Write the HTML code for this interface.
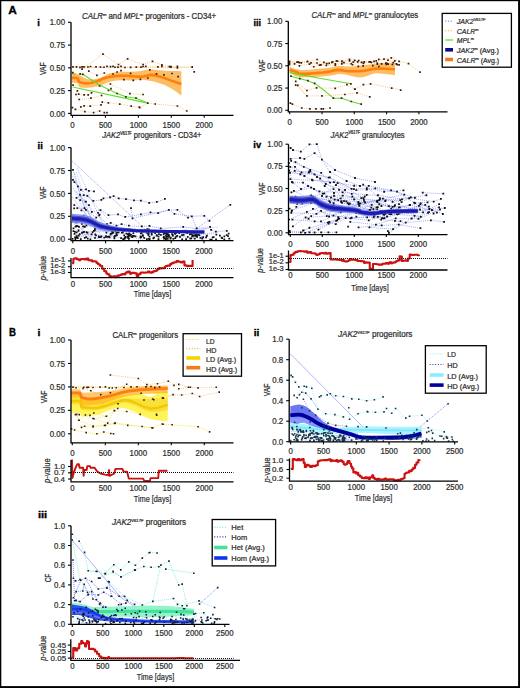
<!DOCTYPE html>
<html><head><meta charset="utf-8"><style>
html,body{margin:0;padding:0;background:#fff;}
body{width:520px;height:688px;overflow:hidden;position:relative;}
svg{position:absolute;left:0;top:0;display:block;}
.t{font-family:"Liberation Sans",sans-serif;font-size:8.0px;fill:#2e2e2e;stroke:#2e2e2e;stroke-width:0.24px;}
.tc{font-family:"Liberation Sans",sans-serif;font-size:8.6px;fill:#2e2e2e;stroke:#2e2e2e;stroke-width:0.2px;}
</style></head><body>
<svg width="520" height="688" viewBox="0 0 520 688">
<rect x="0" y="0" width="520" height="688" fill="#fff"/>
<path d="M72.5 66.9 L192.2 67.2" fill="none" stroke="#f9b655" stroke-width="0.8" stroke-dasharray="1 1.1" opacity="1.0"/>
<path d="M72.5 67.6 L140 67.2 L177.4 67.9" fill="none" stroke="#f9b655" stroke-width="0.7" stroke-dasharray="1 1.1" opacity="1.0"/>
<path d="M82.1 69.2 L103 54.2 L118.5 64.5 L127.6 58.9 L143.1 64.5 L152.5 61.4 L161.9 64.9 L177.4 67.9" fill="none" stroke="#f9b655" stroke-width="0.75" stroke-dasharray="1 1.1" opacity="1.0"/>
<path d="M88.8 71.2 L96.9 75.3 L104.3 73 L113 74 L121 70.6 L130.6 73.3 L149.8 69.9 L156.5 73.9 L163.9 74.9 L172 73.5 L178.1 76.6" fill="none" stroke="#f9b655" stroke-width="0.75" stroke-dasharray="1 1.1" opacity="1.0"/>
<path d="M117 72 L130.6 73.3" fill="none" stroke="#f9b655" stroke-width="0.75" stroke-dasharray="1 1.1" opacity="1.0"/>
<path d="M123.8 79.7 L133.3 80.3 L140.4 79.3 L147.8 78" fill="none" stroke="#f9b655" stroke-width="0.75" stroke-dasharray="1 1.1" opacity="1.0"/>
<path d="M171 67.2 L192.2 67.2 L194.2 71.9" fill="none" stroke="#f9b655" stroke-width="0.75" stroke-dasharray="1 1.1" opacity="1.0"/>
<path d="M73 85.1 L99.6 86 L110.4 84 L129.9 93.7 L143.1 94.5" fill="none" stroke="#f9b655" stroke-width="0.75" stroke-dasharray="1 1.1" opacity="1.0"/>
<path d="M108.4 90.5 L111 88.7" fill="none" stroke="#f9b655" stroke-width="0.75" stroke-dasharray="1 1.1" opacity="1.0"/>
<path d="M77.4 90.8 L76 94.5 L79.2 99.5 L90.9 98.2 L101.6 95.5" fill="none" stroke="#f9b655" stroke-width="0.75" stroke-dasharray="1 1.1" opacity="1.0"/>
<path d="M78.7 94.1 L84.1 94.8 L88.2 94.8 L91.5 92.8" fill="none" stroke="#f9b655" stroke-width="0.75" stroke-dasharray="1 1.1" opacity="1.0"/>
<path d="M80.8 106.9 L84.1 105.8 L90.2 106.2 L101 104.9 L102.3 102.2 L108.4 102.9 L119.8 104.2 L131.2 106.2 L139.3 107.2 L139.7 107.6 L147.8 103.1 L155.2 104 L177.4 106 L186.8 111" fill="none" stroke="#f9b655" stroke-width="0.75" stroke-dasharray="1 1.1" opacity="1.0"/>
<path d="M72.4 107.6 L75.4 109.3 L84.8 111.6 L93.6 112.6 L99.6 111 L104.3 112.6 L107 112.6" fill="none" stroke="#f9b655" stroke-width="0.75" stroke-dasharray="1 1.1" opacity="1.0"/>
<path d="M72 72.3 L73.43 72.57 L75.52 73.03 L78 73.9 L80.81 75.67 L84.01 77.86 L87.5 79.3 L91.39 79.49 L95.57 78.93 L99.6 78 L103.2 76.56 L106.66 74.75 L110.4 73.3 L114.57 72.56 L119.03 72.19 L123.8 71.9 L129.23 71.66 L134.97 71.5 L140 71.2 L143.65 70.5 L146.59 69.66 L149.8 69.2 L153.42 69.44 L157.31 70.07 L162 70.6 L168.65 70.88 L176.1 71.07 L181.4 71.2 L181.4 95.5 L179.22 93.89 L176.07 91.61 L172.7 89.4 L169.34 87.47 L165.75 85.62 L162 84 L157.96 82.66 L153.74 81.55 L149.8 80.7 L146.34 80.14 L143.15 79.83 L140 79.7 L137.09 79.79 L134.22 80.06 L130.6 80.3 L125.55 80.31 L119.75 80.31 L114.4 80.7 L110.01 81.81 L106.09 83.33 L102.3 84.7 L98.63 85.8 L95.1 86.75 L91.5 87.4 L87.37 87.75 L83.16 87.8 L80 87.4 L78.78 86.24 L78.61 84.64 L78 83.4 L76.07 82.9 L73.7 82.76 L72 82.7Z" fill="#fdbd63" opacity="1.0"/>
<path d="M72 78 L73.56 77.85 L75.73 77.7 L77.5 78 L78.17 79.13 L78.44 80.71 L79.4 82 L81.59 82.79 L84.47 83.29 L87.5 83.4 L90.59 83 L93.81 82.22 L96.9 81.3 L99.65 80.23 L102.25 79.03 L105 78 L108.04 77.24 L111.22 76.65 L114.4 76.2 L117.47 75.89 L120.53 75.72 L123.8 75.7 L127.52 75.9 L131.44 76.24 L135 76.5 L137.9 76.65 L140.44 76.73 L143 76.6 L145.62 76.01 L148.27 75.23 L151.2 74.9 L154.61 75.34 L158.31 76.24 L162 77.3 L165.65 78.5 L169.29 79.85 L172.7 81.1 L176.07 82.24 L179.22 83.28 L181.4 84" fill="none" stroke="#ff7f0e" stroke-width="2.6" stroke-linejoin="round" stroke-linecap="butt" opacity="1.0"/>
<path d="M72.7 72.6 L74.7 75.3" fill="none" stroke="#5fdc2c" stroke-width="1.1" stroke-linejoin="round" stroke-linecap="butt" opacity="1.0"/>
<path d="M80.1 73.9 L82.8 74.3 L99 84.7 L117.1 93.5 L125.9 96.8 L136 98.2 L147.8 103.1" fill="none" stroke="#5fdc2c" stroke-width="1.1" stroke-linejoin="round" stroke-linecap="butt" opacity="1.0"/>
<path d="M72.7 87 L147.8 103.1" fill="none" stroke="#5fdc2c" stroke-width="1.1" stroke-linejoin="round" stroke-linecap="butt" opacity="1.0"/>
<path d="M72.15 65.99h1.7v1.7h-1.7zM75.65 66.12h1.7v1.7h-1.7zM79.15 66.56h1.7v1.7h-1.7zM81.25 66.01h1.7v1.7h-1.7zM83.15 66.06h1.7v1.7h-1.7zM87.15 66.15h1.7v1.7h-1.7zM89.65 65.67h1.7v1.7h-1.7zM95.15 66.06h1.7v1.7h-1.7zM99.65 66.21h1.7v1.7h-1.7zM103.15 66.4h1.7v1.7h-1.7zM106.15 65.56h1.7v1.7h-1.7zM109.65 65.81h1.7v1.7h-1.7zM112.15 65.56h1.7v1.7h-1.7zM114.15 66.42h1.7v1.7h-1.7zM117.15 66.28h1.7v1.7h-1.7zM120.15 65.5h1.7v1.7h-1.7zM124.15 66.63h1.7v1.7h-1.7zM129.75 66.61h1.7v1.7h-1.7zM135.45 66.23h1.7v1.7h-1.7zM140.15 66.19h1.7v1.7h-1.7zM142.25 65.64h1.7v1.7h-1.7zM144.95 65.47h1.7v1.7h-1.7zM157.05 66.08h1.7v1.7h-1.7zM161.05 65.52h1.7v1.7h-1.7zM168.45 65.68h1.7v1.7h-1.7zM170.15 65.74h1.7v1.7h-1.7zM176.55 65.49h1.7v1.7h-1.7zM191.35 66.01h1.7v1.7h-1.7zM81.25 68.35h1.7v1.7h-1.7zM102.15 53.35h1.7v1.7h-1.7zM117.65 63.65h1.7v1.7h-1.7zM126.75 58.05h1.7v1.7h-1.7zM142.25 63.65h1.7v1.7h-1.7zM151.65 60.55h1.7v1.7h-1.7zM161.05 64.05h1.7v1.7h-1.7zM176.55 67.05h1.7v1.7h-1.7zM87.95 70.35h1.7v1.7h-1.7zM96.05 74.45h1.7v1.7h-1.7zM103.45 72.15h1.7v1.7h-1.7zM112.15 73.15h1.7v1.7h-1.7zM120.15 69.75h1.7v1.7h-1.7zM129.75 72.45h1.7v1.7h-1.7zM148.95 69.05h1.7v1.7h-1.7zM155.65 73.05h1.7v1.7h-1.7zM163.05 74.05h1.7v1.7h-1.7zM171.15 72.65h1.7v1.7h-1.7zM177.25 75.75h1.7v1.7h-1.7zM116.15 71.15h1.7v1.7h-1.7zM129.75 72.45h1.7v1.7h-1.7zM122.95 78.85h1.7v1.7h-1.7zM132.45 79.45h1.7v1.7h-1.7zM139.55 78.45h1.7v1.7h-1.7zM146.95 77.15h1.7v1.7h-1.7zM170.15 66.35h1.7v1.7h-1.7zM191.35 66.35h1.7v1.7h-1.7zM193.35 71.05h1.7v1.7h-1.7zM72.15 84.25h1.7v1.7h-1.7zM98.75 85.15h1.7v1.7h-1.7zM109.55 83.15h1.7v1.7h-1.7zM129.05 92.85h1.7v1.7h-1.7zM142.25 93.65h1.7v1.7h-1.7zM107.55 89.65h1.7v1.7h-1.7zM110.15 87.85h1.7v1.7h-1.7zM76.55 89.95h1.7v1.7h-1.7zM75.15 93.65h1.7v1.7h-1.7zM78.35 98.65h1.7v1.7h-1.7zM90.05 97.35h1.7v1.7h-1.7zM100.75 94.65h1.7v1.7h-1.7zM77.85 93.25h1.7v1.7h-1.7zM83.25 93.95h1.7v1.7h-1.7zM87.35 93.95h1.7v1.7h-1.7zM90.65 91.95h1.7v1.7h-1.7zM79.95 106.05h1.7v1.7h-1.7zM83.25 104.95h1.7v1.7h-1.7zM89.35 105.35h1.7v1.7h-1.7zM100.15 104.05h1.7v1.7h-1.7zM101.45 101.35h1.7v1.7h-1.7zM107.55 102.05h1.7v1.7h-1.7zM118.95 103.35h1.7v1.7h-1.7zM130.35 105.35h1.7v1.7h-1.7zM138.45 106.35h1.7v1.7h-1.7zM138.85 106.75h1.7v1.7h-1.7zM146.95 102.25h1.7v1.7h-1.7zM154.35 103.15h1.7v1.7h-1.7zM176.55 105.15h1.7v1.7h-1.7zM185.95 110.15h1.7v1.7h-1.7zM71.55 106.75h1.7v1.7h-1.7zM74.55 108.45h1.7v1.7h-1.7zM83.95 110.75h1.7v1.7h-1.7zM92.75 111.75h1.7v1.7h-1.7zM98.75 110.15h1.7v1.7h-1.7zM103.45 111.75h1.7v1.7h-1.7zM106.15 111.75h1.7v1.7h-1.7zM71.85 71.75h1.7v1.7h-1.7zM79.25 73.05h1.7v1.7h-1.7zM81.95 73.45h1.7v1.7h-1.7zM116.25 92.65h1.7v1.7h-1.7zM125.05 95.95h1.7v1.7h-1.7zM135.15 97.35h1.7v1.7h-1.7zM146.95 102.25h1.7v1.7h-1.7z" fill="#3a1a10"/>
<path d="M289.5 61.39 L297.95 61.94 L307.61 61.77 L317.14 59.49 L323.93 62.42 L331.83 62.28 L336.51 60.9 L341.99 61.14 L349.43 59.44 L354.73 60.29 L364.23 61.85 L369.19 61.95 L374.02 61.38 L378.78 59.41 L388.01 60.07 L393.3 62.54" fill="none" stroke="#f9b655" stroke-width="0.7" stroke-dasharray="1 1.1" opacity="1.0"/>
<path d="M289.5 61.73 L299.27 62.53 L307.34 61.46 L316.98 63.01 L326.78 63.66 L332.57 61.96 L337.57 61.27 L341.96 61.76 L349.58 60.81 L357.65 61.88 L363.51 63.42 L370.39 61.81 L377.28 63.05 L381.62 63.92 L385.76 63.2 L394.83 60.86" fill="none" stroke="#f9b655" stroke-width="0.7" stroke-dasharray="1 1.1" opacity="1.0"/>
<path d="M289.5 63.37 L296.97 62.23 L301.25 62.78 L310.98 62.83 L319.52 65.17 L329.17 63.3 L335.3 63.88 L343.95 62.55 L352.44 64.75 L361.6 62.32 L371.27 62.49 L377.32 64.15 L386.83 63.29 L396.37 63.94" fill="none" stroke="#f9b655" stroke-width="0.7" stroke-dasharray="1 1.1" opacity="1.0"/>
<path d="M289.5 64.61 L294.56 63.85 L299.46 65.81 L309.44 64.12 L313.73 66.76 L320.93 64.9 L326.35 65.5 L335.31 65.06 L341.84 63.78 L351.34 63.7 L358.3 66.28 L363.08 65.94 L372.78 65.62 L381.51 63.94 L388.12 64.08 L397.19 64.54" fill="none" stroke="#f9b655" stroke-width="0.7" stroke-dasharray="1 1.1" opacity="1.0"/>
<path d="M376.2 60.9 L384 59.1 L391.3 57.8 L399.1 61.4 L408.5 63.6 L420 72.2" fill="none" stroke="#f9b655" stroke-width="0.75" stroke-dasharray="1 1.1" opacity="1.0"/>
<path d="M289.5 66.5 L291.76 67.58 L295.25 69.04 L300.5 69.9 L308.89 69.63 L319.04 68.77 L327.4 67.9 L332.05 67.14 L334.9 66.37 L338.1 65.9 L342.11 66.03 L346.49 66.45 L352 66.5 L359.5 65.77 L368.15 64.67 L376.2 63.8 L383.56 63.42 L390.33 63.28 L395 63.2 L395 75.3 L389.83 74.59 L382.56 73.65 L376.2 73.3 L371.95 74.1 L368.6 75.5 L365.5 76.6 L362.76 77.18 L360.27 77.47 L357 77.3 L352.3 76.27 L346.82 74.78 L341.5 73.9 L337.17 74.22 L333 75.16 L327.4 76 L318.79 76.71 L308.76 77.34 L300.5 77.3 L295.25 76 L291.76 74.04 L289.5 72.6Z" fill="#fdbd63" opacity="1.0"/>
<path d="M289.5 69.9 L291.39 70.42 L294.05 71.16 L296.4 71.9 L297.63 72.66 L298.55 73.43 L300.5 73.9 L304.27 73.92 L309.08 73.66 L313.9 73.3 L318.5 72.91 L323.1 72.44 L327.4 71.9 L331.22 71.16 L334.73 70.34 L338.1 69.9 L341.36 70.14 L344.49 70.74 L347.6 71.2 L350.77 71.32 L353.94 71.29 L357 71.2 L359.82 71.1 L362.54 70.93 L365.5 70.6 L368.6 69.94 L371.95 69.13 L376.2 68.6 L382.56 68.63 L389.83 68.95 L395 69.2" fill="none" stroke="#ff7f0e" stroke-width="2.6" stroke-linejoin="round" stroke-linecap="butt" opacity="1.0"/>
<path d="M295.7 81.3 L306.9 90.5 L316.6 87.8 L335.2 88.3 L346.9 84.7 L355 89.1" fill="none" stroke="#f9b655" stroke-width="0.75" stroke-dasharray="1 1.1" opacity="1.0"/>
<path d="M297.8 85.4 L306.9 95.9 L322 95.9 L344.9 94.5 L357 92.8 L369.8 96.8" fill="none" stroke="#f9b655" stroke-width="0.75" stroke-dasharray="1 1.1" opacity="1.0"/>
<path d="M295.7 85.1 L306.9 95.9" fill="none" stroke="#f9b655" stroke-width="0.75" stroke-dasharray="1 1.1" opacity="1.0"/>
<path d="M354.7 89.1 L363.4 84.7 L370.6 83.8 L391.7 88.1 L400.7 90.1" fill="none" stroke="#f9b655" stroke-width="0.75" stroke-dasharray="1 1.1" opacity="1.0"/>
<path d="M290.4 103.1 L292.4 104.2 L301.8 108 L309.9 108.9 L315.9 108.9 L321.3 108.9 L323.3 108.9 L330.1 108" fill="none" stroke="#f9b655" stroke-width="0.75" stroke-dasharray="1 1.1" opacity="1.0"/>
<path d="M291 76.2 L299.8 78.6 L307.9 80.7 L314.6 83.4 L324.7 90.8 L333.4 98.2 L341.5 98.2 L351.3 101.5 L361.2 104.2" fill="none" stroke="#5fdc2c" stroke-width="1.1" stroke-linejoin="round" stroke-linecap="butt" opacity="1.0"/>
<path d="M289.7 72.6 L318 78 L350.9 83.8" fill="none" stroke="#5fdc2c" stroke-width="1.1" stroke-linejoin="round" stroke-linecap="butt" opacity="1.0"/>
<path d="M288.65 60.54h1.7v1.7h-1.7zM297.1 61.09h1.7v1.7h-1.7zM306.76 60.92h1.7v1.7h-1.7zM316.29 58.64h1.7v1.7h-1.7zM323.08 61.57h1.7v1.7h-1.7zM330.98 61.43h1.7v1.7h-1.7zM335.66 60.05h1.7v1.7h-1.7zM341.14 60.29h1.7v1.7h-1.7zM348.58 58.59h1.7v1.7h-1.7zM353.88 59.44h1.7v1.7h-1.7zM363.38 61h1.7v1.7h-1.7zM368.34 61.1h1.7v1.7h-1.7zM373.17 60.53h1.7v1.7h-1.7zM377.93 58.56h1.7v1.7h-1.7zM387.16 59.22h1.7v1.7h-1.7zM392.45 61.69h1.7v1.7h-1.7zM288.65 60.88h1.7v1.7h-1.7zM298.42 61.68h1.7v1.7h-1.7zM306.49 60.61h1.7v1.7h-1.7zM316.13 62.16h1.7v1.7h-1.7zM325.93 62.81h1.7v1.7h-1.7zM331.72 61.11h1.7v1.7h-1.7zM336.72 60.42h1.7v1.7h-1.7zM341.11 60.91h1.7v1.7h-1.7zM348.73 59.96h1.7v1.7h-1.7zM356.8 61.03h1.7v1.7h-1.7zM362.66 62.57h1.7v1.7h-1.7zM369.54 60.96h1.7v1.7h-1.7zM376.43 62.2h1.7v1.7h-1.7zM380.77 63.07h1.7v1.7h-1.7zM384.91 62.35h1.7v1.7h-1.7zM393.98 60.01h1.7v1.7h-1.7zM288.65 62.52h1.7v1.7h-1.7zM296.12 61.38h1.7v1.7h-1.7zM300.4 61.93h1.7v1.7h-1.7zM310.13 61.98h1.7v1.7h-1.7zM318.67 64.32h1.7v1.7h-1.7zM328.32 62.45h1.7v1.7h-1.7zM334.45 63.03h1.7v1.7h-1.7zM343.1 61.7h1.7v1.7h-1.7zM351.59 63.9h1.7v1.7h-1.7zM360.75 61.47h1.7v1.7h-1.7zM370.42 61.64h1.7v1.7h-1.7zM376.47 63.3h1.7v1.7h-1.7zM385.98 62.44h1.7v1.7h-1.7zM395.52 63.09h1.7v1.7h-1.7zM288.65 63.76h1.7v1.7h-1.7zM293.71 63h1.7v1.7h-1.7zM298.61 64.96h1.7v1.7h-1.7zM308.59 63.27h1.7v1.7h-1.7zM312.88 65.91h1.7v1.7h-1.7zM320.08 64.05h1.7v1.7h-1.7zM325.5 64.65h1.7v1.7h-1.7zM334.46 64.21h1.7v1.7h-1.7zM340.99 62.93h1.7v1.7h-1.7zM350.49 62.85h1.7v1.7h-1.7zM357.45 65.43h1.7v1.7h-1.7zM362.23 65.09h1.7v1.7h-1.7zM371.93 64.77h1.7v1.7h-1.7zM380.66 63.09h1.7v1.7h-1.7zM387.27 63.23h1.7v1.7h-1.7zM396.34 63.69h1.7v1.7h-1.7zM352.45 61.35h1.7v1.7h-1.7zM357.85 59.65h1.7v1.7h-1.7zM375.35 60.05h1.7v1.7h-1.7zM383.15 58.25h1.7v1.7h-1.7zM390.45 56.95h1.7v1.7h-1.7zM398.25 60.55h1.7v1.7h-1.7zM398.25 64.05h1.7v1.7h-1.7zM407.65 62.75h1.7v1.7h-1.7zM419.15 71.35h1.7v1.7h-1.7zM385.45 63.65h1.7v1.7h-1.7zM391.55 63.65h1.7v1.7h-1.7zM378.05 65.65h1.7v1.7h-1.7zM294.85 80.45h1.7v1.7h-1.7zM306.05 89.65h1.7v1.7h-1.7zM315.75 86.95h1.7v1.7h-1.7zM334.35 87.45h1.7v1.7h-1.7zM346.05 83.85h1.7v1.7h-1.7zM354.15 88.25h1.7v1.7h-1.7zM296.95 84.55h1.7v1.7h-1.7zM306.05 95.05h1.7v1.7h-1.7zM321.15 95.05h1.7v1.7h-1.7zM344.05 93.65h1.7v1.7h-1.7zM356.15 91.95h1.7v1.7h-1.7zM368.95 95.95h1.7v1.7h-1.7zM294.85 84.25h1.7v1.7h-1.7zM306.05 95.05h1.7v1.7h-1.7zM353.85 88.25h1.7v1.7h-1.7zM362.55 83.85h1.7v1.7h-1.7zM369.75 82.95h1.7v1.7h-1.7zM390.85 87.25h1.7v1.7h-1.7zM399.85 89.25h1.7v1.7h-1.7zM289.55 102.25h1.7v1.7h-1.7zM291.55 103.35h1.7v1.7h-1.7zM300.95 107.15h1.7v1.7h-1.7zM309.05 108.05h1.7v1.7h-1.7zM315.05 108.05h1.7v1.7h-1.7zM320.45 108.05h1.7v1.7h-1.7zM322.45 108.05h1.7v1.7h-1.7zM329.25 107.15h1.7v1.7h-1.7zM290.15 75.35h1.7v1.7h-1.7zM298.95 77.75h1.7v1.7h-1.7zM307.05 79.85h1.7v1.7h-1.7zM313.75 82.55h1.7v1.7h-1.7zM332.55 97.35h1.7v1.7h-1.7zM340.65 97.35h1.7v1.7h-1.7zM350.45 100.65h1.7v1.7h-1.7zM360.35 103.35h1.7v1.7h-1.7zM350.05 82.95h1.7v1.7h-1.7z" fill="#3a1a10"/>
<path d="M72.2 161 L146 230" fill="none" stroke="#7f8ef5" stroke-width="0.8" stroke-dasharray="1 1" opacity="1.0"/>
<path d="M72.9 179.9 L74.4 182.1 L78 186.4 L80.9 190 L86 189.3 L88.9 190.8 L94 191.5" fill="none" stroke="#6f7ff2" stroke-width="0.7" stroke-dasharray="1 1" opacity="1.0"/>
<path d="M76.5 198 L83.8 195.1 L87.4 195.9 L93.3 201 L101.3 199.9 L103.4 198.5 L110 197.3 L113.6 196.2 L118.7 198.5 L126 199.1 L134 200.5 L140.9 200.6 L149.2 202.9 L156.8 201.9 L164.9 199" fill="none" stroke="#6f7ff2" stroke-width="0.7" stroke-dasharray="1 1" opacity="1.0"/>
<path d="M80.2 200.2 L86 201.7 L91.8 211.9 L100.5 210.1 L108.5 215.1 L118 214.5 L125.2 217 L140.9 214.4 L150.5 212.5 L158.2 213.1 L168.8 210 L177.4 210 L188 217.7 L191.8 216.3 L204.3 215.8 L209.5 220.8" fill="none" stroke="#6f7ff2" stroke-width="0.7" stroke-dasharray="1 1" opacity="1.0"/>
<path d="M77.3 208.2 L84.5 208.2 L96.2 217.7 L99.1 215.5 L107 224.2 L110.7 222.8 L116.5 225.7 L121.6 224.2 L128.9 225.7 L141.8 226.5 L149.5 226 L160.7 228.5 L183.2 226.9 L196.7 228.5 L230.3 204.8" fill="none" stroke="#6f7ff2" stroke-width="0.7" stroke-dasharray="1 1" opacity="1.0"/>
<path d="M131 208.2 L132.5 218.4 L168.8 210 L174.5 213.8 L191.8 216.3 L196.7 228.5" fill="none" stroke="#6f7ff2" stroke-width="0.7" stroke-dasharray="1 1" opacity="1.0"/>
<path d="M73 170 L80 195 L86 210 L95 222" fill="none" stroke="#6f7ff2" stroke-width="0.7" stroke-dasharray="1 1" opacity="1.0"/>
<path d="M210.1 226.9 L211.1 229.8 L215.9 231.7 L226.8 230.8" fill="none" stroke="#6f7ff2" stroke-width="0.7" stroke-dasharray="1 1" opacity="1.0"/>
<path d="M75.35 235.16 L103.22 237.79" fill="none" stroke="#8d99f5" stroke-width="0.6" stroke-dasharray="1 1" opacity="1.0"/>
<path d="M75.87 222.24 L92.83 238.94" fill="none" stroke="#8d99f5" stroke-width="0.6" stroke-dasharray="1 1" opacity="1.0"/>
<path d="M79.36 186.61 L107.91 219.43" fill="none" stroke="#8d99f5" stroke-width="0.6" stroke-dasharray="1 1" opacity="1.0"/>
<path d="M72.77 218.45 L87.24 227.47" fill="none" stroke="#8d99f5" stroke-width="0.6" stroke-dasharray="1 1" opacity="1.0"/>
<path d="M77.11 168 L101.51 221.62" fill="none" stroke="#8d99f5" stroke-width="0.6" stroke-dasharray="1 1" opacity="1.0"/>
<path d="M75.46 190.51 L99.79 232.92" fill="none" stroke="#8d99f5" stroke-width="0.6" stroke-dasharray="1 1" opacity="1.0"/>
<path d="M74.3 172.65 L88.88 224.87" fill="none" stroke="#8d99f5" stroke-width="0.6" stroke-dasharray="1 1" opacity="1.0"/>
<path d="M72.62 176.34 L97.4 231.81" fill="none" stroke="#8d99f5" stroke-width="0.6" stroke-dasharray="1 1" opacity="1.0"/>
<path d="M79.81 237.49 L107.09 223.94" fill="none" stroke="#8d99f5" stroke-width="0.6" stroke-dasharray="1 1" opacity="1.0"/>
<path d="M73.29 188.08 L91.48 227.62" fill="none" stroke="#8d99f5" stroke-width="0.6" stroke-dasharray="1 1" opacity="1.0"/>
<path d="M76.34 191.62 L103.1 221.84" fill="none" stroke="#8d99f5" stroke-width="0.6" stroke-dasharray="1 1" opacity="1.0"/>
<path d="M75.71 230.62 L101.46 222.14" fill="none" stroke="#8d99f5" stroke-width="0.6" stroke-dasharray="1 1" opacity="1.0"/>
<path d="M73.94 224.69 L82.16 218.16" fill="none" stroke="#8d99f5" stroke-width="0.6" stroke-dasharray="1 1" opacity="1.0"/>
<path d="M76.25 204.65 L87.89 216.21" fill="none" stroke="#8d99f5" stroke-width="0.6" stroke-dasharray="1 1" opacity="1.0"/>
<path d="M73.63 221.98 L91.88 238.5" fill="none" stroke="#8d99f5" stroke-width="0.6" stroke-dasharray="1 1" opacity="1.0"/>
<path d="M78.28 237.46 L87.06 219.44" fill="none" stroke="#8d99f5" stroke-width="0.6" stroke-dasharray="1 1" opacity="1.0"/>
<path d="M72.11 196.99 L87.55 216.23" fill="none" stroke="#8d99f5" stroke-width="0.6" stroke-dasharray="1 1" opacity="1.0"/>
<path d="M76.37 171.94 L91.22 220.93" fill="none" stroke="#8d99f5" stroke-width="0.6" stroke-dasharray="1 1" opacity="1.0"/>
<path d="M174.67 232.6 L187.1 228.95" fill="none" stroke="#8d99f5" stroke-width="0.6" stroke-dasharray="1 1" opacity="1.0"/>
<path d="M126.98 234.9 L146.46 238.2" fill="none" stroke="#8d99f5" stroke-width="0.6" stroke-dasharray="1 1" opacity="1.0"/>
<path d="M175.5 230.72 L185.8 232.79" fill="none" stroke="#8d99f5" stroke-width="0.6" stroke-dasharray="1 1" opacity="1.0"/>
<path d="M173.06 233.6 L195.18 234.01" fill="none" stroke="#8d99f5" stroke-width="0.6" stroke-dasharray="1 1" opacity="1.0"/>
<path d="M107.79 229.86 L116.08 231" fill="none" stroke="#8d99f5" stroke-width="0.6" stroke-dasharray="1 1" opacity="1.0"/>
<path d="M186.81 237.97 L202.76 239.29" fill="none" stroke="#8d99f5" stroke-width="0.6" stroke-dasharray="1 1" opacity="1.0"/>
<path d="M190.86 236.95 L209.11 236.27" fill="none" stroke="#8d99f5" stroke-width="0.6" stroke-dasharray="1 1" opacity="1.0"/>
<path d="M138.36 229.88 L149.47 231.35" fill="none" stroke="#8d99f5" stroke-width="0.6" stroke-dasharray="1 1" opacity="1.0"/>
<path d="M198.99 234.02 L213.93 232.83" fill="none" stroke="#8d99f5" stroke-width="0.6" stroke-dasharray="1 1" opacity="1.0"/>
<path d="M130.23 236.83 L145.92 240.51" fill="none" stroke="#8d99f5" stroke-width="0.6" stroke-dasharray="1 1" opacity="1.0"/>
<path d="M91.88 231.46 L108.75 230.76" fill="none" stroke="#8d99f5" stroke-width="0.6" stroke-dasharray="1 1" opacity="1.0"/>
<path d="M180.94 237.1 L204.77 238" fill="none" stroke="#8d99f5" stroke-width="0.6" stroke-dasharray="1 1" opacity="1.0"/>
<path d="M75.92 234.32 L93.26 234.22" fill="none" stroke="#8d99f5" stroke-width="0.6" stroke-dasharray="1 1" opacity="1.0"/>
<path d="M107.82 235.8 L131.32 232.62" fill="none" stroke="#8d99f5" stroke-width="0.6" stroke-dasharray="1 1" opacity="1.0"/>
<path d="M157.59 232.08 L174.34 235.25" fill="none" stroke="#8d99f5" stroke-width="0.6" stroke-dasharray="1 1" opacity="1.0"/>
<path d="M194.92 235.08 L206.24 238.44" fill="none" stroke="#8d99f5" stroke-width="0.6" stroke-dasharray="1 1" opacity="1.0"/>
<path d="M95.18 232.22 L117.26 230.75" fill="none" stroke="#8d99f5" stroke-width="0.6" stroke-dasharray="1 1" opacity="1.0"/>
<path d="M106.67 238.45 L130.72 236.99" fill="none" stroke="#8d99f5" stroke-width="0.6" stroke-dasharray="1 1" opacity="1.0"/>
<path d="M122.24 231.1 L132.48 229.1" fill="none" stroke="#8d99f5" stroke-width="0.6" stroke-dasharray="1 1" opacity="1.0"/>
<path d="M197.46 228.87 L209.37 226.47" fill="none" stroke="#8d99f5" stroke-width="0.6" stroke-dasharray="1 1" opacity="1.0"/>
<path d="M82.18 233.79 L102.81 236.5" fill="none" stroke="#8d99f5" stroke-width="0.6" stroke-dasharray="1 1" opacity="1.0"/>
<path d="M152.78 237 L160.87 235.25" fill="none" stroke="#8d99f5" stroke-width="0.6" stroke-dasharray="1 1" opacity="1.0"/>
<path d="M195.03 228.76 L207.58 228.63" fill="none" stroke="#8d99f5" stroke-width="0.6" stroke-dasharray="1 1" opacity="1.0"/>
<path d="M106.29 234.01 L115.09 231.89" fill="none" stroke="#8d99f5" stroke-width="0.6" stroke-dasharray="1 1" opacity="1.0"/>
<path d="M194.57 229.59 L217.96 227.01" fill="none" stroke="#8d99f5" stroke-width="0.6" stroke-dasharray="1 1" opacity="1.0"/>
<path d="M199.08 235.42 L218.08 232.56" fill="none" stroke="#8d99f5" stroke-width="0.6" stroke-dasharray="1 1" opacity="1.0"/>
<path d="M78.99 236.35 L89.98 233.87" fill="none" stroke="#8d99f5" stroke-width="0.6" stroke-dasharray="1 1" opacity="1.0"/>
<path d="M177.3 237.62 L186.13 241.31" fill="none" stroke="#8d99f5" stroke-width="0.6" stroke-dasharray="1 1" opacity="1.0"/>
<path d="M140.44 232.21 L150.26 231.33" fill="none" stroke="#8d99f5" stroke-width="0.6" stroke-dasharray="1 1" opacity="1.0"/>
<path d="M198.4 231.09 L208.63 228.25" fill="none" stroke="#8d99f5" stroke-width="0.6" stroke-dasharray="1 1" opacity="1.0"/>
<path d="M88.24 231.88 L111.8 228.49" fill="none" stroke="#8d99f5" stroke-width="0.6" stroke-dasharray="1 1" opacity="1.0"/>
<path d="M96.57 238.33 L121.52 242.17" fill="none" stroke="#8d99f5" stroke-width="0.6" stroke-dasharray="1 1" opacity="1.0"/>
<path d="M103.48 231.9 L127.65 231.78" fill="none" stroke="#8d99f5" stroke-width="0.6" stroke-dasharray="1 1" opacity="1.0"/>
<path d="M162.04 231.45 L170.4 230.21" fill="none" stroke="#8d99f5" stroke-width="0.6" stroke-dasharray="1 1" opacity="1.0"/>
<path d="M167.77 236.6 L185.44 236.31" fill="none" stroke="#8d99f5" stroke-width="0.6" stroke-dasharray="1 1" opacity="1.0"/>
<path d="M140.88 232.87 L157.97 235.53" fill="none" stroke="#8d99f5" stroke-width="0.6" stroke-dasharray="1 1" opacity="1.0"/>
<path d="M97.66 234.54 L121.52 237.32" fill="none" stroke="#8d99f5" stroke-width="0.6" stroke-dasharray="1 1" opacity="1.0"/>
<path d="M94.97 238.6 L117.25 235.94" fill="none" stroke="#8d99f5" stroke-width="0.6" stroke-dasharray="1 1" opacity="1.0"/>
<path d="M106.03 230.23 L114.94 234.05" fill="none" stroke="#8d99f5" stroke-width="0.6" stroke-dasharray="1 1" opacity="1.0"/>
<path d="M124.39 237.6 L134.34 233.71" fill="none" stroke="#8d99f5" stroke-width="0.6" stroke-dasharray="1 1" opacity="1.0"/>
<path d="M72.03 179.03h1.75v1.75h-1.75zM73.53 181.22h1.75v1.75h-1.75zM77.12 185.53h1.75v1.75h-1.75zM80.03 189.12h1.75v1.75h-1.75zM85.12 188.43h1.75v1.75h-1.75zM88.03 189.93h1.75v1.75h-1.75zM93.12 190.62h1.75v1.75h-1.75zM75.62 197.12h1.75v1.75h-1.75zM82.92 194.22h1.75v1.75h-1.75zM86.53 195.03h1.75v1.75h-1.75zM92.42 200.12h1.75v1.75h-1.75zM100.42 199.03h1.75v1.75h-1.75zM102.53 197.62h1.75v1.75h-1.75zM109.12 196.43h1.75v1.75h-1.75zM112.72 195.32h1.75v1.75h-1.75zM117.83 197.62h1.75v1.75h-1.75zM125.12 198.22h1.75v1.75h-1.75zM133.12 199.62h1.75v1.75h-1.75zM140.03 199.72h1.75v1.75h-1.75zM148.32 202.03h1.75v1.75h-1.75zM155.93 201.03h1.75v1.75h-1.75zM164.03 198.12h1.75v1.75h-1.75zM79.33 199.32h1.75v1.75h-1.75zM85.12 200.82h1.75v1.75h-1.75zM90.92 211.03h1.75v1.75h-1.75zM99.62 209.22h1.75v1.75h-1.75zM107.62 214.22h1.75v1.75h-1.75zM117.12 213.62h1.75v1.75h-1.75zM124.33 216.12h1.75v1.75h-1.75zM140.03 213.53h1.75v1.75h-1.75zM149.62 211.62h1.75v1.75h-1.75zM157.32 212.22h1.75v1.75h-1.75zM167.93 209.12h1.75v1.75h-1.75zM176.53 209.12h1.75v1.75h-1.75zM187.12 216.82h1.75v1.75h-1.75zM190.93 215.43h1.75v1.75h-1.75zM203.43 214.93h1.75v1.75h-1.75zM208.62 219.93h1.75v1.75h-1.75zM76.42 207.32h1.75v1.75h-1.75zM83.62 207.32h1.75v1.75h-1.75zM95.33 216.82h1.75v1.75h-1.75zM98.22 214.62h1.75v1.75h-1.75zM106.12 223.32h1.75v1.75h-1.75zM109.83 221.93h1.75v1.75h-1.75zM115.62 224.82h1.75v1.75h-1.75zM120.72 223.32h1.75v1.75h-1.75zM128.03 224.82h1.75v1.75h-1.75zM140.93 225.62h1.75v1.75h-1.75zM148.62 225.12h1.75v1.75h-1.75zM159.82 227.62h1.75v1.75h-1.75zM182.32 226.03h1.75v1.75h-1.75zM195.82 227.62h1.75v1.75h-1.75zM229.43 203.93h1.75v1.75h-1.75zM130.12 207.32h1.75v1.75h-1.75zM131.62 217.53h1.75v1.75h-1.75zM167.93 209.12h1.75v1.75h-1.75zM173.62 212.93h1.75v1.75h-1.75zM190.93 215.43h1.75v1.75h-1.75zM195.82 227.62h1.75v1.75h-1.75zM72.12 169.12h1.75v1.75h-1.75zM79.12 194.12h1.75v1.75h-1.75zM85.12 209.12h1.75v1.75h-1.75zM94.12 221.12h1.75v1.75h-1.75zM209.22 226.03h1.75v1.75h-1.75zM210.22 228.93h1.75v1.75h-1.75zM215.03 230.82h1.75v1.75h-1.75zM225.93 229.93h1.75v1.75h-1.75zM140.79 232.05h1.75v1.75h-1.75zM151.22 230.69h1.75v1.75h-1.75zM178.32 232.36h1.75v1.75h-1.75zM198.57 234.17h1.75v1.75h-1.75zM132.1 234.9h1.75v1.75h-1.75zM152.39 237.59h1.75v1.75h-1.75zM166.01 235.9h1.75v1.75h-1.75zM168.18 235.21h1.75v1.75h-1.75zM75.09 236.76h1.75v1.75h-1.75zM163.13 237.68h1.75v1.75h-1.75zM189.03 233.52h1.75v1.75h-1.75zM128.04 238.04h1.75v1.75h-1.75zM83.6 226.11h1.75v1.75h-1.75zM194.71 233.88h1.75v1.75h-1.75zM109.66 233.5h1.75v1.75h-1.75zM116.04 234.33h1.75v1.75h-1.75zM186.86 235.99h1.75v1.75h-1.75zM225.81 234.26h1.75v1.75h-1.75zM181.29 238.42h1.75v1.75h-1.75zM215.18 238.47h1.75v1.75h-1.75zM98.15 236.27h1.75v1.75h-1.75zM107.6 225.05h1.75v1.75h-1.75zM197.82 230.89h1.75v1.75h-1.75zM123.66 229.72h1.75v1.75h-1.75zM169.53 237.63h1.75v1.75h-1.75zM149.79 230.51h1.75v1.75h-1.75zM113.49 237.46h1.75v1.75h-1.75zM212.83 236.14h1.75v1.75h-1.75zM147.89 228.46h1.75v1.75h-1.75zM123.34 234.6h1.75v1.75h-1.75zM76.56 236.79h1.75v1.75h-1.75zM193.83 237.84h1.75v1.75h-1.75zM130.06 233.64h1.75v1.75h-1.75zM147.37 234.05h1.75v1.75h-1.75zM191.52 234.49h1.75v1.75h-1.75zM163.32 232.17h1.75v1.75h-1.75zM196.28 234.61h1.75v1.75h-1.75zM72.59 230.19h1.75v1.75h-1.75zM73.69 233.12h1.75v1.75h-1.75zM78.82 233.28h1.75v1.75h-1.75zM158.07 233.16h1.75v1.75h-1.75zM165.59 230.32h1.75v1.75h-1.75zM157.66 238.41h1.75v1.75h-1.75zM129.53 234.41h1.75v1.75h-1.75zM117.71 231.44h1.75v1.75h-1.75zM147.36 231.31h1.75v1.75h-1.75zM169.98 230.36h1.75v1.75h-1.75zM165.23 232.79h1.75v1.75h-1.75zM174.01 232.18h1.75v1.75h-1.75zM126.83 235.52h1.75v1.75h-1.75zM112.34 231.66h1.75v1.75h-1.75zM127.24 237.19h1.75v1.75h-1.75zM114.22 235.02h1.75v1.75h-1.75zM210.82 238.7h1.75v1.75h-1.75zM86.6 231.86h1.75v1.75h-1.75zM174.39 237.34h1.75v1.75h-1.75zM106.78 235.91h1.75v1.75h-1.75zM174.33 233.09h1.75v1.75h-1.75zM108.49 235.72h1.75v1.75h-1.75zM115.46 232.54h1.75v1.75h-1.75zM123.54 237.88h1.75v1.75h-1.75zM71.72 237.9h1.75v1.75h-1.75zM197.45 233.86h1.75v1.75h-1.75zM228.44 237.86h1.75v1.75h-1.75zM155.99 234.59h1.75v1.75h-1.75zM114.78 230.54h1.75v1.75h-1.75zM146.48 231.17h1.75v1.75h-1.75zM76.89 237.32h1.75v1.75h-1.75zM189.38 237.84h1.75v1.75h-1.75zM215.47 233.84h1.75v1.75h-1.75zM166.52 231.6h1.75v1.75h-1.75zM155.98 234.64h1.75v1.75h-1.75zM191.32 235.39h1.75v1.75h-1.75zM103.44 236.71h1.75v1.75h-1.75zM171.26 233.15h1.75v1.75h-1.75zM139.56 236.78h1.75v1.75h-1.75zM172.46 238.05h1.75v1.75h-1.75zM176.53 230.19h1.75v1.75h-1.75zM181.53 230.55h1.75v1.75h-1.75zM105.5 231.82h1.75v1.75h-1.75zM131.66 236.36h1.75v1.75h-1.75zM78.14 225.98h1.75v1.75h-1.75zM79.88 238.36h1.75v1.75h-1.75zM82.15 231.46h1.75v1.75h-1.75zM111.39 231.85h1.75v1.75h-1.75zM146.21 231.95h1.75v1.75h-1.75zM113.21 229.44h1.75v1.75h-1.75zM162.78 233.4h1.75v1.75h-1.75zM93.98 229.57h1.75v1.75h-1.75zM171.3 233.4h1.75v1.75h-1.75zM150.86 233.84h1.75v1.75h-1.75zM134.63 235.58h1.75v1.75h-1.75zM159.97 234.09h1.75v1.75h-1.75zM139.71 235.49h1.75v1.75h-1.75zM125.51 232.64h1.75v1.75h-1.75zM190.99 233.34h1.75v1.75h-1.75zM223.39 238.47h1.75v1.75h-1.75zM175.22 235.82h1.75v1.75h-1.75zM223.45 235.38h1.75v1.75h-1.75zM165.04 234.97h1.75v1.75h-1.75zM146.36 228.18h1.75v1.75h-1.75zM170.24 230.51h1.75v1.75h-1.75zM83.84 236.98h1.75v1.75h-1.75zM74.13 236.41h1.75v1.75h-1.75zM179.15 235.92h1.75v1.75h-1.75zM193.03 235.11h1.75v1.75h-1.75zM75.77 235.33h1.75v1.75h-1.75zM162.67 231.04h1.75v1.75h-1.75zM190.75 230.65h1.75v1.75h-1.75zM143.31 236.9h1.75v1.75h-1.75zM94.14 227.77h1.75v1.75h-1.75zM167.58 233.51h1.75v1.75h-1.75zM121.89 231.84h1.75v1.75h-1.75zM81.78 231.43h1.75v1.75h-1.75zM209.4 238.7h1.75v1.75h-1.75zM167.91 235.92h1.75v1.75h-1.75zM133.04 234.94h1.75v1.75h-1.75zM199.65 236.95h1.75v1.75h-1.75zM166.89 238.01h1.75v1.75h-1.75zM127.84 235.75h1.75v1.75h-1.75zM105.35 227.03h1.75v1.75h-1.75zM111.43 230.59h1.75v1.75h-1.75zM193.16 232.67h1.75v1.75h-1.75zM124.01 237.17h1.75v1.75h-1.75zM105.32 227.3h1.75v1.75h-1.75zM132.5 232.18h1.75v1.75h-1.75zM117.27 231.54h1.75v1.75h-1.75zM89.51 238.6h1.75v1.75h-1.75zM147.8 233.09h1.75v1.75h-1.75zM176.29 234.92h1.75v1.75h-1.75zM163.38 237.49h1.75v1.75h-1.75zM165.02 238.38h1.75v1.75h-1.75zM100.51 227.55h1.75v1.75h-1.75zM157.57 238.37h1.75v1.75h-1.75zM102.11 226.89h1.75v1.75h-1.75zM95.08 234.41h1.75v1.75h-1.75zM186.29 232.32h1.75v1.75h-1.75zM111.24 232.61h1.75v1.75h-1.75zM82.12 225.48h1.75v1.75h-1.75zM108.47 229.33h1.75v1.75h-1.75zM157.59 230.18h1.75v1.75h-1.75zM126.96 233.28h1.75v1.75h-1.75zM146.02 238.25h1.75v1.75h-1.75zM140.8 229.39h1.75v1.75h-1.75zM156.3 231.09h1.75v1.75h-1.75zM227.75 232.87h1.75v1.75h-1.75zM169.99 236.64h1.75v1.75h-1.75zM157.64 235.75h1.75v1.75h-1.75zM105.12 235.14h1.75v1.75h-1.75zM219.02 234.64h1.75v1.75h-1.75zM85.63 231.34h1.75v1.75h-1.75zM163.04 235.96h1.75v1.75h-1.75zM94.42 233.55h1.75v1.75h-1.75zM94.05 237.12h1.75v1.75h-1.75zM86.89 237.73h1.75v1.75h-1.75zM113.56 235.76h1.75v1.75h-1.75zM142.16 234.99h1.75v1.75h-1.75zM111.12 229.99h1.75v1.75h-1.75zM162.75 236.61h1.75v1.75h-1.75zM165.8 233.21h1.75v1.75h-1.75zM120.2 237.37h1.75v1.75h-1.75zM135.73 230.75h1.75v1.75h-1.75zM116.45 231.65h1.75v1.75h-1.75zM140.44 236.31h1.75v1.75h-1.75zM179.53 231.09h1.75v1.75h-1.75zM83.88 225.77h1.75v1.75h-1.75zM164.22 231.71h1.75v1.75h-1.75zM124.46 236h1.75v1.75h-1.75zM166.96 235.22h1.75v1.75h-1.75zM122.12 230.18h1.75v1.75h-1.75zM143.88 230.27h1.75v1.75h-1.75zM171.18 230.38h1.75v1.75h-1.75zM185.2 238.29h1.75v1.75h-1.75zM141.86 234.31h1.75v1.75h-1.75zM196.18 236.03h1.75v1.75h-1.75zM181.21 234.29h1.75v1.75h-1.75zM164.16 230.15h1.75v1.75h-1.75zM155.85 234.36h1.75v1.75h-1.75zM130.07 230.18h1.75v1.75h-1.75zM75.87 231.43h1.75v1.75h-1.75zM127.99 234.12h1.75v1.75h-1.75zM227.13 235.22h1.75v1.75h-1.75zM77.6 229.38h1.75v1.75h-1.75zM81.09 231.99h1.75v1.75h-1.75zM206.08 234.72h1.75v1.75h-1.75zM160.04 231.28h1.75v1.75h-1.75zM148.07 237.95h1.75v1.75h-1.75zM165.81 233.08h1.75v1.75h-1.75zM190.39 237.53h1.75v1.75h-1.75zM168 234.3h1.75v1.75h-1.75zM76.59 225.26h1.75v1.75h-1.75zM91.71 231.38h1.75v1.75h-1.75zM139.92 232.6h1.75v1.75h-1.75zM110.12 233.05h1.75v1.75h-1.75zM122.51 230.04h1.75v1.75h-1.75zM220.75 236.79h1.75v1.75h-1.75zM147.47 230.5h1.75v1.75h-1.75zM97.88 235.56h1.75v1.75h-1.75zM130 230.2h1.75v1.75h-1.75zM92.98 230.02h1.75v1.75h-1.75zM74.64 225.73h1.75v1.75h-1.75zM133.88 228.76h1.75v1.75h-1.75zM128.47 232.45h1.75v1.75h-1.75zM77.67 230.01h1.75v1.75h-1.75zM74.54 238.22h1.75v1.75h-1.75zM83.19 231.05h1.75v1.75h-1.75zM150.8 233.1h1.75v1.75h-1.75zM77.77 234.75h1.75v1.75h-1.75zM171.97 234.13h1.75v1.75h-1.75zM205.25 236.58h1.75v1.75h-1.75zM105.15 236.02h1.75v1.75h-1.75zM115.25 229.12h1.75v1.75h-1.75zM195.19 235.22h1.75v1.75h-1.75zM75 225.45h1.75v1.75h-1.75zM75.81 224.91h1.75v1.75h-1.75zM186.36 231.85h1.75v1.75h-1.75zM211.77 236.51h1.75v1.75h-1.75zM195.39 232.4h1.75v1.75h-1.75zM148.81 238.16h1.75v1.75h-1.75zM108.68 236.53h1.75v1.75h-1.75zM121.03 231.67h1.75v1.75h-1.75zM189.98 231.63h1.75v1.75h-1.75zM165.07 237.31h1.75v1.75h-1.75zM189.33 233.25h1.75v1.75h-1.75zM100.49 235.51h1.75v1.75h-1.75zM105.62 226.6h1.75v1.75h-1.75zM148.66 235.66h1.75v1.75h-1.75zM133.48 229.76h1.75v1.75h-1.75zM74.06 230.94h1.75v1.75h-1.75zM157.82 230.96h1.75v1.75h-1.75zM179.11 235.65h1.75v1.75h-1.75zM182.77 233.99h1.75v1.75h-1.75zM221.24 237.28h1.75v1.75h-1.75zM122.24 238.26h1.75v1.75h-1.75zM143.94 229.29h1.75v1.75h-1.75zM154.21 232.19h1.75v1.75h-1.75zM90.67 233.54h1.75v1.75h-1.75zM72.62 227.48h1.75v1.75h-1.75zM202.27 236.23h1.75v1.75h-1.75zM124.84 236.41h1.75v1.75h-1.75zM172.07 234.73h1.75v1.75h-1.75zM93.86 225.28h1.75v1.75h-1.75zM85.53 224.48h1.75v1.75h-1.75zM201.5 237.73h1.75v1.75h-1.75zM99.64 236.24h1.75v1.75h-1.75zM153.28 236.67h1.75v1.75h-1.75zM115.42 234.52h1.75v1.75h-1.75zM85.33 236.32h1.75v1.75h-1.75zM175.42 231.9h1.75v1.75h-1.75zM130.54 235.84h1.75v1.75h-1.75zM73.29 207.43h1.75v1.75h-1.75zM84.69 200.84h1.75v1.75h-1.75zM86.6 216.77h1.75v1.75h-1.75zM82.96 214.69h1.75v1.75h-1.75zM88.09 204.27h1.75v1.75h-1.75zM80.94 223.02h1.75v1.75h-1.75zM80.51 209.46h1.75v1.75h-1.75zM73.48 204.35h1.75v1.75h-1.75zM75.75 221.47h1.75v1.75h-1.75zM91.46 220.12h1.75v1.75h-1.75zM98.75 213.82h1.75v1.75h-1.75zM97.2 211.98h1.75v1.75h-1.75z" fill="#111"/>
<path d="M72 213.8 L74.52 213.93 L78.11 214.13 L81.6 214.5 L84.56 215.04 L87.43 215.75 L90.3 216.7 L93.23 218.09 L96.17 219.83 L99.1 221.47 L101.95 222.62 L104.79 223.51 L107.8 224.35 L111.09 225.22 L114.55 226.04 L118 226.77 L121.31 227.36 L124.6 227.85 L128.1 228.38 L131.26 228.66 L134.63 228.94 L140 229.2 L148.5 229.45 L159.01 229.69 L170 229.9 L182.39 230.1 L195.25 230.28 L204.3 230.4 L204.3 233.6 L195.25 233.48 L182.39 233.3 L170 233.1 L159.01 232.89 L148.5 232.65 L140 232.4 L134.63 232.14 L131.26 231.86 L128.1 231.62 L124.6 231.72 L121.31 231.82 L118 231.83 L114.55 231.72 L111.09 231.53 L107.8 231.25 L104.79 230.95 L101.95 230.57 L99.1 229.93 L96.17 228.82 L93.23 227.29 L90.3 225.9 L87.43 224.95 L84.56 224.24 L81.6 223.7 L78.11 223.33 L74.52 223.13 L72 223Z" fill="#7d86e6" opacity="0.85"/>
<path d="M72 215.6 L74.52 215.73 L78.11 215.93 L81.6 216.3 L84.56 216.84 L87.43 217.55 L90.3 218.5 L93.23 219.89 L96.17 221.58 L99.1 223.1 L101.95 224.14 L104.79 224.92 L107.8 225.64 L111.09 226.38 L114.55 227.06 L118 227.65 L121.31 228.09 L124.6 228.29 L128.1 228.5 L131.26 228.76 L134.63 229.04 L140 229.3 L148.5 229.55 L159.01 229.79 L170 230 L182.39 230.2 L195.25 230.38 L204.3 230.5 L204.3 233.5 L195.25 233.38 L182.39 233.2 L170 233 L159.01 232.79 L148.5 232.55 L140 232.3 L134.63 232.04 L131.26 231.76 L128.1 231.5 L124.6 231.29 L121.31 231.09 L118 230.95 L114.55 230.7 L111.09 230.37 L107.8 229.96 L104.79 229.54 L101.95 229.04 L99.1 228.29 L96.17 227.06 L93.23 225.49 L90.3 224.1 L87.43 223.15 L84.56 222.44 L81.6 221.9 L78.11 221.53 L74.52 221.33 L72 221.2Z" fill="#3f4ad0" opacity="0.9"/>
<path d="M72 218.4 L74.52 218.53 L78.11 218.73 L81.6 219.1 L84.56 219.64 L87.43 220.35 L90.3 221.3 L93.23 222.69 L96.17 224.32 L99.1 225.7 L101.95 226.59 L104.79 227.23 L107.8 227.8 L111.09 228.37 L114.55 228.88 L118 229.3 L121.31 229.59 L124.6 229.79 L128.1 230 L131.26 230.26 L134.63 230.54 L140 230.8 L148.5 231.05 L159.01 231.29 L170 231.5 L182.39 231.7 L195.25 231.88 L204.3 232" fill="none" stroke="#1a1ab4" stroke-width="2.8" stroke-linejoin="round" stroke-linecap="butt" opacity="1.0"/>
<path d="M290.6 148 L293 150 L300.8 151.6 L309.5 144.4 L316.8 144.1 L321.9 159.6 L330 172 L346.6 181 L360 186" fill="none" stroke="#7d8bf4" stroke-width="0.7" stroke-dasharray="1 1" opacity="1.0"/>
<path d="M290.6 158.9 L300 158 L304.4 158.9 L314.6 153.1 L335 170 L355 178 L375 182" fill="none" stroke="#7d8bf4" stroke-width="0.7" stroke-dasharray="1 1" opacity="1.0"/>
<path d="M295 166.9 L304.4 176 L310.3 171.3 L317 177 L324.7 186 L334 193" fill="none" stroke="#7d8bf4" stroke-width="0.7" stroke-dasharray="1 1" opacity="1.0"/>
<path d="M288.8 163 L292 182 L301 189 L308 186 L314 189 L322 196 L336 185 L345 190" fill="none" stroke="#7d8bf4" stroke-width="0.7" stroke-dasharray="1 1" opacity="1.0"/>
<path d="M422.7 192.7 L443.3 193.7" fill="none" stroke="#7d8bf4" stroke-width="0.7" stroke-dasharray="1 1" opacity="1.0"/>
<path d="M410 205 L432 210 L442.86 214" fill="none" stroke="#7d8bf4" stroke-width="0.7" stroke-dasharray="1 1" opacity="1.0"/>
<path d="M291.93 210.37 L314.95 202.6 L330.97 197.62 L341.45 201.09" fill="none" stroke="#7d8bf4" stroke-width="0.75" stroke-dasharray="1 1.1" opacity="1.0"/>
<path d="M290.01 172.89 L314.52 174.33 L329.82 177.32 L351.47 188.81 L366.86 188.08 L384.12 191.76 L403.45 190.44" fill="none" stroke="#7d8bf4" stroke-width="0.75" stroke-dasharray="1 1.1" opacity="1.0"/>
<path d="M295.5 196.67 L312.98 200.85 L329.19 208.78" fill="none" stroke="#7d8bf4" stroke-width="0.75" stroke-dasharray="1 1.1" opacity="1.0"/>
<path d="M290.38 179.07 L312.64 180.34 L337.67 183.1 L363.46 198.21" fill="none" stroke="#7d8bf4" stroke-width="0.75" stroke-dasharray="1 1.1" opacity="1.0"/>
<path d="M295.46 162.03 L310.24 170.01 L325.82 184.02 L351.72 193.82 L359.23 205.36 L379.88 199.08" fill="none" stroke="#7d8bf4" stroke-width="0.75" stroke-dasharray="1 1.1" opacity="1.0"/>
<path d="M350.31 221.84 L375.93 224.66 L395.65 218.44 L418.49 218.77 L439.96 209.48" fill="none" stroke="#7d8bf4" stroke-width="0.75" stroke-dasharray="1 1.1" opacity="1.0"/>
<path d="M294.7 170.84 L308.82 172.69 L328.66 177.72 L353.87 189.08" fill="none" stroke="#7d8bf4" stroke-width="0.75" stroke-dasharray="1 1.1" opacity="1.0"/>
<path d="M291.43 192.44 L311.1 187.67 L322.77 193.58 L338.12 200.17 L359.2 210.38 L371.67 204.82 L391.18 213.99" fill="none" stroke="#7d8bf4" stroke-width="0.75" stroke-dasharray="1 1.1" opacity="1.0"/>
<path d="M311.2 216.04 L321.07 210.78 L329.01 216.49 L348.36 208.18 L364.46 201.7" fill="none" stroke="#7d8bf4" stroke-width="0.75" stroke-dasharray="1 1.1" opacity="1.0"/>
<path d="M358.54 227.37 L381.68 225.42 L398.83 224.56 L420.43 228.2" fill="none" stroke="#7d8bf4" stroke-width="0.75" stroke-dasharray="1 1.1" opacity="1.0"/>
<path d="M291.28 212.88 L316.44 213.87 L336.42 208.89" fill="none" stroke="#7d8bf4" stroke-width="0.75" stroke-dasharray="1 1.1" opacity="1.0"/>
<path d="M289.66 230.78 L305.15 232.8 L328.63 223.68 L338.03 219.15" fill="none" stroke="#7d8bf4" stroke-width="0.75" stroke-dasharray="1 1.1" opacity="1.0"/>
<path d="M314.88 202.27 L338.18 209.54 L359.32 205.78 L377.79 207.16" fill="none" stroke="#7d8bf4" stroke-width="0.75" stroke-dasharray="1 1.1" opacity="1.0"/>
<path d="M295.05 201.07 L312.82 196.57 L324.26 193.39" fill="none" stroke="#7d8bf4" stroke-width="0.75" stroke-dasharray="1 1.1" opacity="1.0"/>
<path d="M291.17 160.97 L303.77 166.89 L321.21 172.87 L330.08 182.59" fill="none" stroke="#7d8bf4" stroke-width="0.75" stroke-dasharray="1 1.1" opacity="1.0"/>
<path d="M293.9 190.87 L311.55 200.2 L334.03 195.73 L347.78 203.11 L373.65 211.63 L382.09 218.14 L404.57 211.75" fill="none" stroke="#7d8bf4" stroke-width="0.75" stroke-dasharray="1 1.1" opacity="1.0"/>
<path d="M369.39 227.37 L393.03 229.21 L400.5 221.06" fill="none" stroke="#7d8bf4" stroke-width="0.75" stroke-dasharray="1 1.1" opacity="1.0"/>
<path d="M371.27 207.56 L386.93 212.69 L401.26 212.29 L420.26 204.41 L428.88 206.61" fill="none" stroke="#7d8bf4" stroke-width="0.75" stroke-dasharray="1 1.1" opacity="1.0"/>
<path d="M318.45 229.72 L337.23 220.31 L355.73 212.31 L367.71 212.11 L384.19 214.77 L398.44 213.15 L418.96 205.87 L429.03 212.06" fill="none" stroke="#7d8bf4" stroke-width="0.75" stroke-dasharray="1 1.1" opacity="1.0"/>
<path d="M292.87 226.46 L305.62 217.49 L326.73 216.04 L335.78 207.15 L356.16 212.89 L369.53 209.96 L389.48 213.98 L414.55 215.82" fill="none" stroke="#7d8bf4" stroke-width="0.75" stroke-dasharray="1 1.1" opacity="1.0"/>
<path d="M348.73 204.42 L360.26 203.29 L380.87 210.96 L395.33 212.44" fill="none" stroke="#7d8bf4" stroke-width="0.75" stroke-dasharray="1 1.1" opacity="1.0"/>
<path d="M291.69 211.08 L302.27 203.68 L309.93 199.56 L334.69 199.63 L342.05 202.91 L349.79 203.52 L370.1 209.8 L377.25 209.35" fill="none" stroke="#7d8bf4" stroke-width="0.75" stroke-dasharray="1 1.1" opacity="1.0"/>
<path d="M289.02 219.55 L306.87 211.91 L322.08 206.1 L334.94 208.78 L358.71 213.42 L376.63 207.43" fill="none" stroke="#7d8bf4" stroke-width="0.75" stroke-dasharray="1 1.1" opacity="1.0"/>
<path d="M303.59 230.29 L329.39 221.88 L339.28 218.55" fill="none" stroke="#7d8bf4" stroke-width="0.75" stroke-dasharray="1 1.1" opacity="1.0"/>
<path d="M379.21 200.13 L392.63 206.96 L406.34 211.29 L425.26 204.87 L433.61 213.5" fill="none" stroke="#7d8bf4" stroke-width="0.75" stroke-dasharray="1 1.1" opacity="1.0"/>
<path d="M333.46 215.71 L351.58 217.77 L373.58 217.24 L381.19 219.53 L395.01 220.84 L405.79 222.67 L430.91 220.29 L444.08 221.88" fill="none" stroke="#7d8bf4" stroke-width="0.75" stroke-dasharray="1 1.1" opacity="1.0"/>
<path d="M292.73 182.71 L303.04 182.72 L319.42 191.46 L342.59 192.32 L366.81 194.96 L377.94 195.24 L402.09 199.33 L426.35 195.23" fill="none" stroke="#7d8bf4" stroke-width="0.75" stroke-dasharray="1 1.1" opacity="1.0"/>
<path d="M297.17 203.9 L310.86 202.9 L329.39 201.15 L348.68 209.4 L373.37 209.2 L397.12 214.31 L423.08 212.34 L444.82 208" fill="none" stroke="#7d8bf4" stroke-width="0.75" stroke-dasharray="1 1.1" opacity="1.0"/>
<path d="M320.95 221.36 L340.71 212.3 L358.6 203.93 L382.92 198.69 L404.27 194.56" fill="none" stroke="#7d8bf4" stroke-width="0.75" stroke-dasharray="1 1.1" opacity="1.0"/>
<path d="M350.4 218.37 L374.4 215.83 L383.74 218.42 L398.8 213.84" fill="none" stroke="#7d8bf4" stroke-width="0.75" stroke-dasharray="1 1.1" opacity="1.0"/>
<path d="M290.29 166.85 L301.51 172.47 L309.28 171.33 L320.19 178.51 L333.58 189.11 L346.32 201.32 L357.48 209.57 L367.18 217.34" fill="none" stroke="#7d8bf4" stroke-width="0.75" stroke-dasharray="1 1.1" opacity="1.0"/>
<path d="M399.76 207.32 L420.7 203.34 L436.88 212.63" fill="none" stroke="#7d8bf4" stroke-width="0.75" stroke-dasharray="1 1.1" opacity="1.0"/>
<path d="M344 201.03 L358.39 201.87 L376.77 201.42 L400.21 200.18" fill="none" stroke="#7d8bf4" stroke-width="0.75" stroke-dasharray="1 1.1" opacity="1.0"/>
<path d="M392.53 201.95 L416.45 211.3 L429.3 208.98 L439.08 204.2" fill="none" stroke="#7d8bf4" stroke-width="0.75" stroke-dasharray="1 1.1" opacity="1.0"/>
<path d="M363.18 184.56 L379.95 198.23 L401.6 202.03 L409.21 198.23 L433.72 201.59 L440.89 198.84" fill="none" stroke="#7d8bf4" stroke-width="0.75" stroke-dasharray="1 1.1" opacity="1.0"/>
<path d="M339.02 189.76 L358.46 203.66 L379.23 204.25 L394.66 206.16 L419.95 209.52" fill="none" stroke="#7d8bf4" stroke-width="0.75" stroke-dasharray="1 1.1" opacity="1.0"/>
<path d="M291.81 197.42 L311.12 195.51 L329.26 201.03 L340.68 198.3 L364.73 196.52" fill="none" stroke="#7d8bf4" stroke-width="0.75" stroke-dasharray="1 1.1" opacity="1.0"/>
<path d="M292.43 219.64 L314.61 221.32 L327.85 222.66 L335.77 224.05 L345.65 218.05 L368.75 220.28 L377.87 216.84 L387.07 216.5" fill="none" stroke="#7d8bf4" stroke-width="0.75" stroke-dasharray="1 1.1" opacity="1.0"/>
<path d="M289.13 170.61 L300.3 174.33 L311.95 179.77 L333.93 182.2 L354.2 185.75 L368.8 185.89 L391.12 190.34 L414.92 197.74" fill="none" stroke="#7d8bf4" stroke-width="0.75" stroke-dasharray="1 1.1" opacity="1.0"/>
<path d="M356.29 190.21 L366.75 189.55 L375.26 188.47 L397.01 191.62 L414.09 202.69 L427.57 202.46" fill="none" stroke="#7d8bf4" stroke-width="0.75" stroke-dasharray="1 1.1" opacity="1.0"/>
<path d="M326.47 196.58 L342.72 195.69 L352.34 196.65 L365.27 202.6 L377.39 202.19 L401.62 211.92" fill="none" stroke="#7d8bf4" stroke-width="0.75" stroke-dasharray="1 1.1" opacity="1.0"/>
<path d="M361.28 198.18 L377.28 201.02 L391.19 208.72 L407.59 212.42 L420.86 216.89" fill="none" stroke="#7d8bf4" stroke-width="0.75" stroke-dasharray="1 1.1" opacity="1.0"/>
<path d="M312.92 208.93 L338.23 217.21 L359.93 209.66 L385.25 213.96 L398.99 207.45 L409.59 205.2" fill="none" stroke="#7d8bf4" stroke-width="0.75" stroke-dasharray="1 1.1" opacity="1.0"/>
<path d="M330.17 202.3 L354.1 199.28 L363.87 199.84 L385.54 200.28 L410.86 197.34" fill="none" stroke="#7d8bf4" stroke-width="0.75" stroke-dasharray="1 1.1" opacity="1.0"/>
<path d="M381.4 206.02 L388.92 206.17 L413.33 212.11 L439.04 207.42" fill="none" stroke="#7d8bf4" stroke-width="0.75" stroke-dasharray="1 1.1" opacity="1.0"/>
<path d="M388.93 232.76 L411.58 218.5 L428.06 212.93" fill="none" stroke="#7d8bf4" stroke-width="0.75" stroke-dasharray="1 1.1" opacity="1.0"/>
<path d="M290 232.3 L300.8 232.5 L309.5 232.3 L314.6 232.5 L321.2 232.3 L328.4 232.4 L336.4 232.3" fill="none" stroke="#7d8bf4" stroke-width="0.7" stroke-dasharray="1 1" opacity="1.0"/>
<path d="M289.7 147.1h1.8v1.8h-1.8zM292.1 149.1h1.8v1.8h-1.8zM299.9 150.7h1.8v1.8h-1.8zM308.6 143.5h1.8v1.8h-1.8zM315.9 143.2h1.8v1.8h-1.8zM321 158.7h1.8v1.8h-1.8zM329.1 171.1h1.8v1.8h-1.8zM345.7 180.1h1.8v1.8h-1.8zM359.1 185.1h1.8v1.8h-1.8zM289.7 158h1.8v1.8h-1.8zM299.1 157.1h1.8v1.8h-1.8zM303.5 158h1.8v1.8h-1.8zM313.7 152.2h1.8v1.8h-1.8zM334.1 169.1h1.8v1.8h-1.8zM354.1 177.1h1.8v1.8h-1.8zM374.1 181.1h1.8v1.8h-1.8zM294.1 166h1.8v1.8h-1.8zM303.5 175.1h1.8v1.8h-1.8zM309.4 170.4h1.8v1.8h-1.8zM316.1 176.1h1.8v1.8h-1.8zM323.8 185.1h1.8v1.8h-1.8zM333.1 192.1h1.8v1.8h-1.8zM287.9 162.1h1.8v1.8h-1.8zM291.1 181.1h1.8v1.8h-1.8zM300.1 188.1h1.8v1.8h-1.8zM307.1 185.1h1.8v1.8h-1.8zM313.1 188.1h1.8v1.8h-1.8zM321.1 195.1h1.8v1.8h-1.8zM335.1 184.1h1.8v1.8h-1.8zM344.1 189.1h1.8v1.8h-1.8zM421.8 191.8h1.8v1.8h-1.8zM442.4 192.8h1.8v1.8h-1.8zM409.1 204.1h1.8v1.8h-1.8zM431.1 209.1h1.8v1.8h-1.8zM441.96 213.1h1.8v1.8h-1.8zM291.03 209.47h1.8v1.8h-1.8zM314.05 201.7h1.8v1.8h-1.8zM330.07 196.72h1.8v1.8h-1.8zM340.55 200.19h1.8v1.8h-1.8zM289.11 171.99h1.8v1.8h-1.8zM313.62 173.43h1.8v1.8h-1.8zM328.92 176.42h1.8v1.8h-1.8zM350.57 187.91h1.8v1.8h-1.8zM365.96 187.18h1.8v1.8h-1.8zM383.22 190.86h1.8v1.8h-1.8zM402.55 189.54h1.8v1.8h-1.8zM294.6 195.77h1.8v1.8h-1.8zM312.08 199.95h1.8v1.8h-1.8zM328.29 207.88h1.8v1.8h-1.8zM289.48 178.17h1.8v1.8h-1.8zM311.74 179.44h1.8v1.8h-1.8zM336.77 182.2h1.8v1.8h-1.8zM362.56 197.31h1.8v1.8h-1.8zM294.56 161.13h1.8v1.8h-1.8zM309.34 169.11h1.8v1.8h-1.8zM324.92 183.12h1.8v1.8h-1.8zM350.82 192.92h1.8v1.8h-1.8zM358.33 204.46h1.8v1.8h-1.8zM378.98 198.18h1.8v1.8h-1.8zM349.41 220.94h1.8v1.8h-1.8zM375.03 223.76h1.8v1.8h-1.8zM394.75 217.54h1.8v1.8h-1.8zM417.59 217.87h1.8v1.8h-1.8zM439.06 208.58h1.8v1.8h-1.8zM293.8 169.94h1.8v1.8h-1.8zM307.92 171.79h1.8v1.8h-1.8zM327.76 176.82h1.8v1.8h-1.8zM352.97 188.18h1.8v1.8h-1.8zM290.53 191.54h1.8v1.8h-1.8zM310.2 186.77h1.8v1.8h-1.8zM321.87 192.68h1.8v1.8h-1.8zM337.22 199.27h1.8v1.8h-1.8zM358.3 209.48h1.8v1.8h-1.8zM370.77 203.92h1.8v1.8h-1.8zM390.28 213.09h1.8v1.8h-1.8zM310.3 215.14h1.8v1.8h-1.8zM320.17 209.88h1.8v1.8h-1.8zM328.11 215.59h1.8v1.8h-1.8zM347.46 207.28h1.8v1.8h-1.8zM363.56 200.8h1.8v1.8h-1.8zM357.64 226.47h1.8v1.8h-1.8zM380.78 224.52h1.8v1.8h-1.8zM397.93 223.66h1.8v1.8h-1.8zM419.53 227.3h1.8v1.8h-1.8zM290.38 211.98h1.8v1.8h-1.8zM315.54 212.97h1.8v1.8h-1.8zM335.52 207.99h1.8v1.8h-1.8zM288.76 229.88h1.8v1.8h-1.8zM304.25 231.9h1.8v1.8h-1.8zM327.73 222.78h1.8v1.8h-1.8zM337.13 218.25h1.8v1.8h-1.8zM313.98 201.37h1.8v1.8h-1.8zM337.28 208.64h1.8v1.8h-1.8zM358.42 204.88h1.8v1.8h-1.8zM376.89 206.26h1.8v1.8h-1.8zM294.15 200.17h1.8v1.8h-1.8zM311.92 195.67h1.8v1.8h-1.8zM323.36 192.49h1.8v1.8h-1.8zM290.27 160.07h1.8v1.8h-1.8zM302.87 165.99h1.8v1.8h-1.8zM320.31 171.97h1.8v1.8h-1.8zM329.18 181.69h1.8v1.8h-1.8zM293 189.97h1.8v1.8h-1.8zM310.65 199.3h1.8v1.8h-1.8zM333.13 194.83h1.8v1.8h-1.8zM346.88 202.21h1.8v1.8h-1.8zM372.75 210.73h1.8v1.8h-1.8zM381.19 217.24h1.8v1.8h-1.8zM403.67 210.85h1.8v1.8h-1.8zM368.49 226.47h1.8v1.8h-1.8zM392.13 228.31h1.8v1.8h-1.8zM399.6 220.16h1.8v1.8h-1.8zM370.37 206.66h1.8v1.8h-1.8zM386.03 211.79h1.8v1.8h-1.8zM400.36 211.39h1.8v1.8h-1.8zM419.36 203.51h1.8v1.8h-1.8zM427.98 205.71h1.8v1.8h-1.8zM317.55 228.82h1.8v1.8h-1.8zM336.33 219.41h1.8v1.8h-1.8zM354.83 211.41h1.8v1.8h-1.8zM366.81 211.21h1.8v1.8h-1.8zM383.29 213.87h1.8v1.8h-1.8zM397.54 212.25h1.8v1.8h-1.8zM418.06 204.97h1.8v1.8h-1.8zM428.13 211.16h1.8v1.8h-1.8zM291.97 225.56h1.8v1.8h-1.8zM304.72 216.59h1.8v1.8h-1.8zM325.83 215.14h1.8v1.8h-1.8zM334.88 206.25h1.8v1.8h-1.8zM355.26 211.99h1.8v1.8h-1.8zM368.63 209.06h1.8v1.8h-1.8zM388.58 213.08h1.8v1.8h-1.8zM413.65 214.92h1.8v1.8h-1.8zM347.83 203.52h1.8v1.8h-1.8zM359.36 202.39h1.8v1.8h-1.8zM379.97 210.06h1.8v1.8h-1.8zM394.43 211.54h1.8v1.8h-1.8zM290.79 210.18h1.8v1.8h-1.8zM301.37 202.78h1.8v1.8h-1.8zM309.03 198.66h1.8v1.8h-1.8zM333.79 198.73h1.8v1.8h-1.8zM341.15 202.01h1.8v1.8h-1.8zM348.89 202.62h1.8v1.8h-1.8zM369.2 208.9h1.8v1.8h-1.8zM376.35 208.45h1.8v1.8h-1.8zM288.12 218.65h1.8v1.8h-1.8zM305.97 211.01h1.8v1.8h-1.8zM321.18 205.2h1.8v1.8h-1.8zM334.04 207.88h1.8v1.8h-1.8zM357.81 212.52h1.8v1.8h-1.8zM375.73 206.53h1.8v1.8h-1.8zM302.69 229.39h1.8v1.8h-1.8zM328.49 220.98h1.8v1.8h-1.8zM338.38 217.65h1.8v1.8h-1.8zM378.31 199.23h1.8v1.8h-1.8zM391.73 206.06h1.8v1.8h-1.8zM405.44 210.39h1.8v1.8h-1.8zM424.36 203.97h1.8v1.8h-1.8zM432.71 212.6h1.8v1.8h-1.8zM332.56 214.81h1.8v1.8h-1.8zM350.68 216.87h1.8v1.8h-1.8zM372.68 216.34h1.8v1.8h-1.8zM380.29 218.63h1.8v1.8h-1.8zM394.11 219.94h1.8v1.8h-1.8zM404.89 221.77h1.8v1.8h-1.8zM430.01 219.39h1.8v1.8h-1.8zM443.18 220.98h1.8v1.8h-1.8zM291.83 181.81h1.8v1.8h-1.8zM302.14 181.82h1.8v1.8h-1.8zM318.52 190.56h1.8v1.8h-1.8zM341.69 191.42h1.8v1.8h-1.8zM365.91 194.06h1.8v1.8h-1.8zM377.04 194.34h1.8v1.8h-1.8zM401.19 198.43h1.8v1.8h-1.8zM425.45 194.33h1.8v1.8h-1.8zM296.27 203h1.8v1.8h-1.8zM309.96 202h1.8v1.8h-1.8zM328.49 200.25h1.8v1.8h-1.8zM347.78 208.5h1.8v1.8h-1.8zM372.47 208.3h1.8v1.8h-1.8zM396.22 213.41h1.8v1.8h-1.8zM422.18 211.44h1.8v1.8h-1.8zM443.92 207.1h1.8v1.8h-1.8zM320.05 220.46h1.8v1.8h-1.8zM339.81 211.4h1.8v1.8h-1.8zM357.7 203.03h1.8v1.8h-1.8zM382.02 197.79h1.8v1.8h-1.8zM403.37 193.66h1.8v1.8h-1.8zM349.5 217.47h1.8v1.8h-1.8zM373.5 214.93h1.8v1.8h-1.8zM382.84 217.52h1.8v1.8h-1.8zM397.9 212.94h1.8v1.8h-1.8zM289.39 165.95h1.8v1.8h-1.8zM300.61 171.57h1.8v1.8h-1.8zM308.38 170.43h1.8v1.8h-1.8zM319.29 177.61h1.8v1.8h-1.8zM332.68 188.21h1.8v1.8h-1.8zM345.42 200.42h1.8v1.8h-1.8zM356.58 208.67h1.8v1.8h-1.8zM366.28 216.44h1.8v1.8h-1.8zM398.86 206.42h1.8v1.8h-1.8zM419.8 202.44h1.8v1.8h-1.8zM435.98 211.73h1.8v1.8h-1.8zM343.1 200.13h1.8v1.8h-1.8zM357.49 200.97h1.8v1.8h-1.8zM375.87 200.52h1.8v1.8h-1.8zM399.31 199.28h1.8v1.8h-1.8zM391.63 201.05h1.8v1.8h-1.8zM415.55 210.4h1.8v1.8h-1.8zM428.4 208.08h1.8v1.8h-1.8zM438.18 203.3h1.8v1.8h-1.8zM362.28 183.66h1.8v1.8h-1.8zM379.05 197.33h1.8v1.8h-1.8zM400.7 201.13h1.8v1.8h-1.8zM408.31 197.33h1.8v1.8h-1.8zM432.82 200.69h1.8v1.8h-1.8zM439.99 197.94h1.8v1.8h-1.8zM338.12 188.86h1.8v1.8h-1.8zM357.56 202.76h1.8v1.8h-1.8zM378.33 203.35h1.8v1.8h-1.8zM393.76 205.26h1.8v1.8h-1.8zM419.05 208.62h1.8v1.8h-1.8zM290.91 196.52h1.8v1.8h-1.8zM310.22 194.61h1.8v1.8h-1.8zM328.36 200.13h1.8v1.8h-1.8zM339.78 197.4h1.8v1.8h-1.8zM363.83 195.62h1.8v1.8h-1.8zM291.53 218.74h1.8v1.8h-1.8zM313.71 220.42h1.8v1.8h-1.8zM326.95 221.76h1.8v1.8h-1.8zM334.87 223.15h1.8v1.8h-1.8zM344.75 217.15h1.8v1.8h-1.8zM367.85 219.38h1.8v1.8h-1.8zM376.97 215.94h1.8v1.8h-1.8zM386.17 215.6h1.8v1.8h-1.8zM288.23 169.71h1.8v1.8h-1.8zM299.4 173.43h1.8v1.8h-1.8zM311.05 178.87h1.8v1.8h-1.8zM333.03 181.3h1.8v1.8h-1.8zM353.3 184.85h1.8v1.8h-1.8zM367.9 184.99h1.8v1.8h-1.8zM390.22 189.44h1.8v1.8h-1.8zM414.02 196.84h1.8v1.8h-1.8zM355.39 189.31h1.8v1.8h-1.8zM365.85 188.65h1.8v1.8h-1.8zM374.36 187.57h1.8v1.8h-1.8zM396.11 190.72h1.8v1.8h-1.8zM413.19 201.79h1.8v1.8h-1.8zM426.67 201.56h1.8v1.8h-1.8zM325.57 195.68h1.8v1.8h-1.8zM341.82 194.79h1.8v1.8h-1.8zM351.44 195.75h1.8v1.8h-1.8zM364.37 201.7h1.8v1.8h-1.8zM376.49 201.29h1.8v1.8h-1.8zM400.72 211.02h1.8v1.8h-1.8zM360.38 197.28h1.8v1.8h-1.8zM376.38 200.12h1.8v1.8h-1.8zM390.29 207.82h1.8v1.8h-1.8zM406.69 211.52h1.8v1.8h-1.8zM419.96 215.99h1.8v1.8h-1.8zM312.02 208.03h1.8v1.8h-1.8zM337.33 216.31h1.8v1.8h-1.8zM359.03 208.76h1.8v1.8h-1.8zM384.35 213.06h1.8v1.8h-1.8zM398.09 206.55h1.8v1.8h-1.8zM408.69 204.3h1.8v1.8h-1.8zM329.27 201.4h1.8v1.8h-1.8zM353.2 198.38h1.8v1.8h-1.8zM362.97 198.94h1.8v1.8h-1.8zM384.64 199.38h1.8v1.8h-1.8zM409.96 196.44h1.8v1.8h-1.8zM380.5 205.12h1.8v1.8h-1.8zM388.02 205.27h1.8v1.8h-1.8zM412.43 211.21h1.8v1.8h-1.8zM438.14 206.52h1.8v1.8h-1.8zM388.03 231.86h1.8v1.8h-1.8zM410.68 217.6h1.8v1.8h-1.8zM427.16 212.03h1.8v1.8h-1.8zM387.01 230.2h1.8v1.8h-1.8zM332.63 204.11h1.8v1.8h-1.8zM307.65 217.86h1.8v1.8h-1.8zM288.71 207.68h1.8v1.8h-1.8zM302.07 229.75h1.8v1.8h-1.8zM295.43 206.02h1.8v1.8h-1.8zM384.24 200.26h1.8v1.8h-1.8zM332.76 202.18h1.8v1.8h-1.8zM355.44 215.66h1.8v1.8h-1.8zM347.25 225.74h1.8v1.8h-1.8zM398.11 203.22h1.8v1.8h-1.8zM394.08 204.22h1.8v1.8h-1.8zM414.17 202.25h1.8v1.8h-1.8zM382.51 213.73h1.8v1.8h-1.8zM335.31 220.07h1.8v1.8h-1.8zM308.5 226.84h1.8v1.8h-1.8zM340.2 201h1.8v1.8h-1.8zM383.56 217.24h1.8v1.8h-1.8zM289.1 231.4h1.8v1.8h-1.8zM299.9 231.6h1.8v1.8h-1.8zM308.6 231.4h1.8v1.8h-1.8zM313.7 231.6h1.8v1.8h-1.8zM320.3 231.4h1.8v1.8h-1.8zM327.5 231.5h1.8v1.8h-1.8zM335.5 231.4h1.8v1.8h-1.8z" fill="#111"/>
<path d="M289.5 195.4 L292.62 195.63 L297.08 195.94 L301.5 196.1 L305.59 195.78 L309.64 195.31 L313.2 195.4 L315.82 196.52 L317.94 198.2 L320.4 199.8 L323.53 201.14 L326.99 202.39 L330.6 203.42 L334.24 204.2 L338.04 204.73 L342.2 205.29 L347.28 205.97 L352.71 206.68 L357 207.38 L359 208.06 L359.86 208.73 L361.5 209.36 L364.7 210.05 L368.69 210.71 L373.1 211.02 L377.44 210.71 L382.2 209.97 L388.5 209.3 L398.29 209 L409.62 208.87 L417.7 208.8 L417.7 213.2 L409.62 213.27 L398.29 213.4 L388.5 213.7 L382.2 214.37 L377.44 215.32 L373.1 215.98 L368.69 216.01 L364.7 215.67 L361.5 215.24 L359.86 214.74 L359 214.14 L357 213.62 L352.71 213.27 L347.28 212.99 L342.2 212.71 L338.04 212.49 L334.24 212.26 L330.6 211.78 L326.99 210.79 L323.53 209.54 L320.4 208.2 L317.94 206.6 L315.82 204.92 L313.2 203.8 L309.64 203.71 L305.59 204.18 L301.5 204.5 L297.08 204.34 L292.62 204.03 L289.5 203.8Z" fill="#6a74e4" opacity="0.75"/>
<path d="M289.5 196.8 L292.62 197.03 L297.08 197.34 L301.5 197.5 L305.59 197.18 L309.64 196.71 L313.2 196.8 L315.82 197.92 L317.94 199.6 L320.4 201.2 L323.53 202.54 L326.99 203.79 L330.6 204.82 L334.24 205.55 L338.04 206.05 L342.2 206.57 L347.28 207.2 L352.71 207.86 L357 208.51 L359 209.17 L359.86 209.83 L361.5 210.45 L364.7 211.06 L368.69 211.56 L373.1 211.7 L377.44 211.21 L382.2 210.37 L388.5 209.7 L398.29 209.4 L409.62 209.27 L417.7 209.2 L417.7 212.8 L409.62 212.87 L398.29 213 L388.5 213.3 L382.2 213.97 L377.44 214.81 L373.1 215.3 L368.69 215.16 L364.7 214.66 L361.5 214.16 L359.86 213.64 L359 213.03 L357 212.49 L352.71 212.09 L347.28 211.76 L342.2 211.43 L338.04 211.17 L334.24 210.9 L330.6 210.38 L326.99 209.39 L323.53 208.14 L320.4 206.8 L317.94 205.2 L315.82 203.52 L313.2 202.4 L309.64 202.31 L305.59 202.78 L301.5 203.1 L297.08 202.94 L292.62 202.63 L289.5 202.4Z" fill="#3a45cc" opacity="0.9"/>
<path d="M289.5 199.6 L292.62 199.83 L297.08 200.14 L301.5 200.3 L305.59 199.98 L309.64 199.51 L313.2 199.6 L315.82 200.72 L317.94 202.4 L320.4 204 L323.53 205.34 L326.99 206.59 L330.6 207.6 L334.24 208.23 L338.04 208.61 L342.2 209 L347.28 209.48 L352.71 209.97 L357 210.5 L359 211.1 L359.86 211.73 L361.5 212.3 L364.7 212.86 L368.69 213.36 L373.1 213.5 L377.44 213.01 L382.2 212.17 L388.5 211.5 L398.29 211.2 L409.62 211.07 L417.7 211" fill="none" stroke="#1a1ab4" stroke-width="3.0" stroke-linejoin="round" stroke-linecap="butt" opacity="1.0"/>
<path d="M72 387.2 L168 387" fill="none" stroke="#f9b655" stroke-width="0.8" stroke-dasharray="1 1.1" opacity="1.0"/>
<path d="M72 386.6 L120 387.5 L160 386.5" fill="none" stroke="#f3e21a" stroke-width="0.7" stroke-dasharray="1 1.1" opacity="1.0"/>
<path d="M110.4 375 L138.3 378.5 L146.9 384.6 L157.5 383.7 L168.3 381.2 L174 385.4 L178.8 384.4 L188.5 387.3 L190.4 387.3 L198.1 387.9 L216.3 387.3" fill="none" stroke="#f9b655" stroke-width="0.75" stroke-dasharray="1 1.1" opacity="1.0"/>
<path d="M83 388.5 L90.8 390.8 L100.8 394.6 L110.4 392.7 L126.7 384.2 L141.2 393.3 L144 400 L152.7 399 L163.3 398.1 L173.1 394.6 L181.7 395 L192.3 393.5 L199.6 396.5 L219.2 392.1" fill="none" stroke="#f9b655" stroke-width="0.75" stroke-dasharray="1 1.1" opacity="1.0"/>
<path d="M178.8 388.8 L188.5 387.3" fill="none" stroke="#f9b655" stroke-width="0.75" stroke-dasharray="1 1.1" opacity="1.0"/>
<path d="M153.8 399.8 L162.5 397.9 L173.1 394.6" fill="none" stroke="#f3e21a" stroke-width="0.75" stroke-dasharray="1 1.1" opacity="1.0"/>
<path d="M75.4 414.6 L79.2 420.3 L85.4 415 L90 415.4 L93.8 413 L106.2 416.2 L114.6 410.8 L117.7 408.5 L118 403.8" fill="none" stroke="#f3e21a" stroke-width="0.75" stroke-dasharray="1 1.1" opacity="1.0"/>
<path d="M79.2 414.6 L93 418.5 L107.7 423.1 L114.2 410.6 L126.7 411.5 L140.2 414.4 L156.5 414.4 L156.7 415.2" fill="none" stroke="#f3e21a" stroke-width="0.75" stroke-dasharray="1 1.1" opacity="1.0"/>
<path d="M81.5 427.4 L84.6 426.2 L93 426.9 L105.4 425.4 L114.6 423.4 L127.7 425.4 L142.1 426.5 L152.7 427.9 L162.3 424 L163.1 424.2 L172.1 424.8 L198.1 426.7 L209.6 431.9" fill="none" stroke="#f3e21a" stroke-width="0.75" stroke-dasharray="1 1.1" opacity="1.0"/>
<path d="M71.5 428.9 L74.6 430 L86.2 432.6 L96.9 433.8 L103.8 432 L110.8 433.5 L113.5 433.8" fill="none" stroke="#f3e21a" stroke-width="0.75" stroke-dasharray="1 1.1" opacity="1.0"/>
<path d="M76.7 414.4 L78.7 420.2 L93.1 426 L104.6 425.4 L115.2 423.1 L151.9 427.7" fill="none" stroke="#f3e21a" stroke-width="0.75" stroke-dasharray="1 1.1" opacity="1.0"/>
<path d="M94 418.8 L106.5 416.3" fill="none" stroke="#f3e21a" stroke-width="0.75" stroke-dasharray="1 1.1" opacity="1.0"/>
<path d="M71.3 395 L80 395 L81.5 400 L86.17 400.01 L92.9 399.97 L100 399.5 L107.15 398.26 L114.68 396.6 L121.9 395.2 L128.19 394.39 L134.17 393.85 L141 393.3 L150.33 392.57 L160.5 391.82 L167.7 391.3 L167.7 421.2 L163.33 420.89 L157.09 420.36 L150.8 419.2 L145 416.91 L139.15 413.99 L133.5 411.5 L128.34 409.56 L123.37 408.04 L118 407.7 L111.8 409.33 L105.2 412.12 L98.8 414.4 L92.25 415.52 L85.91 416.13 L81.5 416.5 L80 413 L71.3 413Z" fill="#fff35a" opacity="1.0"/>
<path d="M71.3 397.4 L80 397.4 L81.5 405.5 L86.17 405.59 L92.9 405.63 L100 405 L107.15 403.02 L114.68 400.37 L121.9 398.5 L128.19 398.2 L134.17 398.69 L141 399 L150.33 398.74 L160.5 398.31 L167.7 398 L167.7 410 L163.33 410.85 L157.09 411.93 L150.8 412 L144.85 410.15 L138.86 407.3 L133.5 405 L129.64 403.63 L126.41 402.81 L121.9 403 L114.84 404.93 L106.5 407.85 L98.8 410 L91.96 410.52 L85.77 410.26 L81.5 410 L80 404.3 L71.3 404.3Z" fill="#f8df3a" opacity="1.0"/>
<path d="M71.3 401 L80 401 L81.5 407.2 L85.77 407.61 L91.96 408.09 L98.8 407.7 L106.5 405.55 L114.84 402.54 L121.9 400.5 L126.41 400.16 L129.64 400.79 L133.5 402 L138.86 404.24 L144.85 407.06 L150.8 408.7 L157.09 408.04 L163.33 406.2 L167.7 404.8" fill="none" stroke="#f2c800" stroke-width="2.4" stroke-linejoin="round" stroke-linecap="butt" opacity="1.0"/>
<path d="M71.3 389.3 L80 389.3 L81.5 392.8 L88.57 392.52 L98.65 392.07 L108.5 391.3 L116.64 389.93 L124.56 388.24 L133.5 386.9 L145.49 386.19 L158.49 385.82 L167.7 385.6 L167.7 393.3 L162.25 393.37 L154.49 393.49 L146.9 393.8 L140.38 394.27 L134.04 394.92 L127.7 396 L120.9 397.85 L114.11 400.12 L108.5 402 L105.24 403.14 L103.18 403.89 L100 404.5 L93.89 405.07 L86.67 405.51 L81.5 405.8 L80 397.4 L71.3 397.4Z" fill="#ff9a00" opacity="0.55"/>
<path d="M140 393.8 L146 395.8 L150 397.2 L154 395.8 L157 393.8 L157 393.8 L140 393.8Z" fill="#ffffff" opacity="0.9"/>
<path d="M71.3 393.1 L80 393.1 L81.5 397.5 L83.73 398.05 L87.04 398.76 L91.2 399 L96.33 398.46 L102.31 397.45 L108.5 396.2 L114.76 394.61 L121.23 392.79 L127.7 391.3 L134.04 390.41 L140.38 389.85 L146.9 389.4 L154.49 388.99 L162.25 388.7 L167.7 388.5" fill="none" stroke="#ff7f0e" stroke-width="3.0" stroke-linejoin="round" stroke-linecap="butt" opacity="1.0"/>
<path d="M72.2 386.3h1.6v1.6h-1.6zM75.2 386.95h1.6v1.6h-1.6zM83 386.43h1.6v1.6h-1.6zM86.2 386.62h1.6v1.6h-1.6zM87.7 386.4h1.6v1.6h-1.6zM92.2 386.66h1.6v1.6h-1.6zM99.2 386.33h1.6v1.6h-1.6zM104.6 386.05h1.6v1.6h-1.6zM108.4 387.2h1.6v1.6h-1.6zM111.5 387.19h1.6v1.6h-1.6zM115.4 386.94h1.6v1.6h-1.6zM123.2 386.73h1.6v1.6h-1.6zM130.2 386.1h1.6v1.6h-1.6zM136.2 385.97h1.6v1.6h-1.6zM145.2 386.06h1.6v1.6h-1.6zM150.2 385.71h1.6v1.6h-1.6zM154 386.83h1.6v1.6h-1.6zM158.8 386.24h1.6v1.6h-1.6zM109.6 374.2h1.6v1.6h-1.6zM137.5 377.7h1.6v1.6h-1.6zM146.1 383.8h1.6v1.6h-1.6zM156.7 382.9h1.6v1.6h-1.6zM167.5 380.4h1.6v1.6h-1.6zM173.2 384.6h1.6v1.6h-1.6zM178 383.6h1.6v1.6h-1.6zM187.7 386.5h1.6v1.6h-1.6zM189.6 386.5h1.6v1.6h-1.6zM197.3 387.1h1.6v1.6h-1.6zM215.5 386.5h1.6v1.6h-1.6zM82.2 387.7h1.6v1.6h-1.6zM90 390h1.6v1.6h-1.6zM100 393.8h1.6v1.6h-1.6zM109.6 391.9h1.6v1.6h-1.6zM125.9 383.4h1.6v1.6h-1.6zM140.4 392.5h1.6v1.6h-1.6zM143.2 399.2h1.6v1.6h-1.6zM151.9 398.2h1.6v1.6h-1.6zM162.5 397.3h1.6v1.6h-1.6zM172.3 393.8h1.6v1.6h-1.6zM180.9 394.2h1.6v1.6h-1.6zM191.5 392.7h1.6v1.6h-1.6zM198.8 395.7h1.6v1.6h-1.6zM218.4 391.3h1.6v1.6h-1.6zM178 388h1.6v1.6h-1.6zM187.7 386.5h1.6v1.6h-1.6zM153 399h1.6v1.6h-1.6zM161.7 397.1h1.6v1.6h-1.6zM172.3 393.8h1.6v1.6h-1.6zM74.6 413.8h1.6v1.6h-1.6zM78.4 419.5h1.6v1.6h-1.6zM84.6 414.2h1.6v1.6h-1.6zM89.2 414.6h1.6v1.6h-1.6zM93 412.2h1.6v1.6h-1.6zM105.4 415.4h1.6v1.6h-1.6zM113.8 410h1.6v1.6h-1.6zM116.9 407.7h1.6v1.6h-1.6zM117.2 403h1.6v1.6h-1.6zM78.4 413.8h1.6v1.6h-1.6zM92.2 417.7h1.6v1.6h-1.6zM106.9 422.3h1.6v1.6h-1.6zM113.4 409.8h1.6v1.6h-1.6zM125.9 410.7h1.6v1.6h-1.6zM139.4 413.6h1.6v1.6h-1.6zM155.7 413.6h1.6v1.6h-1.6zM155.9 414.4h1.6v1.6h-1.6zM80.7 426.6h1.6v1.6h-1.6zM83.8 425.4h1.6v1.6h-1.6zM92.2 426.1h1.6v1.6h-1.6zM104.6 424.6h1.6v1.6h-1.6zM113.8 422.6h1.6v1.6h-1.6zM126.9 424.6h1.6v1.6h-1.6zM141.3 425.7h1.6v1.6h-1.6zM151.9 427.1h1.6v1.6h-1.6zM161.5 423.2h1.6v1.6h-1.6zM162.3 423.4h1.6v1.6h-1.6zM171.3 424h1.6v1.6h-1.6zM197.3 425.9h1.6v1.6h-1.6zM208.8 431.1h1.6v1.6h-1.6zM70.7 428.1h1.6v1.6h-1.6zM73.8 429.2h1.6v1.6h-1.6zM85.4 431.8h1.6v1.6h-1.6zM96.1 433h1.6v1.6h-1.6zM103 431.2h1.6v1.6h-1.6zM110 432.7h1.6v1.6h-1.6zM112.7 433h1.6v1.6h-1.6zM75.9 413.6h1.6v1.6h-1.6zM77.9 419.4h1.6v1.6h-1.6zM92.3 425.2h1.6v1.6h-1.6zM103.8 424.6h1.6v1.6h-1.6zM114.4 422.3h1.6v1.6h-1.6zM151.1 426.9h1.6v1.6h-1.6zM93.2 418h1.6v1.6h-1.6zM105.7 415.5h1.6v1.6h-1.6z" fill="#3a1a10"/>
<path d="M290.3 353.8 L366 430" fill="none" stroke="#8d98f6" stroke-width="0.7" stroke-linejoin="round" stroke-linecap="butt" opacity="1.0"/>
<path d="M291.1 375.4 L292.6 376.9 L295.4 382.3 L298.8 386.9 L304.2 386.2 L306.5 386.9 L311.8 388.2 L318 409.2 L325.7 413.8 L334.9 414.6 L343.4 416.9" fill="none" stroke="#86eefc" stroke-width="0.7" stroke-dasharray="1 1" opacity="1.0"/>
<path d="M294.2 395.4 L297.2 397.7 L299.5 394.6 L301.8 392.3 L305.7 393.1 L311.1 398.9 L318 409.2" fill="none" stroke="#6b78f0" stroke-width="0.7" stroke-dasharray="1 1" opacity="1.0"/>
<path d="M303.4 399.2 L309.5 410.8 L315.7 415.4 L328 423.1 L335.7 425.4 L346.5 426.2" fill="none" stroke="#6b78f0" stroke-width="0.7" stroke-dasharray="1 1" opacity="1.0"/>
<path d="M319.5 396.9 L321.1 395.8 L327.2 394.9 L330.3 393.8 L335.7 395.8 L343.4 396.5 L351.8 398.9 L358.8 399.2 L366.5 400.8 L366.7 400.8 L374.4 399.8 L383.1 396.9" fill="none" stroke="#86eefc" stroke-width="0.7" stroke-dasharray="1 1" opacity="1.0"/>
<path d="M301.8 407.7 L309.5 410.8" fill="none" stroke="#6b78f0" stroke-width="0.7" stroke-dasharray="1 1" opacity="1.0"/>
<path d="M348.8 407.7 L349.5 419.2 L358 413.8 L367.2 411.5 L367.7 411.9 L375.4 412.3 L384 411.9 L386.5 408.5 L391.7 413.3 L395.6 408.5 L405.8 418.1 L409.6 416.2 L421.9 415.2 L427.3 421" fill="none" stroke="#86eefc" stroke-width="0.7" stroke-dasharray="1 1" opacity="1.0"/>
<path d="M358 426.6 L366.5 426.9 L366.7 426.7 L386 428 L416.7 429.6 L428.3 427.7 L444.2 431.9" fill="none" stroke="#86eefc" stroke-width="0.7" stroke-dasharray="1 1" opacity="1.0"/>
<path d="M416.7 429.6 L448.1 403.7" fill="none" stroke="#5b68ee" stroke-width="0.7" stroke-dasharray="1 1" opacity="1.0"/>
<path d="M428.8 431.5 L432.7 433.1 L440 436 L452 437" fill="none" stroke="#86eefc" stroke-width="0.7" stroke-dasharray="1 1" opacity="1.0"/>
<path d="M320.82 431.76 L327.87 431.29" fill="none" stroke="#7f8cf5" stroke-width="0.6" stroke-dasharray="1 1" opacity="1.0"/>
<path d="M324.78 432.35 L341.01 430.83" fill="none" stroke="#7f8cf5" stroke-width="0.6" stroke-dasharray="1 1" opacity="1.0"/>
<path d="M358.57 439.82 L372.67 436.63" fill="none" stroke="#7f8cf5" stroke-width="0.6" stroke-dasharray="1 1" opacity="1.0"/>
<path d="M329.18 436.07 L344.28 435.48" fill="none" stroke="#7f8cf5" stroke-width="0.6" stroke-dasharray="1 1" opacity="1.0"/>
<path d="M340.75 440.96 L356.58 437.29" fill="none" stroke="#7f8cf5" stroke-width="0.6" stroke-dasharray="1 1" opacity="1.0"/>
<path d="M333.97 436.1 L347.6 439.61" fill="none" stroke="#7f8cf5" stroke-width="0.6" stroke-dasharray="1 1" opacity="1.0"/>
<path d="M293.67 428.22 L309.78 425.03" fill="none" stroke="#7f8cf5" stroke-width="0.6" stroke-dasharray="1 1" opacity="1.0"/>
<path d="M299.61 438.62 L310.67 441.69" fill="none" stroke="#7f8cf5" stroke-width="0.6" stroke-dasharray="1 1" opacity="1.0"/>
<path d="M346.06 436.61 L357.08 433.27" fill="none" stroke="#7f8cf5" stroke-width="0.6" stroke-dasharray="1 1" opacity="1.0"/>
<path d="M358.33 439.32 L377.17 439.39" fill="none" stroke="#7f8cf5" stroke-width="0.6" stroke-dasharray="1 1" opacity="1.0"/>
<path d="M309.66 436.16 L321.53 433.69" fill="none" stroke="#7f8cf5" stroke-width="0.6" stroke-dasharray="1 1" opacity="1.0"/>
<path d="M297.89 433.3 L305.97 431.45" fill="none" stroke="#7f8cf5" stroke-width="0.6" stroke-dasharray="1 1" opacity="1.0"/>
<path d="M358.41 440.14 L376.81 440.24" fill="none" stroke="#7f8cf5" stroke-width="0.6" stroke-dasharray="1 1" opacity="1.0"/>
<path d="M343.4 430.13 L358.09 433.93" fill="none" stroke="#7f8cf5" stroke-width="0.6" stroke-dasharray="1 1" opacity="1.0"/>
<path d="M345.35 440.82 L360.14 439.25" fill="none" stroke="#7f8cf5" stroke-width="0.6" stroke-dasharray="1 1" opacity="1.0"/>
<path d="M291.45 431.52 L309.05 431.74" fill="none" stroke="#7f8cf5" stroke-width="0.6" stroke-dasharray="1 1" opacity="1.0"/>
<path d="M333.64 438.43 L343.78 435.56" fill="none" stroke="#7f8cf5" stroke-width="0.6" stroke-dasharray="1 1" opacity="1.0"/>
<path d="M352.11 435.81 L358.49 437.38" fill="none" stroke="#7f8cf5" stroke-width="0.6" stroke-dasharray="1 1" opacity="1.0"/>
<path d="M340.48 437.9 L348.32 436.08" fill="none" stroke="#7f8cf5" stroke-width="0.6" stroke-dasharray="1 1" opacity="1.0"/>
<path d="M340.64 436.7 L351.49 440.45" fill="none" stroke="#7f8cf5" stroke-width="0.6" stroke-dasharray="1 1" opacity="1.0"/>
<path d="M311.16 439.58 L319.05 439.24" fill="none" stroke="#7f8cf5" stroke-width="0.6" stroke-dasharray="1 1" opacity="1.0"/>
<path d="M359.47 437.03 L376.07 440.09" fill="none" stroke="#7f8cf5" stroke-width="0.6" stroke-dasharray="1 1" opacity="1.0"/>
<path d="M333.91 435.1 L351.46 435.35" fill="none" stroke="#7f8cf5" stroke-width="0.6" stroke-dasharray="1 1" opacity="1.0"/>
<path d="M357.06 437.89 L363.08 436.2" fill="none" stroke="#7f8cf5" stroke-width="0.6" stroke-dasharray="1 1" opacity="1.0"/>
<path d="M351.95 429.52 L358.16 430.18" fill="none" stroke="#7f8cf5" stroke-width="0.6" stroke-dasharray="1 1" opacity="1.0"/>
<path d="M338.56 440.75 L358.04 441.76" fill="none" stroke="#7f8cf5" stroke-width="0.6" stroke-dasharray="1 1" opacity="1.0"/>
<path d="M338.98 434.9 L356.88 436.43" fill="none" stroke="#7f8cf5" stroke-width="0.6" stroke-dasharray="1 1" opacity="1.0"/>
<path d="M299.02 436.14 L305.72 434.82" fill="none" stroke="#7f8cf5" stroke-width="0.6" stroke-dasharray="1 1" opacity="1.0"/>
<path d="M313.35 439.97 L322.44 438.98" fill="none" stroke="#7f8cf5" stroke-width="0.6" stroke-dasharray="1 1" opacity="1.0"/>
<path d="M329.52 430.67 L341.86 429.04" fill="none" stroke="#7f8cf5" stroke-width="0.6" stroke-dasharray="1 1" opacity="1.0"/>
<path d="M290 422.3 L293.27 422.63 L297.98 423.13 L303 423.8 L308.08 424.8 L313.47 425.98 L318.8 426.9 L323.88 427.4 L328.9 427.64 L334 427.7 L339.2 427.53 L344.49 427.19 L350 426.9 L355.41 426.75 L361.04 426.65 L368 426.6 L377.35 426.61 L388.04 426.66 L398 426.7 L407.19 426.71 L415.65 426.7 L421.5 426.7 L421.5 434.4 L415.65 434.45 L407.19 434.5 L398 434.4 L388.04 434.01 L377.35 433.49 L368 433.1 L361.04 432.98 L355.41 433 L350 433.1 L344.49 433.33 L339.2 433.64 L334 433.8 L328.9 433.73 L323.88 433.5 L318.8 433.1 L313.47 432.4 L308.08 431.51 L303 430.8 L297.98 430.39 L293.27 430.15 L290 430Z" fill="#a8f2ff" opacity="0.95"/>
<path d="M290 426.2 L296.44 426.99 L306 428.1 L318 429 L332.91 429.48 L350.26 429.76 L368 430 L387.56 430.25 L407.5 430.46 L421.5 430.6" fill="none" stroke="#7fe7fb" stroke-width="2.0" stroke-linejoin="round" stroke-linecap="butt" opacity="1.0"/>
<path d="M290.3 406.2 L292.53 405.64 L295.71 404.9 L298.8 404.6 L301.37 404.88 L303.85 405.59 L306.5 406.9 L309.4 409.01 L312.46 411.72 L315.7 414.6 L319.01 417.67 L322.51 420.9 L326.5 423.8 L331.27 426.15 L336.54 428.16 L341.8 430 L347.03 431.76 L352.25 433.35 L357 434.6 L359.4 435.5 L361.34 436.06 L368 436.2 L384.67 435.67 L406.06 434.71 L421.5 434 L421.5 438 L415.81 438.48 L407.57 439.13 L398.5 439.5 L388.44 439.43 L377.56 439.08 L368 438.5 L360.83 437.65 L355 436.57 L349.5 435.4 L343.99 434.13 L338.81 432.76 L334 431.5 L329.63 430.44 L325.63 429.47 L321.8 428.5 L318.01 427.47 L314.39 426.44 L311.1 425.4 L308.26 424.2 L305.74 422.99 L303.4 422.3 L301.25 422.57 L299.26 423.35 L297.2 423.8 L294.7 423.47 L292.11 422.8 L290.3 422.3Z" fill="#5a68ec" opacity="0.9"/>
<path d="M290.3 417 L293.9 417.19 L298.95 417.48 L303.4 418 L306.26 418.81 L308.51 419.85 L311.1 421 L314.39 422.26 L318.01 423.63 L321.8 425 L325.63 426.33 L329.63 427.67 L334 429 L338.81 430.37 L343.99 431.74 L349.5 433 L354.15 434.19 L359.13 435.26 L368 436 L385.22 436.22 L406.33 436.11 L421.5 436 L421.5 438 L406.33 438.11 L385.22 438.22 L368 438 L359.13 437.26 L354.15 436.19 L349.5 435 L343.99 433.7 L338.81 432.3 L334 431 L329.63 429.93 L325.63 428.96 L321.8 428 L318.01 426.96 L314.39 425.93 L311.1 425 L308.51 424.19 L306.26 423.48 L303.4 423 L298.95 422.85 L293.9 422.93 L290.3 423Z" fill="#8d9bff" opacity="0.9"/>
<path d="M290.3 415.4 L292.11 415.13 L294.7 414.78 L297.2 414.6 L299.26 414.64 L301.25 414.85 L303.4 415.4 L305.86 416.41 L308.48 417.76 L311.1 419.2 L313.61 420.7 L316.12 422.29 L318.8 423.8 L321.7 425.18 L324.76 426.49 L328 427.7 L331.49 428.8 L335.15 429.8 L338.8 430.8 L342.43 431.8 L346.04 432.8 L349.5 433.8 L352.71 434.91 L355.76 436.03 L358.8 436.9 L361.8 437.37 L364.79 437.59 L368 437.7 L371.29 437.73 L374.79 437.66 L379.2 437.6 L385.25 437.66 L392.2 437.73 L398.5 437.6 L403.54 437.15 L407.93 436.5 L411.9 435.8 L415.74 434.99 L419.15 434.11 L421.5 433.5" fill="none" stroke="#00009c" stroke-width="3.8" stroke-linejoin="round" stroke-linecap="butt" opacity="1.0"/>
<path d="M290.3 374.6h1.6v1.6h-1.6zM291.8 376.1h1.6v1.6h-1.6zM294.6 381.5h1.6v1.6h-1.6zM298 386.1h1.6v1.6h-1.6zM303.4 385.4h1.6v1.6h-1.6zM305.7 386.1h1.6v1.6h-1.6zM311 387.4h1.6v1.6h-1.6zM317.2 408.4h1.6v1.6h-1.6zM324.9 413h1.6v1.6h-1.6zM334.1 413.8h1.6v1.6h-1.6zM342.6 416.1h1.6v1.6h-1.6zM293.4 394.6h1.6v1.6h-1.6zM296.4 396.9h1.6v1.6h-1.6zM298.7 393.8h1.6v1.6h-1.6zM301 391.5h1.6v1.6h-1.6zM304.9 392.3h1.6v1.6h-1.6zM310.3 398.1h1.6v1.6h-1.6zM317.2 408.4h1.6v1.6h-1.6zM302.6 398.4h1.6v1.6h-1.6zM308.7 410h1.6v1.6h-1.6zM314.9 414.6h1.6v1.6h-1.6zM327.2 422.3h1.6v1.6h-1.6zM334.9 424.6h1.6v1.6h-1.6zM345.7 425.4h1.6v1.6h-1.6zM318.7 396.1h1.6v1.6h-1.6zM320.3 395h1.6v1.6h-1.6zM326.4 394.1h1.6v1.6h-1.6zM329.5 393h1.6v1.6h-1.6zM334.9 395h1.6v1.6h-1.6zM342.6 395.7h1.6v1.6h-1.6zM351 398.1h1.6v1.6h-1.6zM358 398.4h1.6v1.6h-1.6zM365.7 400h1.6v1.6h-1.6zM365.9 400h1.6v1.6h-1.6zM373.6 399h1.6v1.6h-1.6zM382.3 396.1h1.6v1.6h-1.6zM301 406.9h1.6v1.6h-1.6zM308.7 410h1.6v1.6h-1.6zM348 406.9h1.6v1.6h-1.6zM348.7 418.4h1.6v1.6h-1.6zM357.2 413h1.6v1.6h-1.6zM366.4 410.7h1.6v1.6h-1.6zM366.9 411.1h1.6v1.6h-1.6zM374.6 411.5h1.6v1.6h-1.6zM383.2 411.1h1.6v1.6h-1.6zM385.7 407.7h1.6v1.6h-1.6zM390.9 412.5h1.6v1.6h-1.6zM394.8 407.7h1.6v1.6h-1.6zM405 417.3h1.6v1.6h-1.6zM408.8 415.4h1.6v1.6h-1.6zM421.1 414.4h1.6v1.6h-1.6zM426.5 420.2h1.6v1.6h-1.6zM357.2 425.8h1.6v1.6h-1.6zM365.7 426.1h1.6v1.6h-1.6zM365.9 425.9h1.6v1.6h-1.6zM385.2 427.2h1.6v1.6h-1.6zM415.9 428.8h1.6v1.6h-1.6zM427.5 426.9h1.6v1.6h-1.6zM443.4 431.1h1.6v1.6h-1.6zM415.9 428.8h1.6v1.6h-1.6zM447.3 402.9h1.6v1.6h-1.6zM428 430.7h1.6v1.6h-1.6zM431.9 432.3h1.6v1.6h-1.6zM439.2 435.2h1.6v1.6h-1.6zM451.2 436.2h1.6v1.6h-1.6zM342.13 436.67h1.6v1.6h-1.6zM302.81 431.59h1.6v1.6h-1.6zM367.23 438.06h1.6v1.6h-1.6zM316.42 433.6h1.6v1.6h-1.6zM334.88 438.34h1.6v1.6h-1.6zM303.87 437.38h1.6v1.6h-1.6zM338.81 439.25h1.6v1.6h-1.6zM343.74 439.32h1.6v1.6h-1.6zM323.31 432.07h1.6v1.6h-1.6zM327.22 432.3h1.6v1.6h-1.6zM324.93 431.9h1.6v1.6h-1.6zM292.74 434.37h1.6v1.6h-1.6zM397.95 437.58h1.6v1.6h-1.6zM329.29 432.56h1.6v1.6h-1.6zM375.62 436.04h1.6v1.6h-1.6zM331.24 434.87h1.6v1.6h-1.6zM327.16 434.7h1.6v1.6h-1.6zM399.6 432.32h1.6v1.6h-1.6zM297.46 431.1h1.6v1.6h-1.6zM338.88 439.75h1.6v1.6h-1.6zM327.77 439.38h1.6v1.6h-1.6zM308.08 434.62h1.6v1.6h-1.6zM312.49 429.64h1.6v1.6h-1.6zM363.48 435.86h1.6v1.6h-1.6zM298.34 429.23h1.6v1.6h-1.6zM331.36 432.38h1.6v1.6h-1.6zM289.93 439.84h1.6v1.6h-1.6zM313.16 433.21h1.6v1.6h-1.6zM311.76 432.65h1.6v1.6h-1.6zM305.08 437.73h1.6v1.6h-1.6zM293.89 432.89h1.6v1.6h-1.6zM333.62 437.87h1.6v1.6h-1.6zM328.15 437.64h1.6v1.6h-1.6zM296.92 440.14h1.6v1.6h-1.6zM320.75 440.21h1.6v1.6h-1.6zM344.52 437.25h1.6v1.6h-1.6zM367.31 439.86h1.6v1.6h-1.6zM427.73 439.86h1.6v1.6h-1.6zM408 436.44h1.6v1.6h-1.6zM293.78 421.47h1.6v1.6h-1.6zM316.55 435.93h1.6v1.6h-1.6zM321.14 439.72h1.6v1.6h-1.6zM296.15 428.55h1.6v1.6h-1.6zM315.12 435.73h1.6v1.6h-1.6zM309.04 439.69h1.6v1.6h-1.6zM295.15 435.26h1.6v1.6h-1.6zM422.12 439.93h1.6v1.6h-1.6zM312.98 439.4h1.6v1.6h-1.6zM342.43 440.35h1.6v1.6h-1.6zM300.24 431.05h1.6v1.6h-1.6zM318.12 440.06h1.6v1.6h-1.6zM322.92 428.96h1.6v1.6h-1.6zM425.96 431.6h1.6v1.6h-1.6zM305.5 430.55h1.6v1.6h-1.6zM342.92 434.82h1.6v1.6h-1.6zM400.99 434.4h1.6v1.6h-1.6zM341.84 439.89h1.6v1.6h-1.6zM365.73 437.63h1.6v1.6h-1.6zM341.92 438.77h1.6v1.6h-1.6zM322.92 434.83h1.6v1.6h-1.6zM419.48 435.3h1.6v1.6h-1.6zM410.74 438.29h1.6v1.6h-1.6zM312.71 430.7h1.6v1.6h-1.6zM373.77 440.23h1.6v1.6h-1.6zM329.52 440.02h1.6v1.6h-1.6zM334.81 436.88h1.6v1.6h-1.6zM305.24 437.33h1.6v1.6h-1.6zM338.06 436.59h1.6v1.6h-1.6zM309.07 426.69h1.6v1.6h-1.6zM371.69 439.17h1.6v1.6h-1.6zM409.83 438.89h1.6v1.6h-1.6zM431.48 437.56h1.6v1.6h-1.6zM325.21 435.73h1.6v1.6h-1.6zM430.69 429.66h1.6v1.6h-1.6zM322.77 439.14h1.6v1.6h-1.6zM336.98 439.13h1.6v1.6h-1.6zM445.98 436.5h1.6v1.6h-1.6zM416 437.87h1.6v1.6h-1.6zM291.33 426.63h1.6v1.6h-1.6zM309.34 432.85h1.6v1.6h-1.6zM433.83 439.75h1.6v1.6h-1.6zM305.51 429.81h1.6v1.6h-1.6zM307.17 436.6h1.6v1.6h-1.6zM382.49 440.28h1.6v1.6h-1.6zM303.22 433.98h1.6v1.6h-1.6zM355.18 438.12h1.6v1.6h-1.6zM305.32 434.58h1.6v1.6h-1.6zM292 428.58h1.6v1.6h-1.6zM329.69 438.46h1.6v1.6h-1.6zM337.7 436.51h1.6v1.6h-1.6zM396.88 432.92h1.6v1.6h-1.6zM446.64 437.34h1.6v1.6h-1.6zM307.18 436.43h1.6v1.6h-1.6zM350.89 439.33h1.6v1.6h-1.6zM408.61 437.76h1.6v1.6h-1.6zM407.82 438.13h1.6v1.6h-1.6zM445.7 436.94h1.6v1.6h-1.6zM309.36 421.2h1.6v1.6h-1.6zM402.28 438.59h1.6v1.6h-1.6zM296.23 429.24h1.6v1.6h-1.6zM399.19 436.25h1.6v1.6h-1.6zM376.01 439.73h1.6v1.6h-1.6zM318.16 438.93h1.6v1.6h-1.6zM296.03 425.65h1.6v1.6h-1.6zM291.12 427.19h1.6v1.6h-1.6zM327.64 426.59h1.6v1.6h-1.6zM297.08 439.27h1.6v1.6h-1.6zM321.1 437.48h1.6v1.6h-1.6zM342.25 436.09h1.6v1.6h-1.6zM356.08 438.27h1.6v1.6h-1.6zM348.56 436.39h1.6v1.6h-1.6zM383.59 437.46h1.6v1.6h-1.6zM415.72 438.39h1.6v1.6h-1.6zM309.29 439.79h1.6v1.6h-1.6zM309.65 437.73h1.6v1.6h-1.6zM291.32 433.26h1.6v1.6h-1.6zM328.25 435.14h1.6v1.6h-1.6zM301.99 436.1h1.6v1.6h-1.6zM309.35 434.22h1.6v1.6h-1.6zM332.43 439.38h1.6v1.6h-1.6zM425.76 438.15h1.6v1.6h-1.6zM376.05 439.13h1.6v1.6h-1.6zM393.38 437.67h1.6v1.6h-1.6zM307.96 433.67h1.6v1.6h-1.6zM329.71 437.45h1.6v1.6h-1.6zM315.05 432.21h1.6v1.6h-1.6zM319.26 439.25h1.6v1.6h-1.6zM334.48 438.41h1.6v1.6h-1.6zM332.82 440.36h1.6v1.6h-1.6zM303.14 434.9h1.6v1.6h-1.6zM365.9 439.79h1.6v1.6h-1.6zM300.85 439.05h1.6v1.6h-1.6zM342.93 440h1.6v1.6h-1.6zM324.43 427.46h1.6v1.6h-1.6zM333.89 437.22h1.6v1.6h-1.6zM339.32 434.46h1.6v1.6h-1.6zM343.12 437.05h1.6v1.6h-1.6zM343.45 438.13h1.6v1.6h-1.6zM343.2 437.44h1.6v1.6h-1.6zM297.23 435.8h1.6v1.6h-1.6zM341.52 438.86h1.6v1.6h-1.6zM325.33 434.15h1.6v1.6h-1.6zM327.37 439.9h1.6v1.6h-1.6zM316.05 438.7h1.6v1.6h-1.6zM301.6 430.7h1.6v1.6h-1.6zM317.93 433.08h1.6v1.6h-1.6zM311.53 437.33h1.6v1.6h-1.6zM299.59 428.63h1.6v1.6h-1.6zM416.28 436.43h1.6v1.6h-1.6zM328.57 430.14h1.6v1.6h-1.6zM325.14 434.09h1.6v1.6h-1.6zM337.91 438.9h1.6v1.6h-1.6zM339.2 434.16h1.6v1.6h-1.6zM323.12 424.94h1.6v1.6h-1.6zM301.37 437.33h1.6v1.6h-1.6zM302.4 429.98h1.6v1.6h-1.6zM328.95 436.11h1.6v1.6h-1.6zM320.18 437.42h1.6v1.6h-1.6zM313.65 436.09h1.6v1.6h-1.6zM321.86 440.3h1.6v1.6h-1.6zM445.59 435.67h1.6v1.6h-1.6zM310.44 432.39h1.6v1.6h-1.6zM417.35 436.03h1.6v1.6h-1.6zM319.34 436.94h1.6v1.6h-1.6zM451.52 438.7h1.6v1.6h-1.6zM411 434.91h1.6v1.6h-1.6zM309.69 430.01h1.6v1.6h-1.6zM295.47 439.44h1.6v1.6h-1.6zM374.56 438.28h1.6v1.6h-1.6zM293.3 438.94h1.6v1.6h-1.6zM310.36 436.94h1.6v1.6h-1.6zM316.19 431.97h1.6v1.6h-1.6zM413.35 432.08h1.6v1.6h-1.6zM314.93 436.85h1.6v1.6h-1.6zM440.97 435.48h1.6v1.6h-1.6zM317.47 437.48h1.6v1.6h-1.6zM311.26 431.9h1.6v1.6h-1.6zM361.78 439.24h1.6v1.6h-1.6zM339.99 435.1h1.6v1.6h-1.6zM425.19 440.15h1.6v1.6h-1.6zM341.56 437.79h1.6v1.6h-1.6zM297.96 434.38h1.6v1.6h-1.6zM442.82 437.82h1.6v1.6h-1.6zM322.57 432.82h1.6v1.6h-1.6zM339.32 435.25h1.6v1.6h-1.6zM313.31 436.44h1.6v1.6h-1.6zM299.64 429.41h1.6v1.6h-1.6zM305.27 437.06h1.6v1.6h-1.6zM294.77 436.86h1.6v1.6h-1.6zM320.47 436.92h1.6v1.6h-1.6zM313.29 440.28h1.6v1.6h-1.6zM295.76 438.55h1.6v1.6h-1.6zM320.69 433h1.6v1.6h-1.6zM307.27 436.17h1.6v1.6h-1.6zM299.83 430.18h1.6v1.6h-1.6zM335.68 440.12h1.6v1.6h-1.6zM296.14 433.68h1.6v1.6h-1.6zM327.15 438.19h1.6v1.6h-1.6zM332.38 435.34h1.6v1.6h-1.6zM296.14 438.26h1.6v1.6h-1.6zM299.21 434.46h1.6v1.6h-1.6zM325.9 438.28h1.6v1.6h-1.6zM360.67 440.33h1.6v1.6h-1.6zM452.53 440.45h1.6v1.6h-1.6zM333.12 436h1.6v1.6h-1.6zM447.78 440.35h1.6v1.6h-1.6zM301.28 431.24h1.6v1.6h-1.6zM368.52 438.15h1.6v1.6h-1.6zM361.74 438.76h1.6v1.6h-1.6zM386.8 438.2h1.6v1.6h-1.6z" fill="#12384a"/>
<path d="M72.3 540.4 L120.8 597.3 L150 617.3" fill="none" stroke="#8a98f7" stroke-width="0.7" stroke-linejoin="round" stroke-linecap="butt" opacity="1.0"/>
<path d="M72.3 534.2 L79.2 541.2 L84.6 552.4 L88.2 570.8 L96.9 571.5 L105.4 573.9 L113.8 564.7 L120.8 569.9 L128.8 561.9 L135.4 565.3 L142.3 558.1 L149.2 552.7 L149.8 552.5 L157.1 553" fill="none" stroke="#62e6c6" stroke-width="0.7" stroke-dasharray="1 1" opacity="1.0"/>
<path d="M72.3 540 L80 579.6 L88 595" fill="none" stroke="#62e6c6" stroke-width="0.7" stroke-dasharray="1 1" opacity="1.0"/>
<path d="M98.5 578.1 L100 578.1 L113.1 571.9 L120.8 577 L134.6 569.9 L143.8 566.5 L151.1 567.3 L158.8 566.8 L160.9 565.1 L168.9 561.1 L178.7 585 L182.2 584.1 L186.9 605.7" fill="none" stroke="#62e6c6" stroke-width="0.7" stroke-dasharray="1 1" opacity="1.0"/>
<path d="M165.8 569.1 L193.8 573.2" fill="none" stroke="#62e6c6" stroke-width="0.7" stroke-dasharray="1 1" opacity="1.0"/>
<path d="M152.8 601.4 L160.9 565.1" fill="none" stroke="#62e6c6" stroke-width="0.7" stroke-dasharray="1 1" opacity="1.0"/>
<path d="M73.4 578.2 L75.4 580.9 L80.8 580.2 L85.5 578.2 L91.6 581.5 L98.3 589 L107 587.6 L119.1 596.3 L124.5 596.3 L127.2 600.4 L134.6 604.4" fill="none" stroke="#4a5cf0" stroke-width="0.7" stroke-dasharray="1 1" opacity="1.0"/>
<path d="M76.1 591.6 L82.8 591 L84.2 584.2 L87.5 592.3 L91.6 591.6 L92.9 599 L96.3 599.7 L100.3 603.1 L105.7 607.1" fill="none" stroke="#4a5cf0" stroke-width="0.7" stroke-dasharray="1 1" opacity="1.0"/>
<path d="M73.4 597.7 L76.1 600.4 L80.1 601.7 L88.2 594.3 L98.3 595 L103.7 592.3 L111.1 596.3 L121.2 604.4 L125.9 603.1" fill="none" stroke="#4a5cf0" stroke-width="0.7" stroke-dasharray="1 1" opacity="1.0"/>
<path d="M80.8 580.2 L76.1 591.6 L73.4 597.7" fill="none" stroke="#4a5cf0" stroke-width="0.7" stroke-dasharray="1 1" opacity="1.0"/>
<path d="M85.5 578.2 L99.6 604.4 L103 607.1" fill="none" stroke="#4a5cf0" stroke-width="0.7" stroke-dasharray="1 1" opacity="1.0"/>
<path d="M108.4 581.5 L111.7 596.3" fill="none" stroke="#4a5cf0" stroke-width="0.7" stroke-dasharray="1 1" opacity="1.0"/>
<path d="M88.2 570.8 L96.3 571.4" fill="none" stroke="#62e6c6" stroke-width="0.7" stroke-dasharray="1 1" opacity="1.0"/>
<path d="M99 578.2 L105 573.5 L113.8 564.7" fill="none" stroke="#62e6c6" stroke-width="0.7" stroke-dasharray="1 1" opacity="1.0"/>
<path d="M113.1 571.4 L121.2 576.8 L135.3 570.1" fill="none" stroke="#62e6c6" stroke-width="0.7" stroke-dasharray="1 1" opacity="1.0"/>
<path d="M106.9 588.1 L109.2 581.9 L124.6 596.5 L142.3 605 L152.8 601.4 L173.5 598.5 L177.5 604.4 L182.2 605.7 L199 600.9 L214.6 607.5" fill="none" stroke="#62e6c6" stroke-width="0.7" stroke-dasharray="1 1" opacity="1.0"/>
<path d="M199.5 604 L217.7 587.6" fill="none" stroke="#5b68ee" stroke-width="0.7" stroke-dasharray="1 1" opacity="1.0"/>
<path d="M195.5 613.5 L203.8 612.7 L207.3 617.9 L210.7 618.2 L217.7 618.7" fill="none" stroke="#62e6c6" stroke-width="0.7" stroke-dasharray="1 1" opacity="1.0"/>
<path d="M73 560 L74.6 600.7 L80 601.6" fill="none" stroke="#4a5cf0" stroke-width="0.7" stroke-dasharray="1 1" opacity="1.0"/>
<path d="M125.34 610.85 L144.69 610.11" fill="none" stroke="#62e6c6" stroke-width="0.6" stroke-dasharray="1 1" opacity="1.0"/>
<path d="M93.58 618.42 L110.77 619.58" fill="none" stroke="#4a5cf0" stroke-width="0.6" stroke-dasharray="1 1" opacity="1.0"/>
<path d="M74.26 615.66 L85.72 619.22" fill="none" stroke="#62e6c6" stroke-width="0.6" stroke-dasharray="1 1" opacity="1.0"/>
<path d="M184.91 622.74 L193.27 618.98" fill="none" stroke="#4a5cf0" stroke-width="0.6" stroke-dasharray="1 1" opacity="1.0"/>
<path d="M72.93 611.54 L87.01 609.15" fill="none" stroke="#62e6c6" stroke-width="0.6" stroke-dasharray="1 1" opacity="1.0"/>
<path d="M116.92 613.56 L136.49 611.05" fill="none" stroke="#62e6c6" stroke-width="0.6" stroke-dasharray="1 1" opacity="1.0"/>
<path d="M134.17 618.62 L142.18 620.58" fill="none" stroke="#62e6c6" stroke-width="0.6" stroke-dasharray="1 1" opacity="1.0"/>
<path d="M95.38 616.15 L110.52 615.94" fill="none" stroke="#62e6c6" stroke-width="0.6" stroke-dasharray="1 1" opacity="1.0"/>
<path d="M148.03 614.08 L163.56 616.27" fill="none" stroke="#4a5cf0" stroke-width="0.6" stroke-dasharray="1 1" opacity="1.0"/>
<path d="M141.66 618.25 L154.34 614.96" fill="none" stroke="#4a5cf0" stroke-width="0.6" stroke-dasharray="1 1" opacity="1.0"/>
<path d="M163.8 619.41 L170.84 619.24" fill="none" stroke="#62e6c6" stroke-width="0.6" stroke-dasharray="1 1" opacity="1.0"/>
<path d="M134.89 611.95 L149.94 613.53" fill="none" stroke="#62e6c6" stroke-width="0.6" stroke-dasharray="1 1" opacity="1.0"/>
<path d="M182.87 617.51 L189.05 615.79" fill="none" stroke="#62e6c6" stroke-width="0.6" stroke-dasharray="1 1" opacity="1.0"/>
<path d="M81.42 622.55 L97.2 624.67" fill="none" stroke="#4a5cf0" stroke-width="0.6" stroke-dasharray="1 1" opacity="1.0"/>
<path d="M72.8 621.35 L85.95 620.89" fill="none" stroke="#62e6c6" stroke-width="0.6" stroke-dasharray="1 1" opacity="1.0"/>
<path d="M162.65 614.84 L179.47 612.14" fill="none" stroke="#62e6c6" stroke-width="0.6" stroke-dasharray="1 1" opacity="1.0"/>
<path d="M154.11 614.14 L166.79 617.19" fill="none" stroke="#4a5cf0" stroke-width="0.6" stroke-dasharray="1 1" opacity="1.0"/>
<path d="M154.49 621.82 L173.94 619.87" fill="none" stroke="#62e6c6" stroke-width="0.6" stroke-dasharray="1 1" opacity="1.0"/>
<path d="M143.82 620.51 L150.79 619.82" fill="none" stroke="#4a5cf0" stroke-width="0.6" stroke-dasharray="1 1" opacity="1.0"/>
<path d="M168.12 615.88 L174.7 613.55" fill="none" stroke="#62e6c6" stroke-width="0.6" stroke-dasharray="1 1" opacity="1.0"/>
<path d="M176.18 617.46 L183.3 619.64" fill="none" stroke="#62e6c6" stroke-width="0.6" stroke-dasharray="1 1" opacity="1.0"/>
<path d="M105.88 616.26 L115.95 612.69" fill="none" stroke="#62e6c6" stroke-width="0.6" stroke-dasharray="1 1" opacity="1.0"/>
<path d="M90.76 611.13 L109.49 607.9" fill="none" stroke="#62e6c6" stroke-width="0.6" stroke-dasharray="1 1" opacity="1.0"/>
<path d="M168.18 613.26 L179.39 611.04" fill="none" stroke="#62e6c6" stroke-width="0.6" stroke-dasharray="1 1" opacity="1.0"/>
<path d="M186.88 619.67 L199.79 619.97" fill="none" stroke="#4a5cf0" stroke-width="0.6" stroke-dasharray="1 1" opacity="1.0"/>
<path d="M156.3 613.5 L165.73 615.07" fill="none" stroke="#4a5cf0" stroke-width="0.6" stroke-dasharray="1 1" opacity="1.0"/>
<path d="M188.63 619.45 L197.2 615.62" fill="none" stroke="#62e6c6" stroke-width="0.6" stroke-dasharray="1 1" opacity="1.0"/>
<path d="M87.81 616.5 L102.22 618.97" fill="none" stroke="#4a5cf0" stroke-width="0.6" stroke-dasharray="1 1" opacity="1.0"/>
<path d="M136.43 620.59 L144.32 619.28" fill="none" stroke="#62e6c6" stroke-width="0.6" stroke-dasharray="1 1" opacity="1.0"/>
<path d="M114.26 622.09 L121.43 618.77" fill="none" stroke="#4a5cf0" stroke-width="0.6" stroke-dasharray="1 1" opacity="1.0"/>
<path d="M126.76 614.78 L135.85 614.36" fill="none" stroke="#62e6c6" stroke-width="0.6" stroke-dasharray="1 1" opacity="1.0"/>
<path d="M182.64 618.14 L192.23 618.8" fill="none" stroke="#4a5cf0" stroke-width="0.6" stroke-dasharray="1 1" opacity="1.0"/>
<path d="M79.41 620.33 L89.15 617.62" fill="none" stroke="#62e6c6" stroke-width="0.6" stroke-dasharray="1 1" opacity="1.0"/>
<path d="M86.44 613.07 L94.57 616.21" fill="none" stroke="#62e6c6" stroke-width="0.6" stroke-dasharray="1 1" opacity="1.0"/>
<path d="M93.36 610.94 L112.05 607.96" fill="none" stroke="#62e6c6" stroke-width="0.6" stroke-dasharray="1 1" opacity="1.0"/>
<path d="M72 602.5 L75.56 603 L80.56 603.72 L85 604.5 L87.48 605.41 L89.41 606.37 L93 607 L99.15 607.07 L106.96 606.81 L116 606.5 L126.85 606.13 L138.93 605.7 L150 605.5 L159.22 605.63 L167.44 605.98 L175 606.5 L182.48 607.31 L189.3 608.3 L194 609 L194 615 L189.3 615.43 L182.48 616.02 L175 616.5 L167.44 616.78 L159.22 616.94 L150 617 L138.93 616.93 L126.85 616.74 L116 616.5 L106.96 616.26 L99.15 615.96 L93 615.5 L89.41 614.76 L87.48 613.85 L85 613 L80.56 612.22 L75.56 611.5 L72 611Z" fill="#8ef2c8" opacity="0.95"/>
<path d="M72 606 L77.37 607.53 L85.07 609.64 L93 611.2 L100.11 611.68 L107.44 611.62 L116 611.5 L126.85 611.46 L138.93 611.36 L150 611.3 L159.22 611.33 L167.44 611.4 L175 611.5 L182.48 611.66 L189.3 611.86 L194 612" fill="none" stroke="#3fe39b" stroke-width="3.2" stroke-linejoin="round" stroke-linecap="butt" opacity="1.0"/>
<path d="M72 604.5 L74.6 604.9 L78.26 605.46 L81.5 606 L83.71 606.39 L85.51 606.76 L87.3 607.3 L89.2 608.13 L91.1 609.14 L93 610.2 L94.93 611.33 L96.86 612.52 L98.8 613.6 L100.52 614.5 L102.24 615.29 L104.6 616 L107.92 616.65 L111.88 617.23 L116.1 617.7 L120.33 618.01 L124.83 618.23 L130 618.5 L135.33 618.93 L141.33 619.41 L150 619.8 L164.52 620.01 L181.7 620.13 L194 620.2 L194 623.6 L175.98 623.26 L150.84 622.77 L130 622.3 L118.16 621.93 L110.61 621.58 L104.6 621.1 L99.71 620.45 L96.35 619.68 L93 618.8 L89.09 617.67 L85.18 616.43 L81.5 615.5 L77.83 615.11 L74.39 615.03 L72 615Z" fill="#2a4af2" opacity="0.95"/>
<path d="M72 611.5 L75.27 611.61 L79.98 611.83 L85 612.5 L90.07 613.96 L95.46 615.87 L100.8 617.5 L105.28 618.57 L109.72 619.36 L116.2 620 L125.73 620.53 L137.3 620.91 L150 621.2 L165.54 621.38 L182.21 621.46 L194 621.5 L194 622.2 L182.21 622.18 L165.54 622.13 L150 622 L137.3 621.77 L125.73 621.46 L116.2 621 L109.72 620.42 L105.28 619.69 L100.8 618.7 L95.46 617.16 L90.07 615.34 L85 614 L79.98 613.5 L75.27 613.47 L72 613.5Z" fill="#6a86ff" opacity="0.8"/>
<path d="M72 609 L75.27 608.91 L79.98 608.87 L85 609.5 L90.07 611.33 L95.46 613.83 L100.8 616 L105.28 617.44 L109.72 618.56 L116.2 619.5 L125.73 620.33 L137.3 621 L150 621.5 L165.54 621.8 L182.21 621.93 L194 622" fill="none" stroke="#1533f0" stroke-width="1.6" stroke-linejoin="round" stroke-linecap="butt" opacity="1.0"/>
<path d="M71.5 533.4h1.6v1.6h-1.6zM78.4 540.4h1.6v1.6h-1.6zM83.8 551.6h1.6v1.6h-1.6zM87.4 570h1.6v1.6h-1.6zM96.1 570.7h1.6v1.6h-1.6zM104.6 573.1h1.6v1.6h-1.6zM113 563.9h1.6v1.6h-1.6zM120 569.1h1.6v1.6h-1.6zM128 561.1h1.6v1.6h-1.6zM134.6 564.5h1.6v1.6h-1.6zM141.5 557.3h1.6v1.6h-1.6zM148.4 551.9h1.6v1.6h-1.6zM149 551.7h1.6v1.6h-1.6zM156.3 552.2h1.6v1.6h-1.6zM71.5 539.2h1.6v1.6h-1.6zM79.2 578.8h1.6v1.6h-1.6zM87.2 594.2h1.6v1.6h-1.6zM97.7 577.3h1.6v1.6h-1.6zM99.2 577.3h1.6v1.6h-1.6zM112.3 571.1h1.6v1.6h-1.6zM120 576.2h1.6v1.6h-1.6zM133.8 569.1h1.6v1.6h-1.6zM143 565.7h1.6v1.6h-1.6zM150.3 566.5h1.6v1.6h-1.6zM158 566h1.6v1.6h-1.6zM160.1 564.3h1.6v1.6h-1.6zM168.1 560.3h1.6v1.6h-1.6zM177.9 584.2h1.6v1.6h-1.6zM181.4 583.3h1.6v1.6h-1.6zM186.1 604.9h1.6v1.6h-1.6zM165 568.3h1.6v1.6h-1.6zM193 572.4h1.6v1.6h-1.6zM152 600.6h1.6v1.6h-1.6zM160.1 564.3h1.6v1.6h-1.6zM72.6 577.4h1.6v1.6h-1.6zM74.6 580.1h1.6v1.6h-1.6zM80 579.4h1.6v1.6h-1.6zM84.7 577.4h1.6v1.6h-1.6zM90.8 580.7h1.6v1.6h-1.6zM97.5 588.2h1.6v1.6h-1.6zM106.2 586.8h1.6v1.6h-1.6zM118.3 595.5h1.6v1.6h-1.6zM123.7 595.5h1.6v1.6h-1.6zM126.4 599.6h1.6v1.6h-1.6zM133.8 603.6h1.6v1.6h-1.6zM75.3 590.8h1.6v1.6h-1.6zM82 590.2h1.6v1.6h-1.6zM83.4 583.4h1.6v1.6h-1.6zM86.7 591.5h1.6v1.6h-1.6zM90.8 590.8h1.6v1.6h-1.6zM92.1 598.2h1.6v1.6h-1.6zM95.5 598.9h1.6v1.6h-1.6zM99.5 602.3h1.6v1.6h-1.6zM104.9 606.3h1.6v1.6h-1.6zM72.6 596.9h1.6v1.6h-1.6zM75.3 599.6h1.6v1.6h-1.6zM79.3 600.9h1.6v1.6h-1.6zM87.4 593.5h1.6v1.6h-1.6zM97.5 594.2h1.6v1.6h-1.6zM102.9 591.5h1.6v1.6h-1.6zM110.3 595.5h1.6v1.6h-1.6zM120.4 603.6h1.6v1.6h-1.6zM125.1 602.3h1.6v1.6h-1.6zM80 579.4h1.6v1.6h-1.6zM75.3 590.8h1.6v1.6h-1.6zM72.6 596.9h1.6v1.6h-1.6zM84.7 577.4h1.6v1.6h-1.6zM98.8 603.6h1.6v1.6h-1.6zM102.2 606.3h1.6v1.6h-1.6zM107.6 580.7h1.6v1.6h-1.6zM110.9 595.5h1.6v1.6h-1.6zM87.4 570h1.6v1.6h-1.6zM95.5 570.6h1.6v1.6h-1.6zM98.2 577.4h1.6v1.6h-1.6zM104.2 572.7h1.6v1.6h-1.6zM113 563.9h1.6v1.6h-1.6zM112.3 570.6h1.6v1.6h-1.6zM120.4 576h1.6v1.6h-1.6zM134.5 569.3h1.6v1.6h-1.6zM106.1 587.3h1.6v1.6h-1.6zM108.4 581.1h1.6v1.6h-1.6zM123.8 595.7h1.6v1.6h-1.6zM141.5 604.2h1.6v1.6h-1.6zM152 600.6h1.6v1.6h-1.6zM172.7 597.7h1.6v1.6h-1.6zM176.7 603.6h1.6v1.6h-1.6zM181.4 604.9h1.6v1.6h-1.6zM198.2 600.1h1.6v1.6h-1.6zM213.8 606.7h1.6v1.6h-1.6zM198.7 603.2h1.6v1.6h-1.6zM216.9 586.8h1.6v1.6h-1.6zM194.7 612.7h1.6v1.6h-1.6zM203 611.9h1.6v1.6h-1.6zM206.5 617.1h1.6v1.6h-1.6zM209.9 617.4h1.6v1.6h-1.6zM216.9 617.9h1.6v1.6h-1.6zM72.2 559.2h1.6v1.6h-1.6zM73.8 599.9h1.6v1.6h-1.6zM79.2 600.8h1.6v1.6h-1.6zM115.25 614.59h1.6v1.6h-1.6zM130.53 613.02h1.6v1.6h-1.6zM191.79 619.08h1.6v1.6h-1.6zM115.92 619.99h1.6v1.6h-1.6zM124.54 622.41h1.6v1.6h-1.6zM84.29 619.25h1.6v1.6h-1.6zM180.21 613.55h1.6v1.6h-1.6zM159.24 616.97h1.6v1.6h-1.6zM105.56 618.21h1.6v1.6h-1.6zM81.55 613.71h1.6v1.6h-1.6zM95.97 620.7h1.6v1.6h-1.6zM175.8 611.39h1.6v1.6h-1.6zM190.95 620.47h1.6v1.6h-1.6zM121.32 617.78h1.6v1.6h-1.6zM192.79 621.75h1.6v1.6h-1.6zM176.85 621.11h1.6v1.6h-1.6zM72.17 615.99h1.6v1.6h-1.6zM81.21 618.94h1.6v1.6h-1.6zM179.87 617.26h1.6v1.6h-1.6zM82.22 619.85h1.6v1.6h-1.6zM91.56 610.3h1.6v1.6h-1.6zM136.7 612.64h1.6v1.6h-1.6zM88.82 620.58h1.6v1.6h-1.6zM193.08 613.32h1.6v1.6h-1.6zM183.41 622.26h1.6v1.6h-1.6zM114.38 614.1h1.6v1.6h-1.6zM140.85 622.57h1.6v1.6h-1.6zM173.16 620.26h1.6v1.6h-1.6zM124.45 607.47h1.6v1.6h-1.6zM73.37 612.04h1.6v1.6h-1.6zM109.99 618.88h1.6v1.6h-1.6zM109.52 621.17h1.6v1.6h-1.6zM145.48 613.92h1.6v1.6h-1.6zM163.33 616.13h1.6v1.6h-1.6zM129.89 621.76h1.6v1.6h-1.6zM121.35 618.25h1.6v1.6h-1.6zM184.96 617.9h1.6v1.6h-1.6zM201.02 621.31h1.6v1.6h-1.6zM91.39 620.22h1.6v1.6h-1.6zM186.28 618.81h1.6v1.6h-1.6zM182.89 614.16h1.6v1.6h-1.6zM78.39 622.23h1.6v1.6h-1.6zM117.09 610.06h1.6v1.6h-1.6zM87.8 612.08h1.6v1.6h-1.6zM87.4 615.91h1.6v1.6h-1.6zM78.94 618.71h1.6v1.6h-1.6zM154.25 622.43h1.6v1.6h-1.6zM194.61 620.06h1.6v1.6h-1.6zM162.26 617.46h1.6v1.6h-1.6zM76.92 617.81h1.6v1.6h-1.6zM91.65 621.13h1.6v1.6h-1.6zM97.44 621.02h1.6v1.6h-1.6zM91.95 614.99h1.6v1.6h-1.6zM91.62 620.76h1.6v1.6h-1.6zM182.88 607.9h1.6v1.6h-1.6zM188.39 619.58h1.6v1.6h-1.6zM206.62 619.32h1.6v1.6h-1.6zM191.3 622.45h1.6v1.6h-1.6zM135.17 619.75h1.6v1.6h-1.6zM83.38 613.07h1.6v1.6h-1.6zM124.72 613.77h1.6v1.6h-1.6zM142.34 622.43h1.6v1.6h-1.6zM174.89 621.57h1.6v1.6h-1.6zM144.95 610.99h1.6v1.6h-1.6zM190.35 619.61h1.6v1.6h-1.6zM119.19 617.87h1.6v1.6h-1.6zM93.51 619.8h1.6v1.6h-1.6zM113.07 620.42h1.6v1.6h-1.6zM134.4 611.91h1.6v1.6h-1.6zM163.57 621.17h1.6v1.6h-1.6zM183.78 607.99h1.6v1.6h-1.6zM215.85 618.59h1.6v1.6h-1.6zM112.35 621.68h1.6v1.6h-1.6zM97.3 611.77h1.6v1.6h-1.6zM85.37 606.55h1.6v1.6h-1.6zM158.64 616.26h1.6v1.6h-1.6zM132.8 616.71h1.6v1.6h-1.6zM101.45 616.26h1.6v1.6h-1.6zM94.49 608.52h1.6v1.6h-1.6zM83.38 617.19h1.6v1.6h-1.6zM78.02 622.9h1.6v1.6h-1.6zM97.24 610.3h1.6v1.6h-1.6zM103.67 619.38h1.6v1.6h-1.6zM214.36 617.88h1.6v1.6h-1.6zM218.98 618.19h1.6v1.6h-1.6zM192.22 618.28h1.6v1.6h-1.6zM100.37 617h1.6v1.6h-1.6zM169.98 618.4h1.6v1.6h-1.6zM95.85 621.81h1.6v1.6h-1.6zM138.28 615.86h1.6v1.6h-1.6zM93.19 618.29h1.6v1.6h-1.6zM135.38 619.68h1.6v1.6h-1.6zM155.17 621.08h1.6v1.6h-1.6zM111.07 620.03h1.6v1.6h-1.6zM142.77 622.02h1.6v1.6h-1.6zM96.13 609.56h1.6v1.6h-1.6zM110.77 614.82h1.6v1.6h-1.6zM173.5 622.01h1.6v1.6h-1.6zM169.56 620.04h1.6v1.6h-1.6zM104.79 622.74h1.6v1.6h-1.6zM79.63 608.39h1.6v1.6h-1.6zM88.8 622.01h1.6v1.6h-1.6zM82.53 613.46h1.6v1.6h-1.6zM117.86 604.01h1.6v1.6h-1.6zM205.4 619.96h1.6v1.6h-1.6zM103.05 615.54h1.6v1.6h-1.6zM116.63 619.31h1.6v1.6h-1.6zM207.46 619.24h1.6v1.6h-1.6zM151.94 615.64h1.6v1.6h-1.6zM210.87 622.57h1.6v1.6h-1.6zM213.35 622.76h1.6v1.6h-1.6zM151.42 619.42h1.6v1.6h-1.6zM110.26 622.93h1.6v1.6h-1.6zM135.56 616.99h1.6v1.6h-1.6zM190.04 620.97h1.6v1.6h-1.6zM82.6 612.6h1.6v1.6h-1.6zM96.07 609.49h1.6v1.6h-1.6zM95.13 619.25h1.6v1.6h-1.6zM121.13 609.23h1.6v1.6h-1.6zM212.1 613.86h1.6v1.6h-1.6zM78.39 620.66h1.6v1.6h-1.6zM145.79 616.88h1.6v1.6h-1.6zM206.99 616.27h1.6v1.6h-1.6zM113.05 614.73h1.6v1.6h-1.6zM213.76 621.11h1.6v1.6h-1.6zM181.28 622.19h1.6v1.6h-1.6zM150.31 619.04h1.6v1.6h-1.6zM171.96 622.37h1.6v1.6h-1.6zM94.84 620.38h1.6v1.6h-1.6zM106.32 618.39h1.6v1.6h-1.6zM119.09 621.68h1.6v1.6h-1.6zM190.54 619.76h1.6v1.6h-1.6zM88.17 619.13h1.6v1.6h-1.6zM132.94 621.04h1.6v1.6h-1.6zM170.91 619.36h1.6v1.6h-1.6zM115.95 608.76h1.6v1.6h-1.6zM201.9 622.24h1.6v1.6h-1.6zM171.3 615.73h1.6v1.6h-1.6zM82.36 615.32h1.6v1.6h-1.6zM143.49 621.25h1.6v1.6h-1.6zM200.3 621.02h1.6v1.6h-1.6zM133.58 622.62h1.6v1.6h-1.6zM171.68 622.69h1.6v1.6h-1.6zM85.76 621.91h1.6v1.6h-1.6zM97.81 618.97h1.6v1.6h-1.6zM201.04 619.16h1.6v1.6h-1.6zM109.33 615.9h1.6v1.6h-1.6zM158.73 618.8h1.6v1.6h-1.6zM76.73 610.64h1.6v1.6h-1.6zM113.45 621.49h1.6v1.6h-1.6zM154.44 613.95h1.6v1.6h-1.6zM182.4 618.36h1.6v1.6h-1.6zM138.75 610.44h1.6v1.6h-1.6zM149.37 622.35h1.6v1.6h-1.6zM200.36 616.68h1.6v1.6h-1.6zM186.14 621.67h1.6v1.6h-1.6zM125.16 620.28h1.6v1.6h-1.6zM159.43 611.7h1.6v1.6h-1.6zM175.09 618.77h1.6v1.6h-1.6zM101.84 614.14h1.6v1.6h-1.6z" fill="#0f1f3a"/>
<path d="M72.1 263.09 L73.36 263.09 L73.36 258.72 L74.95 258.72 L74.95 258.26 L76.82 258.26 L76.82 259.31 L78.9 259.31 L78.9 260.28 L80.3 260.28 L80.3 259.26 L81.27 259.26 L81.27 259.02 L83.18 259.02 L83.18 259.13 L84.83 259.13 L84.83 259.56 L86.38 259.56 L86.38 258.48 L88.29 258.48 L88.29 260.31 L90.21 260.31 L90.21 260.36 L92.19 260.36 L92.19 261.48 L93.55 261.48 L93.55 261.23 L95.47 261.23 L95.47 261.44 L96.53 261.44 L96.53 262.99 L97.88 262.99 L97.88 264.03 L99.05 264.03 L99.05 264.71 L100.28 264.71 L100.28 266.06 L102.24 266.06 L102.24 268.78 L104.23 268.78 L104.23 271.23 L106.3 271.23 L106.3 273.3 L107.29 273.3 L107.29 274.29 L109.32 274.29 L109.32 276.08 L110.84 276.08 L110.84 276.44 L111.9 276.44 L111.9 276.7 L113.42 276.7 L113.42 276.19 L115.31 276.19 L115.31 277.14 L116.21 277.14 L116.21 276.7 L117.52 276.7 L117.52 275.63 L119.3 275.63 L119.3 275.32 L120.14 275.32 L120.14 274.98 L120.98 274.98 L120.98 274.64 L122.19 274.64 L122.19 274.16 L124.24 274.16 L124.24 274.33 L125.42 274.33 L125.42 273.05 L126.24 273.05 L126.24 272.34 L127.82 272.34 L127.82 271.67 L129.73 271.67 L129.73 273.61 L131.67 273.61 L131.67 272.73 L133.13 272.73 L133.13 272.89 L134.68 272.89 L134.68 273.22 L136.68 273.22 L136.68 276.1 L138.4 276.1 L138.4 274.24 L140.45 274.24 L140.45 272.83 L141.25 272.83 L141.25 272.66 L142.05 272.66 L142.05 272.5 L143.66 272.5 L143.66 272.75 L145.04 272.75 L145.04 272.5 L146.28 272.5 L146.28 272.5 L148.02 272.5 L148.02 271.62 L149.68 271.62 L149.68 272.5 L150.78 272.5 L150.78 272.69 L151.98 272.69 L151.98 272.13 L153.24 272.13 L153.24 271.42 L154.51 271.42 L154.51 270.99 L155.33 270.99 L155.33 270.92 L156.51 270.92 L156.51 270.28 L157.6 270.28 L157.6 268.83 L159.29 268.83 L159.29 268.16 L160.5 268.16 L160.5 268.35 L161.85 268.35 L161.85 268.16 L162.85 268.16 L162.85 268.32 L164.78 268.32 L164.78 266.7 L165.72 266.7 L165.72 266.06 L167.55 266.06 L167.55 265.58 L168.57 265.58 L168.57 265.58 L170.18 265.58 L170.18 264.13 L171.41 264.13 L171.41 263.23 L173.22 263.23 L173.22 262.62 L174.54 262.62 L174.54 262.22 L176.52 262.22 L176.52 260.96 L178.53 260.96 L178.53 261.69 L180.59 261.69 L180.59 262.33 L182.57 262.33 L182.57 261.67 L184.44 261.67 L184.44 265.33 L185.9 265.33 L185.9 265.58 L186.97 265.58 L186.97 266.08 L188.13 266.08 L188.13 265.9 L188.96 265.9 L188.96 265.9 L190.65 265.9 L190.65 265.9 L192.59 265.9 L192.59 260.1" fill="none" stroke="#cc1111" stroke-width="2.1" stroke-linejoin="round" stroke-linecap="butt" opacity="1.0"/>
<path d="M289.2 261.94 L290.49 261.94 L290.49 255.15 L291.8 255.15 L291.8 254.75 L293.62 254.75 L293.62 253.34 L294.69 253.34 L294.69 252.43 L295.69 252.43 L295.69 251.83 L297.68 251.83 L297.68 251.22 L299.5 251.22 L299.5 250.93 L300.54 250.93 L300.54 251.24 L302.27 251.24 L302.27 251.28 L304.19 251.28 L304.19 251.68 L305.85 251.68 L305.85 251.35 L307.24 251.35 L307.24 252.63 L309.15 252.63 L309.15 252.05 L311.11 252.05 L311.11 253.25 L312.99 253.25 L312.99 253.27 L314.55 253.27 L314.55 253.48 L315.73 253.48 L315.73 254.38 L316.56 254.38 L316.56 254.85 L317.71 254.85 L317.71 254.48 L318.93 254.48 L318.93 254.09 L319.97 254.09 L319.97 253.32 L321.57 253.32 L321.57 253 L323.32 253 L323.32 253.42 L325.27 253.42 L325.27 252.88 L326.35 252.88 L326.35 253.58 L327.93 253.58 L327.93 253.46 L328.94 253.46 L328.94 253.14 L330.63 253.14 L330.63 259.44 L332.65 259.44 L332.65 259.55 L334.68 259.55 L334.68 259.35 L336.71 259.35 L336.71 259.75 L338.03 259.75 L338.03 259.82 L339.61 259.82 L339.61 259.9 L340.78 259.9 L340.78 259.88 L341.73 259.88 L341.73 260.77 L342.94 260.77 L342.94 260.13 L343.94 260.13 L343.94 261.3 L345.2 261.3 L345.2 261.4 L347.25 261.4 L347.25 261.24 L348.11 261.24 L348.11 260.5 L349.77 260.5 L349.77 258.99 L351.19 258.99 L351.19 259.63 L352.13 259.63 L352.13 259.64 L353.44 259.64 L353.44 259.71 L354.84 259.71 L354.84 260.07 L355.67 260.07 L355.67 260.12 L357.6 260.12 L357.6 261.03 L359.03 261.03 L359.03 260.94 L360.13 260.94 L360.13 261.1 L362.04 261.1 L362.04 261.19 L364.02 261.19 L364.02 262.86 L365.33 262.86 L365.33 262.41 L366.96 262.41 L366.96 262.7 L368.71 262.7 L368.71 262.44 L369.76 262.44 L369.76 268.8 L371.71 268.8 L371.71 269.11 L372.93 269.11 L372.93 264 L374.75 264 L374.75 264 L376.59 264 L376.59 264.22 L378.26 264.22 L378.26 264.59 L380.28 264.59 L380.28 264.66 L382.31 264.66 L382.31 263.9 L383.15 263.9 L383.15 263.8 L384.1 263.8 L384.1 263.68 L385.74 263.68 L385.74 263.02 L387.35 263.02 L387.35 263.63 L389.33 263.63 L389.33 262.35 L391.31 262.35 L391.31 263.33 L392.24 263.33 L392.24 262.69 L394.04 262.69 L394.04 262.37 L395.54 262.37 L395.54 261.58 L396.58 261.58 L396.58 261.02 L397.79 261.02 L397.79 260.38 L399.58 260.38 L399.58 256.34 L400.39 256.34 L400.39 256.43 L401.8 256.43 L401.8 260.9 L403.38 260.9 L403.38 260.71 L405.15 260.71 L405.15 260.21 L407.02 260.21 L407.02 260.9 L407.91 260.9 L407.91 258.57 L409.72 258.57 L409.72 254.43 L411.13 254.43 L411.13 254.8 L412.03 254.8 L412.03 254.97 L413.96 254.97 L413.96 254.71 L415.86 254.71 L415.86 254.8 L416.73 254.8 L416.73 254.8 L417.76 254.8 L417.76 255.27 L419.09 255.27 L419.09 254.8" fill="none" stroke="#cc1111" stroke-width="2.1" stroke-linejoin="round" stroke-linecap="butt" opacity="1.0"/>
<path d="M72 459.6 L72.4 478 L73.9 472.3 L75.5 468 L77.3 464.2 L78.9 464.2 L79.6 467.7 L83.1 467.7 L83.6 475.8 L84.2 470 L86.6 470 L87.3 466.1 L90 466.1 L90.5 467.7 L94.6 467.7 L97 471.2 L100.4 473.5 L105 474.6 L108.5 475.3 L109 470 L109.7 475.8 L114.3 473.5 L115.4 468.9 L122.4 468.9 L123.5 471.6 L127 471.6 L128.8 478.6 L143.1 478.6 L144.3 480.9 L150 480.9 L150.5 478.1 L158.2 478.1 L158.8 470.7 L167.4 470.7" fill="none" stroke="#cc1111" stroke-width="1.9" stroke-linejoin="round" stroke-linecap="butt" opacity="1.0"/>
<path d="M290.8 468.9 L292.81 468.9 L292.81 459 L294.68 459 L294.68 459.69 L296.33 459.69 L296.33 460.27 L297.9 460.27 L297.9 459 L299.24 459 L299.24 460.21 L301.31 460.21 L301.31 459.25 L302.8 459.25 L302.8 459 L303.63 459 L303.63 462.86 L304.82 462.86 L304.82 466.98 L306.28 466.98 L306.28 465.01 L307.09 465.01 L307.09 464.71 L308.54 464.71 L308.54 465.8 L310.19 465.8 L310.19 466.98 L312.01 466.98 L312.01 465.8 L313.97 465.8 L313.97 466.18 L315.77 466.18 L315.77 465.23 L317.81 465.23 L317.81 461.3 L319.51 461.3 L319.51 460.5 L320.93 460.5 L320.93 460.3 L322.36 460.3 L322.36 460.2 L323.6 460.2 L323.6 460.11 L325.55 460.11 L325.55 460.17 L327.53 460.17 L327.53 459.82 L328.94 459.82 L328.94 459.19 L330.63 459.19 L330.63 461.31 L331.76 461.31 L331.76 460.39 L332.94 460.39 L332.94 460.71 L334.64 460.71 L334.64 460.91 L336.27 460.91 L336.27 459.94 L337.32 459.94 L337.32 461.58 L338.91 461.58 L338.91 460.9 L340.63 460.9 L340.63 460.25 L341.66 460.25 L341.66 461.14 L342.52 461.14 L342.52 461.89 L343.65 461.89 L343.65 464 L344.57 464 L344.57 464.74 L345.67 464.74 L345.67 464.26 L347 464.26 L347 462.4 L347.82 462.4 L347.82 460.97 L349.47 460.97 L349.47 463.21 L350.29 463.21 L350.29 463.75 L351.09 463.75 L351.09 466.59 L352.08 466.59 L352.08 468.53 L353.36 468.53 L353.36 472.44 L354.34 472.44 L354.34 471.93 L355.92 471.93 L355.92 473.57 L356.84 473.57 L356.84 472.85 L358.21 472.85 L358.21 475.27 L359.95 475.27 L359.95 476.56 L361.71 476.56 L361.71 477.98 L363.41 477.98 L363.41 478.19 L365.05 478.19 L365.05 477.38 L366.41 477.38 L366.41 478.2 L367.35 478.2 L367.35 477.62 L368.8 477.62 L368.8 478.93 L369.92 478.93 L369.92 477.25 L371.25 477.25 L371.25 477.06 L372.21 477.06 L372.21 475.23 L373.2 475.23 L373.2 477.9 L374.64 477.9 L374.64 478.94 L376.63 478.94 L376.63 479.67 L377.72 479.67 L377.72 478.89 L379.26 478.89 L379.26 479.59 L381.09 479.59 L381.09 479.54 L382.2 479.54 L382.2 479.59 L382.98 479.59 L382.98 479.21 L383.91 479.21 L383.91 479.46 L385 479.46 L385 478.48 L386.08 478.48 L386.08 479.46 L387.47 479.46 L387.47 479.79 L388.52 479.79 L388.52 479.33 L390.56 479.33 L390.56 479.28 L391.9 479.28 L391.9 479.48 L392.75 479.48 L392.75 479.29 L393.76 479.29 L393.76 480.1 L395.02 480.1 L395.02 480.42 L396.59 480.42 L396.59 480.5 L397.86 480.5 L397.86 479.75 L398.77 479.75 L398.77 480.3 L400.42 480.3 L400.42 479.3 L401.73 479.3 L401.73 478.69 L403.28 478.69 L403.28 478.31 L404.55 478.31 L404.55 473.73 L405.42 473.73 L405.42 473.23 L406.45 473.23 L406.45 472.57 L407.84 472.57 L407.84 472.44 L409.13 472.44 L409.13 470.89 L410.02 470.89 L410.02 471.18 L411.63 471.18 L411.63 469.57 L413.31 469.57 L413.31 467.88 L415.1 467.88 L415.1 464.75 L416.53 464.75 L416.53 462.5 L418.34 462.5 L418.34 460.01 L419.75 460.01 L419.75 459.7" fill="none" stroke="#cc1111" stroke-width="2.1" stroke-linejoin="round" stroke-linecap="butt" opacity="1.0"/>
<path d="M71.5 657.7 L73.24 657.7 L73.24 647.98 L75.25 647.98 L75.25 650.43 L77.23 650.43 L77.23 648.25 L79.23 648.25 L79.23 643.75 L81.19 643.75 L81.19 641.14 L82.29 641.14 L82.29 642.45 L83.08 642.45 L83.08 643.24 L85.05 643.24 L85.05 646.45 L86.04 646.45 L86.04 643.75 L87 643.75 L87 641.11 L87.95 641.11 L87.95 641.74 L89 641.74 L89 649.02 L90.91 649.02 L90.91 648.88 L92.39 648.88 L92.39 648.74 L93.44 648.74 L93.44 649.56 L95.12 649.56 L95.12 651.55 L97.06 651.55 L97.06 653.66 L98.06 653.66 L98.06 653.97 L99.23 653.97 L99.23 656.21 L100.01 656.21 L100.01 656.59 L101.23 656.59 L101.23 657.95 L102.64 657.95 L102.64 657.69 L104.33 657.69 L104.33 658.5 L105.14 658.5 L105.14 658 L107.02 658 L107.02 658.5 L108.28 658.5 L108.28 657.14 L109.12 657.14 L109.12 658.5" fill="none" stroke="#cc1111" stroke-width="2.1" stroke-linejoin="round" stroke-linecap="butt" opacity="1.0"/>
<path d="M110 658.3 L175 658.3 L178 657.9 L183 658 L185 658.3 L193.5 658.3" fill="none" stroke="#cc1111" stroke-width="2.0" stroke-linejoin="round" stroke-linecap="butt" opacity="1.0"/>
<path d="M71 22.3V115.3H233.5" fill="none" stroke="#000" stroke-width="1.3"/>
<line x1="68" y1="113.4" x2="71" y2="113.4" stroke="#000" stroke-width="1.1"/>
<text x="65" y="116.5" text-anchor="end" class="t" style="font-size:8.7px" textLength="15.24" lengthAdjust="spacingAndGlyphs">0.00</text>
<line x1="68" y1="90.62" x2="71" y2="90.62" stroke="#000" stroke-width="1.1"/>
<text x="65" y="93.73" text-anchor="end" class="t" style="font-size:8.7px" textLength="15.24" lengthAdjust="spacingAndGlyphs">0.25</text>
<line x1="68" y1="67.85" x2="71" y2="67.85" stroke="#000" stroke-width="1.1"/>
<text x="65" y="70.95" text-anchor="end" class="t" style="font-size:8.7px" textLength="15.24" lengthAdjust="spacingAndGlyphs">0.50</text>
<line x1="68" y1="45.08" x2="71" y2="45.08" stroke="#000" stroke-width="1.1"/>
<text x="65" y="48.18" text-anchor="end" class="t" style="font-size:8.7px" textLength="15.24" lengthAdjust="spacingAndGlyphs">0.75</text>
<line x1="68" y1="22.3" x2="71" y2="22.3" stroke="#000" stroke-width="1.1"/>
<text x="65" y="25.4" text-anchor="end" class="t" style="font-size:8.7px" textLength="15.24" lengthAdjust="spacingAndGlyphs">1.00</text>
<line x1="72.5" y1="115.3" x2="72.5" y2="117.8" stroke="#000" stroke-width="1.1"/>
<text x="72.5" y="127.9" text-anchor="middle" class="t" style="font-size:8.7px" textLength="4.35" lengthAdjust="spacingAndGlyphs">0</text>
<line x1="105.43" y1="115.3" x2="105.43" y2="117.8" stroke="#000" stroke-width="1.1"/>
<text x="105.43" y="127.9" text-anchor="middle" class="t" style="font-size:8.7px" textLength="13.06" lengthAdjust="spacingAndGlyphs">500</text>
<line x1="138.36" y1="115.3" x2="138.36" y2="117.8" stroke="#000" stroke-width="1.1"/>
<text x="138.36" y="127.9" text-anchor="middle" class="t" style="font-size:8.7px" textLength="17.41" lengthAdjust="spacingAndGlyphs">1000</text>
<line x1="171.29" y1="115.3" x2="171.29" y2="117.8" stroke="#000" stroke-width="1.1"/>
<text x="171.29" y="127.9" text-anchor="middle" class="t" style="font-size:8.7px" textLength="17.41" lengthAdjust="spacingAndGlyphs">1500</text>
<line x1="204.22" y1="115.3" x2="204.22" y2="117.8" stroke="#000" stroke-width="1.1"/>
<text x="204.22" y="127.9" text-anchor="middle" class="t" style="font-size:8.7px" textLength="17.41" lengthAdjust="spacingAndGlyphs">2000</text>
<path d="M288.3 21.3V111.8H447.5" fill="none" stroke="#000" stroke-width="1.3"/>
<line x1="285.3" y1="110.3" x2="288.3" y2="110.3" stroke="#000" stroke-width="1.1"/>
<text x="282.3" y="113.4" text-anchor="end" class="t" style="font-size:8.7px" textLength="15.24" lengthAdjust="spacingAndGlyphs">0.00</text>
<line x1="285.3" y1="88.05" x2="288.3" y2="88.05" stroke="#000" stroke-width="1.1"/>
<text x="282.3" y="91.15" text-anchor="end" class="t" style="font-size:8.7px" textLength="15.24" lengthAdjust="spacingAndGlyphs">0.25</text>
<line x1="285.3" y1="65.8" x2="288.3" y2="65.8" stroke="#000" stroke-width="1.1"/>
<text x="282.3" y="68.9" text-anchor="end" class="t" style="font-size:8.7px" textLength="15.24" lengthAdjust="spacingAndGlyphs">0.50</text>
<line x1="285.3" y1="43.55" x2="288.3" y2="43.55" stroke="#000" stroke-width="1.1"/>
<text x="282.3" y="46.65" text-anchor="end" class="t" style="font-size:8.7px" textLength="15.24" lengthAdjust="spacingAndGlyphs">0.75</text>
<line x1="285.3" y1="21.3" x2="288.3" y2="21.3" stroke="#000" stroke-width="1.1"/>
<text x="282.3" y="24.4" text-anchor="end" class="t" style="font-size:8.7px" textLength="15.24" lengthAdjust="spacingAndGlyphs">1.00</text>
<line x1="289.7" y1="111.8" x2="289.7" y2="114.3" stroke="#000" stroke-width="1.1"/>
<text x="289.7" y="124.7" text-anchor="middle" class="t" style="font-size:8.7px" textLength="4.35" lengthAdjust="spacingAndGlyphs">0</text>
<line x1="322" y1="111.8" x2="322" y2="114.3" stroke="#000" stroke-width="1.1"/>
<text x="322" y="124.7" text-anchor="middle" class="t" style="font-size:8.7px" textLength="13.06" lengthAdjust="spacingAndGlyphs">500</text>
<line x1="354.3" y1="111.8" x2="354.3" y2="114.3" stroke="#000" stroke-width="1.1"/>
<text x="354.3" y="124.7" text-anchor="middle" class="t" style="font-size:8.7px" textLength="17.41" lengthAdjust="spacingAndGlyphs">1000</text>
<line x1="386.6" y1="111.8" x2="386.6" y2="114.3" stroke="#000" stroke-width="1.1"/>
<text x="386.6" y="124.7" text-anchor="middle" class="t" style="font-size:8.7px" textLength="17.41" lengthAdjust="spacingAndGlyphs">1500</text>
<line x1="418.9" y1="111.8" x2="418.9" y2="114.3" stroke="#000" stroke-width="1.1"/>
<text x="418.9" y="124.7" text-anchor="middle" class="t" style="font-size:8.7px" textLength="17.41" lengthAdjust="spacingAndGlyphs">2000</text>
<path d="M71 147.6V240.7H233.5" fill="none" stroke="#000" stroke-width="1.3"/>
<line x1="68" y1="239.2" x2="71" y2="239.2" stroke="#000" stroke-width="1.1"/>
<text x="65" y="242.3" text-anchor="end" class="t" style="font-size:8.7px" textLength="15.24" lengthAdjust="spacingAndGlyphs">0.00</text>
<line x1="68" y1="216.3" x2="71" y2="216.3" stroke="#000" stroke-width="1.1"/>
<text x="65" y="219.4" text-anchor="end" class="t" style="font-size:8.7px" textLength="15.24" lengthAdjust="spacingAndGlyphs">0.25</text>
<line x1="68" y1="193.4" x2="71" y2="193.4" stroke="#000" stroke-width="1.1"/>
<text x="65" y="196.5" text-anchor="end" class="t" style="font-size:8.7px" textLength="15.24" lengthAdjust="spacingAndGlyphs">0.50</text>
<line x1="68" y1="170.5" x2="71" y2="170.5" stroke="#000" stroke-width="1.1"/>
<text x="65" y="173.6" text-anchor="end" class="t" style="font-size:8.7px" textLength="15.24" lengthAdjust="spacingAndGlyphs">0.75</text>
<line x1="68" y1="147.6" x2="71" y2="147.6" stroke="#000" stroke-width="1.1"/>
<text x="65" y="150.7" text-anchor="end" class="t" style="font-size:8.7px" textLength="15.24" lengthAdjust="spacingAndGlyphs">1.00</text>
<line x1="72.8" y1="240.7" x2="72.8" y2="243.2" stroke="#000" stroke-width="1.1"/>
<text x="72.8" y="253.9" text-anchor="middle" class="t" style="font-size:8.7px" textLength="4.35" lengthAdjust="spacingAndGlyphs">0</text>
<line x1="105.6" y1="240.7" x2="105.6" y2="243.2" stroke="#000" stroke-width="1.1"/>
<text x="105.6" y="253.9" text-anchor="middle" class="t" style="font-size:8.7px" textLength="13.06" lengthAdjust="spacingAndGlyphs">500</text>
<line x1="138.4" y1="240.7" x2="138.4" y2="243.2" stroke="#000" stroke-width="1.1"/>
<text x="138.4" y="253.9" text-anchor="middle" class="t" style="font-size:8.7px" textLength="17.41" lengthAdjust="spacingAndGlyphs">1000</text>
<line x1="171.2" y1="240.7" x2="171.2" y2="243.2" stroke="#000" stroke-width="1.1"/>
<text x="171.2" y="253.9" text-anchor="middle" class="t" style="font-size:8.7px" textLength="17.41" lengthAdjust="spacingAndGlyphs">1500</text>
<line x1="204" y1="240.7" x2="204" y2="243.2" stroke="#000" stroke-width="1.1"/>
<text x="204" y="253.9" text-anchor="middle" class="t" style="font-size:8.7px" textLength="17.41" lengthAdjust="spacingAndGlyphs">2000</text>
<path d="M288.5 144.2V234.6H447.5" fill="none" stroke="#000" stroke-width="1.3"/>
<line x1="285.5" y1="232.8" x2="288.5" y2="232.8" stroke="#000" stroke-width="1.1"/>
<text x="282.5" y="235.9" text-anchor="end" class="t" style="font-size:8.7px" textLength="15.24" lengthAdjust="spacingAndGlyphs">0.00</text>
<line x1="285.5" y1="210.65" x2="288.5" y2="210.65" stroke="#000" stroke-width="1.1"/>
<text x="282.5" y="213.75" text-anchor="end" class="t" style="font-size:8.7px" textLength="15.24" lengthAdjust="spacingAndGlyphs">0.25</text>
<line x1="285.5" y1="188.5" x2="288.5" y2="188.5" stroke="#000" stroke-width="1.1"/>
<text x="282.5" y="191.6" text-anchor="end" class="t" style="font-size:8.7px" textLength="15.24" lengthAdjust="spacingAndGlyphs">0.50</text>
<line x1="285.5" y1="166.35" x2="288.5" y2="166.35" stroke="#000" stroke-width="1.1"/>
<text x="282.5" y="169.45" text-anchor="end" class="t" style="font-size:8.7px" textLength="15.24" lengthAdjust="spacingAndGlyphs">0.75</text>
<line x1="285.5" y1="144.2" x2="288.5" y2="144.2" stroke="#000" stroke-width="1.1"/>
<text x="282.5" y="147.3" text-anchor="end" class="t" style="font-size:8.7px" textLength="15.24" lengthAdjust="spacingAndGlyphs">1.00</text>
<line x1="290.3" y1="234.6" x2="290.3" y2="237.1" stroke="#000" stroke-width="1.1"/>
<text x="290.3" y="246.6" text-anchor="middle" class="t" style="font-size:8.7px" textLength="4.35" lengthAdjust="spacingAndGlyphs">0</text>
<line x1="322.3" y1="234.6" x2="322.3" y2="237.1" stroke="#000" stroke-width="1.1"/>
<text x="322.3" y="246.6" text-anchor="middle" class="t" style="font-size:8.7px" textLength="13.06" lengthAdjust="spacingAndGlyphs">500</text>
<line x1="354.3" y1="234.6" x2="354.3" y2="237.1" stroke="#000" stroke-width="1.1"/>
<text x="354.3" y="246.6" text-anchor="middle" class="t" style="font-size:8.7px" textLength="17.41" lengthAdjust="spacingAndGlyphs">1000</text>
<line x1="386.3" y1="234.6" x2="386.3" y2="237.1" stroke="#000" stroke-width="1.1"/>
<text x="386.3" y="246.6" text-anchor="middle" class="t" style="font-size:8.7px" textLength="17.41" lengthAdjust="spacingAndGlyphs">1500</text>
<line x1="418.3" y1="234.6" x2="418.3" y2="237.1" stroke="#000" stroke-width="1.1"/>
<text x="418.3" y="246.6" text-anchor="middle" class="t" style="font-size:8.7px" textLength="17.41" lengthAdjust="spacingAndGlyphs">2000</text>
<path d="M71 340V442.8H233.5" fill="none" stroke="#000" stroke-width="1.3"/>
<line x1="68" y1="433.8" x2="71" y2="433.8" stroke="#000" stroke-width="1.1"/>
<text x="65" y="436.9" text-anchor="end" class="t" style="font-size:8.7px" textLength="15.24" lengthAdjust="spacingAndGlyphs">0.00</text>
<line x1="68" y1="410.35" x2="71" y2="410.35" stroke="#000" stroke-width="1.1"/>
<text x="65" y="413.45" text-anchor="end" class="t" style="font-size:8.7px" textLength="15.24" lengthAdjust="spacingAndGlyphs">0.25</text>
<line x1="68" y1="386.9" x2="71" y2="386.9" stroke="#000" stroke-width="1.1"/>
<text x="65" y="390" text-anchor="end" class="t" style="font-size:8.7px" textLength="15.24" lengthAdjust="spacingAndGlyphs">0.50</text>
<line x1="68" y1="363.45" x2="71" y2="363.45" stroke="#000" stroke-width="1.1"/>
<text x="65" y="366.55" text-anchor="end" class="t" style="font-size:8.7px" textLength="15.24" lengthAdjust="spacingAndGlyphs">0.75</text>
<line x1="68" y1="340" x2="71" y2="340" stroke="#000" stroke-width="1.1"/>
<text x="65" y="343.1" text-anchor="end" class="t" style="font-size:8.7px" textLength="15.24" lengthAdjust="spacingAndGlyphs">1.00</text>
<line x1="72.3" y1="442.8" x2="72.3" y2="445.3" stroke="#000" stroke-width="1.1"/>
<text x="72.3" y="456.1" text-anchor="middle" class="t" style="font-size:8.7px" textLength="4.35" lengthAdjust="spacingAndGlyphs">0</text>
<line x1="105.3" y1="442.8" x2="105.3" y2="445.3" stroke="#000" stroke-width="1.1"/>
<text x="105.3" y="456.1" text-anchor="middle" class="t" style="font-size:8.7px" textLength="13.06" lengthAdjust="spacingAndGlyphs">500</text>
<line x1="138.3" y1="442.8" x2="138.3" y2="445.3" stroke="#000" stroke-width="1.1"/>
<text x="138.3" y="456.1" text-anchor="middle" class="t" style="font-size:8.7px" textLength="17.41" lengthAdjust="spacingAndGlyphs">1000</text>
<line x1="171.3" y1="442.8" x2="171.3" y2="445.3" stroke="#000" stroke-width="1.1"/>
<text x="171.3" y="456.1" text-anchor="middle" class="t" style="font-size:8.7px" textLength="17.41" lengthAdjust="spacingAndGlyphs">1500</text>
<line x1="204.3" y1="442.8" x2="204.3" y2="445.3" stroke="#000" stroke-width="1.1"/>
<text x="204.3" y="456.1" text-anchor="middle" class="t" style="font-size:8.7px" textLength="17.41" lengthAdjust="spacingAndGlyphs">2000</text>
<path d="M289.2 339.2V441.9H458" fill="none" stroke="#000" stroke-width="1.3"/>
<line x1="286.2" y1="441.7" x2="289.2" y2="441.7" stroke="#000" stroke-width="1.1"/>
<text x="283.2" y="444.8" text-anchor="end" class="t" style="font-size:8.7px" textLength="10.88" lengthAdjust="spacingAndGlyphs">0.0</text>
<line x1="286.2" y1="421.2" x2="289.2" y2="421.2" stroke="#000" stroke-width="1.1"/>
<text x="283.2" y="424.3" text-anchor="end" class="t" style="font-size:8.7px" textLength="10.88" lengthAdjust="spacingAndGlyphs">0.2</text>
<line x1="286.2" y1="400.7" x2="289.2" y2="400.7" stroke="#000" stroke-width="1.1"/>
<text x="283.2" y="403.8" text-anchor="end" class="t" style="font-size:8.7px" textLength="10.88" lengthAdjust="spacingAndGlyphs">0.4</text>
<line x1="286.2" y1="380.2" x2="289.2" y2="380.2" stroke="#000" stroke-width="1.1"/>
<text x="283.2" y="383.3" text-anchor="end" class="t" style="font-size:8.7px" textLength="10.88" lengthAdjust="spacingAndGlyphs">0.6</text>
<line x1="286.2" y1="359.7" x2="289.2" y2="359.7" stroke="#000" stroke-width="1.1"/>
<text x="283.2" y="362.8" text-anchor="end" class="t" style="font-size:8.7px" textLength="10.88" lengthAdjust="spacingAndGlyphs">0.8</text>
<line x1="286.2" y1="339.2" x2="289.2" y2="339.2" stroke="#000" stroke-width="1.1"/>
<text x="283.2" y="342.3" text-anchor="end" class="t" style="font-size:8.7px" textLength="10.88" lengthAdjust="spacingAndGlyphs">1.0</text>
<line x1="290.7" y1="441.9" x2="290.7" y2="444.4" stroke="#000" stroke-width="1.1"/>
<text x="290.7" y="453.9" text-anchor="middle" class="t" style="font-size:8.7px" textLength="4.35" lengthAdjust="spacingAndGlyphs">0</text>
<line x1="323.5" y1="441.9" x2="323.5" y2="444.4" stroke="#000" stroke-width="1.1"/>
<text x="323.5" y="453.9" text-anchor="middle" class="t" style="font-size:8.7px" textLength="13.06" lengthAdjust="spacingAndGlyphs">500</text>
<line x1="356.3" y1="441.9" x2="356.3" y2="444.4" stroke="#000" stroke-width="1.1"/>
<text x="356.3" y="453.9" text-anchor="middle" class="t" style="font-size:8.7px" textLength="17.41" lengthAdjust="spacingAndGlyphs">1000</text>
<line x1="389.1" y1="441.9" x2="389.1" y2="444.4" stroke="#000" stroke-width="1.1"/>
<text x="389.1" y="453.9" text-anchor="middle" class="t" style="font-size:8.7px" textLength="17.41" lengthAdjust="spacingAndGlyphs">1500</text>
<line x1="421.9" y1="441.9" x2="421.9" y2="444.4" stroke="#000" stroke-width="1.1"/>
<text x="421.9" y="453.9" text-anchor="middle" class="t" style="font-size:8.7px" textLength="17.41" lengthAdjust="spacingAndGlyphs">2000</text>
<line x1="454.7" y1="441.9" x2="454.7" y2="444.4" stroke="#000" stroke-width="1.1"/>
<text x="454.7" y="453.9" text-anchor="middle" class="t" style="font-size:8.7px" textLength="17.41" lengthAdjust="spacingAndGlyphs">2500</text>
<path d="M71 525.8V624.4H229.5" fill="none" stroke="#000" stroke-width="1.3"/>
<line x1="68" y1="624.3" x2="71" y2="624.3" stroke="#000" stroke-width="1.1"/>
<text x="65" y="627.4" text-anchor="end" class="t" style="font-size:8.7px" textLength="10.88" lengthAdjust="spacingAndGlyphs">0.0</text>
<line x1="68" y1="604.6" x2="71" y2="604.6" stroke="#000" stroke-width="1.1"/>
<text x="65" y="607.7" text-anchor="end" class="t" style="font-size:8.7px" textLength="10.88" lengthAdjust="spacingAndGlyphs">0.2</text>
<line x1="68" y1="584.9" x2="71" y2="584.9" stroke="#000" stroke-width="1.1"/>
<text x="65" y="588" text-anchor="end" class="t" style="font-size:8.7px" textLength="10.88" lengthAdjust="spacingAndGlyphs">0.4</text>
<line x1="68" y1="565.2" x2="71" y2="565.2" stroke="#000" stroke-width="1.1"/>
<text x="65" y="568.3" text-anchor="end" class="t" style="font-size:8.7px" textLength="10.88" lengthAdjust="spacingAndGlyphs">0.6</text>
<line x1="68" y1="545.5" x2="71" y2="545.5" stroke="#000" stroke-width="1.1"/>
<text x="65" y="548.6" text-anchor="end" class="t" style="font-size:8.7px" textLength="10.88" lengthAdjust="spacingAndGlyphs">0.8</text>
<line x1="68" y1="525.8" x2="71" y2="525.8" stroke="#000" stroke-width="1.1"/>
<text x="65" y="528.9" text-anchor="end" class="t" style="font-size:8.7px" textLength="10.88" lengthAdjust="spacingAndGlyphs">1.0</text>
<line x1="72.3" y1="624.4" x2="72.3" y2="626.9" stroke="#000" stroke-width="1.1"/>
<text x="72.3" y="636.3" text-anchor="middle" class="t" style="font-size:8.7px" textLength="4.35" lengthAdjust="spacingAndGlyphs">0</text>
<line x1="102.8" y1="624.4" x2="102.8" y2="626.9" stroke="#000" stroke-width="1.1"/>
<text x="102.8" y="636.3" text-anchor="middle" class="t" style="font-size:8.7px" textLength="13.06" lengthAdjust="spacingAndGlyphs">500</text>
<line x1="133.3" y1="624.4" x2="133.3" y2="626.9" stroke="#000" stroke-width="1.1"/>
<text x="133.3" y="636.3" text-anchor="middle" class="t" style="font-size:8.7px" textLength="17.41" lengthAdjust="spacingAndGlyphs">1000</text>
<line x1="163.8" y1="624.4" x2="163.8" y2="626.9" stroke="#000" stroke-width="1.1"/>
<text x="163.8" y="636.3" text-anchor="middle" class="t" style="font-size:8.7px" textLength="17.41" lengthAdjust="spacingAndGlyphs">1500</text>
<line x1="194.3" y1="624.4" x2="194.3" y2="626.9" stroke="#000" stroke-width="1.1"/>
<text x="194.3" y="636.3" text-anchor="middle" class="t" style="font-size:8.7px" textLength="17.41" lengthAdjust="spacingAndGlyphs">2000</text>
<line x1="224.8" y1="624.4" x2="224.8" y2="626.9" stroke="#000" stroke-width="1.1"/>
<text x="224.8" y="636.3" text-anchor="middle" class="t" style="font-size:8.7px" textLength="17.41" lengthAdjust="spacingAndGlyphs">2500</text>
<path d="M71 258V277.7H233.5" fill="none" stroke="#000" stroke-width="1.3"/>
<line x1="68" y1="260.9" x2="71" y2="260.9" stroke="#000" stroke-width="1.1"/>
<text x="65.3" y="262.3" text-anchor="end" class="t" style="font-size:7.5px">1e-1</text>
<line x1="68" y1="266.7" x2="71" y2="266.7" stroke="#000" stroke-width="1.1"/>
<text x="65.3" y="268.1" text-anchor="end" class="t" style="font-size:7.5px">1e-2</text>
<line x1="68" y1="272.5" x2="71" y2="272.5" stroke="#000" stroke-width="1.1"/>
<text x="65.3" y="273.9" text-anchor="end" class="t" style="font-size:7.5px">1e-3</text>
<line x1="71" y1="268.5" x2="233.5" y2="268.5" stroke="#111" stroke-width="1.0" stroke-dasharray="1 1"/>
<text x="72.8" y="286.8" text-anchor="middle" class="t" style="font-size:8.7px" textLength="4.35" lengthAdjust="spacingAndGlyphs">0</text>
<text x="105.6" y="286.8" text-anchor="middle" class="t" style="font-size:8.7px" textLength="13.06" lengthAdjust="spacingAndGlyphs">500</text>
<text x="138.4" y="286.8" text-anchor="middle" class="t" style="font-size:8.7px" textLength="17.41" lengthAdjust="spacingAndGlyphs">1000</text>
<text x="171.2" y="286.8" text-anchor="middle" class="t" style="font-size:8.7px" textLength="17.41" lengthAdjust="spacingAndGlyphs">1500</text>
<text x="204" y="286.8" text-anchor="middle" class="t" style="font-size:8.7px" textLength="17.41" lengthAdjust="spacingAndGlyphs">2000</text>
<path d="M288.5 250.4V270H447.5" fill="none" stroke="#000" stroke-width="1.3"/>
<line x1="285.5" y1="256.2" x2="288.5" y2="256.2" stroke="#000" stroke-width="1.1"/>
<text x="283.8" y="257.8" text-anchor="end" class="t" style="font-size:7.5px">1e-1</text>
<line x1="285.5" y1="262.8" x2="288.5" y2="262.8" stroke="#000" stroke-width="1.1"/>
<text x="283.8" y="264.4" text-anchor="end" class="t" style="font-size:7.5px">1e-2</text>
<line x1="285.5" y1="269.5" x2="288.5" y2="269.5" stroke="#000" stroke-width="1.1"/>
<text x="283.8" y="271.1" text-anchor="end" class="t" style="font-size:7.5px">1e-3</text>
<line x1="289" y1="258.5" x2="447.5" y2="258.5" stroke="#111" stroke-width="1.0" stroke-dasharray="1 1"/>
<text x="290.3" y="278.1" text-anchor="middle" class="t" style="font-size:8.7px" textLength="4.35" lengthAdjust="spacingAndGlyphs">0</text>
<text x="322.3" y="278.1" text-anchor="middle" class="t" style="font-size:8.7px" textLength="13.06" lengthAdjust="spacingAndGlyphs">500</text>
<text x="354.3" y="278.1" text-anchor="middle" class="t" style="font-size:8.7px" textLength="17.41" lengthAdjust="spacingAndGlyphs">1000</text>
<text x="386.3" y="278.1" text-anchor="middle" class="t" style="font-size:8.7px" textLength="17.41" lengthAdjust="spacingAndGlyphs">1500</text>
<text x="418.3" y="278.1" text-anchor="middle" class="t" style="font-size:8.7px" textLength="17.41" lengthAdjust="spacingAndGlyphs">2000</text>
<path d="M71 460V481.9H233.5" fill="none" stroke="#000" stroke-width="1.3"/>
<line x1="68" y1="466.5" x2="71" y2="466.5" stroke="#000" stroke-width="1.1"/>
<text x="65" y="469.1" text-anchor="end" class="t" style="font-size:8px">1.0</text>
<line x1="68" y1="472.8" x2="71" y2="472.8" stroke="#000" stroke-width="1.1"/>
<text x="65" y="475.4" text-anchor="end" class="t" style="font-size:8px">0.7</text>
<line x1="68" y1="479" x2="71" y2="479" stroke="#000" stroke-width="1.1"/>
<text x="65" y="481.6" text-anchor="end" class="t" style="font-size:8px">0.4</text>
<line x1="71" y1="472.5" x2="233.5" y2="472.5" stroke="#111" stroke-width="1.0" stroke-dasharray="1 1"/>
<text x="72.3" y="490.5" text-anchor="middle" class="t" style="font-size:8.7px" textLength="4.35" lengthAdjust="spacingAndGlyphs">0</text>
<text x="105.3" y="490.5" text-anchor="middle" class="t" style="font-size:8.7px" textLength="13.06" lengthAdjust="spacingAndGlyphs">500</text>
<text x="138.3" y="490.5" text-anchor="middle" class="t" style="font-size:8.7px" textLength="17.41" lengthAdjust="spacingAndGlyphs">1000</text>
<text x="171.3" y="490.5" text-anchor="middle" class="t" style="font-size:8.7px" textLength="17.41" lengthAdjust="spacingAndGlyphs">1500</text>
<text x="204.3" y="490.5" text-anchor="middle" class="t" style="font-size:8.7px" textLength="17.41" lengthAdjust="spacingAndGlyphs">2000</text>
<path d="M289.5 458.5V481.1H458" fill="none" stroke="#000" stroke-width="1.3"/>
<line x1="286.5" y1="460.1" x2="289.5" y2="460.1" stroke="#000" stroke-width="1.1"/>
<text x="283.2" y="463" text-anchor="end" class="t" style="font-size:8px">1.0</text>
<line x1="286.5" y1="469.5" x2="289.5" y2="469.5" stroke="#000" stroke-width="1.1"/>
<text x="283.2" y="472.4" text-anchor="end" class="t" style="font-size:8px">0.6</text>
<line x1="286.5" y1="478.2" x2="289.5" y2="478.2" stroke="#000" stroke-width="1.1"/>
<text x="283.2" y="481.1" text-anchor="end" class="t" style="font-size:8px">0.2</text>
<text x="290.7" y="489.8" text-anchor="middle" class="t" style="font-size:8.7px" textLength="4.35" lengthAdjust="spacingAndGlyphs">0</text>
<text x="323.5" y="489.8" text-anchor="middle" class="t" style="font-size:8.7px" textLength="13.06" lengthAdjust="spacingAndGlyphs">500</text>
<text x="356.3" y="489.8" text-anchor="middle" class="t" style="font-size:8.7px" textLength="17.41" lengthAdjust="spacingAndGlyphs">1000</text>
<text x="389.1" y="489.8" text-anchor="middle" class="t" style="font-size:8.7px" textLength="17.41" lengthAdjust="spacingAndGlyphs">1500</text>
<text x="421.9" y="489.8" text-anchor="middle" class="t" style="font-size:8.7px" textLength="17.41" lengthAdjust="spacingAndGlyphs">2000</text>
<text x="454.7" y="489.8" text-anchor="middle" class="t" style="font-size:8.7px" textLength="17.41" lengthAdjust="spacingAndGlyphs">2500</text>
<path d="M70.8 639.2V660.4H240" fill="none" stroke="#000" stroke-width="1.3"/>
<line x1="67.8" y1="645.1" x2="70.8" y2="645.1" stroke="#000" stroke-width="1.1"/>
<text x="66.1" y="647.9" text-anchor="end" class="t" style="font-size:8px">0.45</text>
<line x1="67.8" y1="651.5" x2="70.8" y2="651.5" stroke="#000" stroke-width="1.1"/>
<text x="66.1" y="654.3" text-anchor="end" class="t" style="font-size:8px">0.25</text>
<line x1="67.8" y1="658.1" x2="70.8" y2="658.1" stroke="#000" stroke-width="1.1"/>
<text x="66.1" y="660.9" text-anchor="end" class="t" style="font-size:8px">0.05</text>
<line x1="71" y1="658.5" x2="233.7" y2="658.5" stroke="#111" stroke-width="1.0" stroke-dasharray="1 1"/>
<text x="72.3" y="668.5" text-anchor="middle" class="t" style="font-size:8.7px" textLength="4.35" lengthAdjust="spacingAndGlyphs">0</text>
<text x="102.8" y="668.5" text-anchor="middle" class="t" style="font-size:8.7px" textLength="13.06" lengthAdjust="spacingAndGlyphs">500</text>
<text x="133.3" y="668.5" text-anchor="middle" class="t" style="font-size:8.7px" textLength="17.41" lengthAdjust="spacingAndGlyphs">1000</text>
<text x="163.8" y="668.5" text-anchor="middle" class="t" style="font-size:8.7px" textLength="17.41" lengthAdjust="spacingAndGlyphs">1500</text>
<text x="194.3" y="668.5" text-anchor="middle" class="t" style="font-size:8.7px" textLength="17.41" lengthAdjust="spacingAndGlyphs">2000</text>
<text x="224.8" y="668.5" text-anchor="middle" class="t" style="font-size:8.7px" textLength="17.41" lengthAdjust="spacingAndGlyphs">2500</text>
<text x="8.3" y="14.2" font-weight="bold" font-size="11.2" fill="#000" stroke="#000" stroke-width="0.3" font-family="Liberation Sans, sans-serif" textLength="8.6" lengthAdjust="spacingAndGlyphs">A</text>
<text x="8.9" y="336.2" font-weight="bold" font-size="11.0" fill="#000" stroke="#000" stroke-width="0.3" font-family="Liberation Sans, sans-serif" textLength="7" lengthAdjust="spacingAndGlyphs">B</text>
<text x="37.3" y="26.2" font-weight="bold" font-size="9.6" fill="#000" stroke="#000" stroke-width="0.35" font-family="Liberation Sans, sans-serif" textLength="2.6" lengthAdjust="spacingAndGlyphs">i</text>
<text x="37.5" y="148.5" font-weight="bold" font-size="9.6" fill="#000" stroke="#000" stroke-width="0.35" font-family="Liberation Sans, sans-serif" textLength="5.3" lengthAdjust="spacingAndGlyphs">ii</text>
<text x="253.6" y="25.9" font-weight="bold" font-size="9.6" fill="#000" stroke="#000" stroke-width="0.35" font-family="Liberation Sans, sans-serif" textLength="7.5" lengthAdjust="spacingAndGlyphs">iii</text>
<text x="253.3" y="148" font-weight="bold" font-size="9.6" fill="#000" stroke="#000" stroke-width="0.35" font-family="Liberation Sans, sans-serif" textLength="7.8" lengthAdjust="spacingAndGlyphs">iv</text>
<text x="37.6" y="336.2" font-weight="bold" font-size="9.6" fill="#000" stroke="#000" stroke-width="0.35" font-family="Liberation Sans, sans-serif" textLength="2.9" lengthAdjust="spacingAndGlyphs">i</text>
<text x="253.7" y="335.8" font-weight="bold" font-size="9.6" fill="#000" stroke="#000" stroke-width="0.35" font-family="Liberation Sans, sans-serif" textLength="5.6" lengthAdjust="spacingAndGlyphs">ii</text>
<text x="37.9" y="518.2" font-weight="bold" font-size="9.6" fill="#000" stroke="#000" stroke-width="0.35" font-family="Liberation Sans, sans-serif" textLength="9.3" lengthAdjust="spacingAndGlyphs">iii</text>
<text transform="translate(45.5 68.6) rotate(-90)" text-anchor="middle" class="t" style="font-size:9px" textLength="12.7" lengthAdjust="spacingAndGlyphs">VAF</text>
<text transform="translate(264.8 66) rotate(-90)" text-anchor="middle" class="t" style="font-size:9px" textLength="12.7" lengthAdjust="spacingAndGlyphs">VAF</text>
<text transform="translate(46.3 193) rotate(-90)" text-anchor="middle" class="t" style="font-size:9px" textLength="12.7" lengthAdjust="spacingAndGlyphs">VAF</text>
<text transform="translate(264.8 189) rotate(-90)" text-anchor="middle" class="t" style="font-size:9px" textLength="12.7" lengthAdjust="spacingAndGlyphs">VAF</text>
<text transform="translate(46.8 397) rotate(-90)" text-anchor="middle" class="t" style="font-size:9px" textLength="12.7" lengthAdjust="spacingAndGlyphs">VAF</text>
<text transform="translate(269.6 390) rotate(-90)" text-anchor="middle" class="t" style="font-size:9px" textLength="12.7" lengthAdjust="spacingAndGlyphs">VAF</text>
<text transform="translate(50.6 578) rotate(-90)" text-anchor="middle" class="t" style="font-size:9px" textLength="8.6" lengthAdjust="spacingAndGlyphs">CF</text>
<text transform="translate(45.8 268) rotate(-90)" text-anchor="middle" class="t" style="font-size:8.8px" textLength="24.4" lengthAdjust="spacingAndGlyphs"><tspan font-style="italic">p</tspan>-value</text>
<text transform="translate(263.2 260.3) rotate(-90)" text-anchor="middle" class="t" style="font-size:8.8px" textLength="24.7" lengthAdjust="spacingAndGlyphs"><tspan font-style="italic">p</tspan>-value</text>
<text transform="translate(50.2 470.7) rotate(-90)" text-anchor="middle" class="t" style="font-size:8.8px" textLength="24.5" lengthAdjust="spacingAndGlyphs"><tspan font-style="italic">p</tspan>-value</text>
<text transform="translate(269.6 469.9) rotate(-90)" text-anchor="middle" class="t" style="font-size:8.8px" textLength="25" lengthAdjust="spacingAndGlyphs"><tspan font-style="italic">p</tspan>-value</text>
<text transform="translate(46.4 648.3) rotate(-90)" text-anchor="middle" class="t" style="font-size:8.8px" textLength="25" lengthAdjust="spacingAndGlyphs"><tspan font-style="italic">p</tspan>-value</text>
<text x="152.5" y="296.5" text-anchor="middle" class="tc" textLength="37.5" lengthAdjust="spacingAndGlyphs">Time [days]</text>
<text x="370" y="290.5" text-anchor="middle" class="tc" textLength="37.5" lengthAdjust="spacingAndGlyphs">Time [days]</text>
<text x="152.5" y="501.5" text-anchor="middle" class="tc" textLength="37.5" lengthAdjust="spacingAndGlyphs">Time [days]</text>
<text x="373.5" y="500.5" text-anchor="middle" class="tc" textLength="37.5" lengthAdjust="spacingAndGlyphs">Time [days]</text>
<text x="155.5" y="679.5" text-anchor="middle" class="tc" textLength="37.5" lengthAdjust="spacingAndGlyphs">Time [days]</text>
<text x="82" y="19" class="t" style="font-size:8.5px" textLength="134.2" lengthAdjust="spacingAndGlyphs"><tspan font-style="italic">CALR</tspan><tspan font-size="4.4" dy="-2.7">m</tspan><tspan dy="2.7"> and </tspan><tspan font-style="italic">MPL</tspan><tspan font-size="4.4" dy="-2.7">m</tspan><tspan dy="2.7"> progenitors - CD34+</tspan></text>
<text x="311.5" y="17.6" class="t" style="font-size:8.5px" textLength="106.7" lengthAdjust="spacingAndGlyphs"><tspan font-style="italic">CALR</tspan><tspan font-size="4.4" dy="-2.7">m</tspan><tspan dy="2.7"> and </tspan><tspan font-style="italic">MPL</tspan><tspan font-size="4.4" dy="-2.7">m</tspan><tspan dy="2.7"> granulocytes</tspan></text>
<text x="102.3" y="138.1" class="t" style="font-size:8.8px" textLength="99.2" lengthAdjust="spacingAndGlyphs"><tspan font-style="italic">JAK2</tspan><tspan font-size="4.6" dy="-3.2">V617F</tspan><tspan dy="3.2"> progenitors - CD34+</tspan></text>
<text x="330.6" y="137.5" class="t" style="font-size:8.8px" textLength="74" lengthAdjust="spacingAndGlyphs"><tspan font-style="italic">JAK2</tspan><tspan font-size="4.6" dy="-3.2">V617F</tspan><tspan dy="3.2"> granulocytes</tspan></text>
<text x="112.4" y="337.6" class="t" style="font-size:8.5px" textLength="65.7" lengthAdjust="spacingAndGlyphs">CALR<tspan font-size="4.4" dy="-2.7">m</tspan><tspan dy="2.7"> progenitors</tspan></text>
<text x="338" y="336.6" class="t" style="font-size:8.5px" textLength="74.4" lengthAdjust="spacingAndGlyphs"><tspan font-style="italic">JAK2</tspan><tspan font-size="4.4" dy="-2.7">V617F</tspan><tspan dy="2.7"> progenitors</tspan></text>
<text x="112" y="525.1" class="t" style="font-size:8.5px" textLength="74" lengthAdjust="spacingAndGlyphs"><tspan font-style="italic">JAK2</tspan><tspan font-size="4.4" dy="-2.7">V617F</tspan><tspan dy="2.7"> progenitors</tspan></text>
<rect x="442.2" y="13.4" width="69.2" height="53.8" fill="#fff" stroke="#000" stroke-width="1.3"/>
<line x1="445.2" y1="21.1" x2="453" y2="21.1" stroke="#7b8cff" stroke-width="1.1" stroke-dasharray="1.1 1.6"/>
<text x="456.8" y="24.2" class="t" style="font-size:7.6px" textLength="28.6" lengthAdjust="spacingAndGlyphs"><tspan font-style="italic">JAK2</tspan><tspan font-size="4.3" dy="-2.9">V617F</tspan></text>
<line x1="445.2" y1="30.8" x2="453" y2="30.8" stroke="#f5a623" stroke-width="1.1" stroke-dasharray="1.1 1.6"/>
<text x="456.8" y="33.9" class="t" style="font-size:7.6px" textLength="21.7" lengthAdjust="spacingAndGlyphs"><tspan font-style="italic">CALR</tspan><tspan font-size="4.3" dy="-2.9">m</tspan></text>
<line x1="445.2" y1="40" x2="453" y2="40" stroke="#66dd33" stroke-width="1.3"/>
<text x="456.8" y="43.1" class="t" style="font-size:7.6px" textLength="17.2" lengthAdjust="spacingAndGlyphs"><tspan font-style="italic">MPL</tspan><tspan font-size="4.3" dy="-2.9">m</tspan></text>
<rect x="445.2" y="48" width="7.8" height="3.6" fill="#0a0a8a"/>
<text x="456.8" y="52.9" class="t" style="font-size:7.6px" textLength="42.2" lengthAdjust="spacingAndGlyphs"><tspan font-style="italic">JAK2</tspan><tspan font-size="4.3" dy="-2.9">m</tspan><tspan dy="2.9"> (Avg.)</tspan></text>
<rect x="445.2" y="57.7" width="7.8" height="3.6" fill="#f47a1a"/>
<text x="456.8" y="62.6" class="t" style="font-size:7.6px" textLength="42.4" lengthAdjust="spacingAndGlyphs"><tspan font-style="italic">CALR</tspan><tspan font-size="4.3" dy="-2.9">m</tspan><tspan dy="2.9"> (Avg.)</tspan></text>
<rect x="183.1" y="333.7" width="58.4" height="42.5" fill="#fff" stroke="#000" stroke-width="1.3"/>
<line x1="186.3" y1="339.5" x2="200.2" y2="339.5" stroke="#f2e200" stroke-width="1.1" stroke-dasharray="1.1 1.6"/>
<text x="206" y="343.5" class="t" style="font-size:7.6px" textLength="8.6" lengthAdjust="spacingAndGlyphs">LD</text>
<line x1="186.3" y1="348.8" x2="200.2" y2="348.8" stroke="#f5a623" stroke-width="1.1" stroke-dasharray="1.1 1.6"/>
<text x="206" y="352.8" class="t" style="font-size:7.6px" textLength="10.4" lengthAdjust="spacingAndGlyphs">HD</text>
<rect x="186.3" y="356.2" width="13.9" height="3.6" fill="#f2d600"/>
<text x="206" y="362" class="t" style="font-size:7.6px" textLength="30.1" lengthAdjust="spacingAndGlyphs">LD (Avg.)</text>
<rect x="186.3" y="365.9" width="13.9" height="3.6" fill="#f47a1a"/>
<text x="206" y="371.7" class="t" style="font-size:7.6px" textLength="31.2" lengthAdjust="spacingAndGlyphs">HD (Avg.)</text>
<rect x="425.4" y="345.7" width="60.8" height="47.5" fill="#fff" stroke="#000" stroke-width="1.3"/>
<line x1="429.7" y1="353.7" x2="443.6" y2="353.7" stroke="#88eeff" stroke-width="1.1" stroke-dasharray="1.1 1.6"/>
<text x="447.3" y="357.2" class="t" style="font-size:7.6px" textLength="8.8" lengthAdjust="spacingAndGlyphs">LD</text>
<line x1="429.7" y1="364.5" x2="443.6" y2="364.5" stroke="#3344dd" stroke-width="1.1" stroke-dasharray="1.1 1.6"/>
<text x="447.3" y="368" class="t" style="font-size:7.6px" textLength="10.4" lengthAdjust="spacingAndGlyphs">HD</text>
<rect x="429.7" y="373.2" width="13.9" height="3.6" fill="#88eeff"/>
<text x="447.3" y="378.5" class="t" style="font-size:7.6px" textLength="30.6" lengthAdjust="spacingAndGlyphs">LD (Avg.)</text>
<rect x="429.7" y="383.3" width="13.9" height="3.6" fill="#00009a"/>
<text x="447.3" y="388.6" class="t" style="font-size:7.6px" textLength="31.9" lengthAdjust="spacingAndGlyphs">HD (Avg.)</text>
<rect x="212.2" y="519.5" width="63.4" height="46.4" fill="#fff" stroke="#000" stroke-width="1.3"/>
<line x1="214.2" y1="527.2" x2="227.4" y2="527.2" stroke="#66eecc" stroke-width="1.1" stroke-dasharray="1.1 1.6"/>
<text x="231.3" y="530.1" class="t" style="font-size:7.6px" textLength="12" lengthAdjust="spacingAndGlyphs">Het</text>
<line x1="214.2" y1="536.9" x2="227.4" y2="536.9" stroke="#3344dd" stroke-width="1.1" stroke-dasharray="1.1 1.6"/>
<text x="231.3" y="539.8" class="t" style="font-size:7.6px" textLength="15.9" lengthAdjust="spacingAndGlyphs">Hom</text>
<rect x="214.2" y="545.7" width="13.2" height="3.6" fill="#44e0a0"/>
<text x="231.3" y="550.4" class="t" style="font-size:7.6px" textLength="33.5" lengthAdjust="spacingAndGlyphs">Het (Avg.)</text>
<rect x="214.2" y="556.2" width="13.2" height="3.6" fill="#1133ee"/>
<text x="231.3" y="560.9" class="t" style="font-size:7.6px" textLength="37.6" lengthAdjust="spacingAndGlyphs">Hom (Avg.)</text>
<rect x="0" y="0" width="520" height="1.2" fill="#000"/><rect x="0" y="0" width="1.3" height="688" fill="#000"/><rect x="518.1" y="0" width="1.9" height="688" fill="#000"/><rect x="0" y="686.1" width="520" height="1.9" fill="#000"/>
</svg></body></html>
